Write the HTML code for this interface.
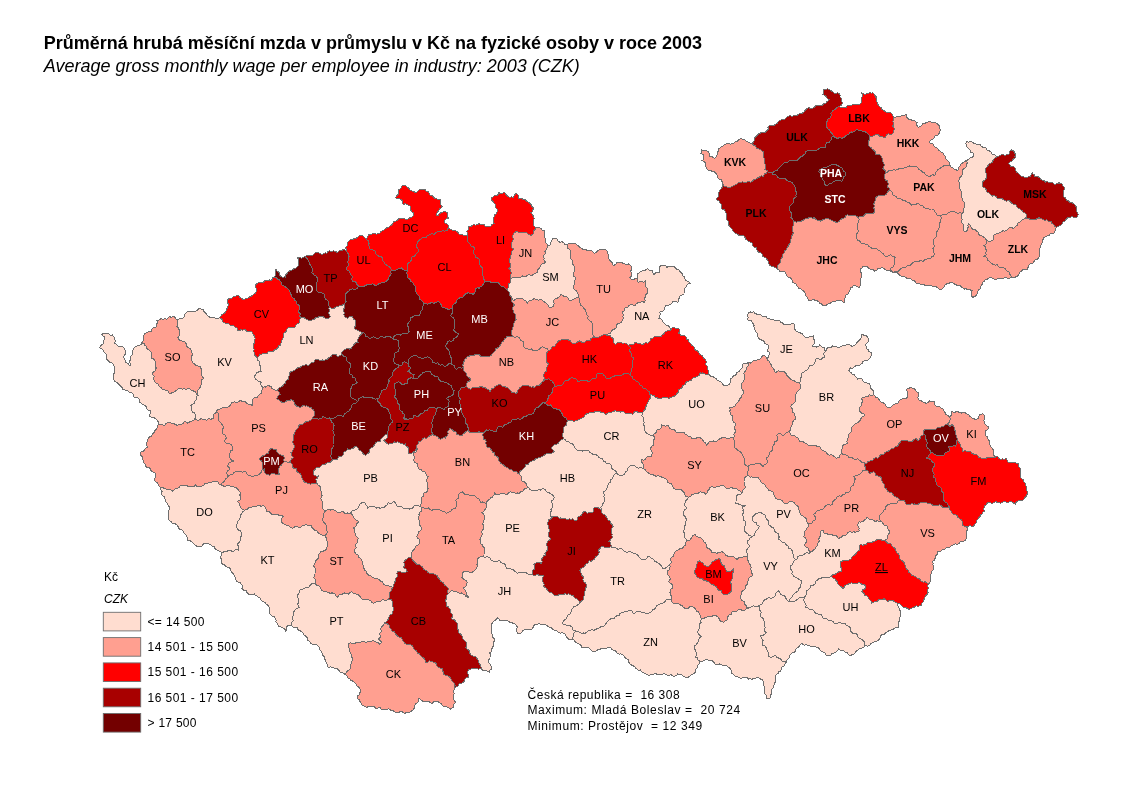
<!DOCTYPE html>
<html lang="cs"><head><meta charset="utf-8"><title>Průměrná hrubá měsíční mzda v průmyslu 2003</title>
<style>
html,body{margin:0;padding:0;background:#fff;}
body{width:1122px;height:794px;position:relative;overflow:hidden;font-family:"Liberation Sans",sans-serif;color:#000;}
.t1{position:absolute;left:43.8px;top:33px;font-size:18px;font-weight:bold;white-space:nowrap;line-height:20px;}
.t2{position:absolute;left:43.8px;top:55.5px;font-size:18px;font-style:italic;white-space:nowrap;line-height:20px;}
svg{position:absolute;left:0;top:0;}
.d{stroke:#6E6E6E;stroke-width:1;stroke-linejoin:round;shape-rendering:crispEdges;}
.l{font-size:11px;text-anchor:middle;font-family:"Liberation Sans",sans-serif;}
.lb{font-size:10.5px;font-weight:bold;text-anchor:middle;font-family:"Liberation Sans",sans-serif;}
.w{fill:#fff;}
.lg{font-size:12px;font-family:"Liberation Sans",sans-serif;}
</style></head><body>
<div class="t1">Průměrná hrubá měsíční mzda v průmyslu v Kč na fyzické osoby v roce 2003</div>
<div class="t2">Average gross monthly wage per employee in industry: 2003 (CZK)</div>
<svg width="1122" height="794" viewBox="0 0 1122 794">
<circle cx="510.5" cy="295.5" r="1.8" fill="#730000"/>
<path class="d" d="M101.8,334.3 103.8,333.0 106.4,333.3 108.7,333.8 109.6,334.7 110.8,335.2 112.5,335.0 113.3,336.7 114.7,337.4 114.3,338.8 115.0,340.2 115.2,342.0 114.2,343.5 116.0,344.1 118.0,346.1 120.1,347.0 122.1,346.7 123.8,347.6 124.5,348.8 125.2,351.0 125.7,353.0 125.3,354.2 124.0,355.8 123.8,357.1 124.5,359.6 125.7,360.9 126.0,362.8 128.4,363.3 129.1,364.9 130.7,366.0 130.4,363.6 129.2,362.5 130.2,360.0 130.2,358.3 130.5,356.3 131.7,355.6 132.4,354.2 132.7,352.6 132.0,351.4 133.2,349.5 134.5,347.3 136.0,346.7 137.8,345.4 139.7,345.4 141.1,344.4 141.4,343.1 143.3,343.1 144.3,343.8 145.0,345.4 146.1,346.1 146.5,347.9 148.1,349.5 149.5,350.2 151.0,352.1 151.9,353.6 151.5,355.7 151.9,358.4 153.5,358.8 154.9,360.7 155.4,363.1 155.0,364.6 155.4,367.1 156.4,368.1 155.3,369.6 154.9,371.4 152.5,372.4 152.6,374.1 154.1,376.5 153.2,378.9 154.5,380.6 155.4,382.7 156.5,383.6 158.5,384.2 158.9,385.7 160.1,386.9 161.3,387.7 162.0,389.1 163.9,389.6 166.1,390.4 167.8,390.4 168.4,392.5 170.3,393.8 172.0,392.6 173.5,392.5 175.0,391.4 175.6,390.6 177.1,390.1 178.2,388.7 180.1,388.6 182.0,389.1 184.2,388.9 186.3,389.1 187.8,388.6 189.8,388.8 191.4,390.2 192.8,390.6 195.2,391.9 196.6,394.1 198.1,395.3 196.8,396.0 196.3,397.5 196.4,399.5 194.9,401.3 194.5,403.0 192.6,404.3 190.6,405.6 192.0,407.6 191.4,409.6 192.3,412.0 194.5,413.0 195.3,414.1 196.0,416.3 195.1,417.7 194.9,419.5 192.4,420.5 190.7,421.9 188.5,422.1 187.5,423.0 185.8,421.7 184.2,421.7 183.6,423.5 182.1,423.8 180.6,424.9 178.2,424.8 176.7,425.9 176.0,424.6 174.2,423.9 172.8,423.2 171.3,423.2 170.4,422.5 168.5,422.8 167.3,422.8 165.8,423.7 164.9,425.3 163.2,425.1 162.2,424.1 160.4,424.7 158.9,424.5 158.5,422.3 157.4,420.9 156.8,419.5 155.1,418.6 154.4,417.2 152.6,417.4 151.4,417.4 149.9,416.3 149.9,414.3 150.2,412.6 151.0,411.0 148.4,410.1 147.0,409.3 146.1,406.7 144.6,405.1 142.6,404.8 141.4,403.5 139.6,402.0 139.0,399.3 138.0,398.1 136.2,397.0 133.9,397.1 133.8,394.9 132.8,393.5 130.9,392.5 129.2,392.9 128.8,391.6 127.5,390.6 126.0,390.8 124.2,389.6 122.1,389.6 122.5,388.5 121.7,386.8 120.5,386.1 118.9,384.2 117.4,382.7 116.3,382.0 114.7,381.7 114.5,380.6 113.4,379.2 113.1,376.7 113.2,374.3 114.5,372.8 114.5,370.6 114.0,369.2 114.3,366.4 113.5,365.4 113.1,363.8 111.4,362.8 110.0,362.6 108.9,361.4 107.8,360.2 106.5,359.1 106.3,356.9 106.1,354.2 104.4,352.6 103.4,351.0 103.1,349.8 101.5,348.3 99.6,347.8 100.8,345.8 102.3,344.2 103.9,343.5 103.5,341.5 104.2,338.9 104.1,336.6 102.8,335.8Z" fill="#FFDDD0"/>
<path class="d" d="M177.8,320.0 179.6,318.8 182.3,318.5 184.2,317.0 184.1,315.2 185.3,313.6 186.9,312.6 187.4,311.4 188.8,311.7 190.3,311.3 192.2,311.9 194.9,311.4 197.5,310.5 198.5,308.8 199.6,308.2 201.5,309.3 203.1,309.0 203.4,311.1 204.3,312.0 205.4,313.0 206.7,313.6 207.0,314.8 208.1,316.0 209.7,317.3 210.9,317.6 213.3,317.1 214.6,317.4 216.3,318.9 217.8,319.0 219.5,317.8 221.0,318.4 222.2,319.9 223.3,322.3 225.4,323.3 227.0,323.2 229.0,324.1 229.9,324.7 231.0,326.1 232.1,325.7 233.9,325.8 234.8,327.0 236.6,327.6 237.7,328.8 237.7,330.7 239.4,330.8 240.8,329.6 242.3,330.1 244.2,329.6 245.8,330.1 247.0,331.9 249.6,331.2 251.6,331.8 252.7,332.8 252.9,334.1 254.2,335.7 255.1,338.4 254.6,340.0 254.9,341.4 254.4,343.0 253.3,343.9 253.0,346.1 253.8,347.8 254.1,349.8 253.7,351.0 254.5,353.2 255.0,355.5 257.0,357.4 257.6,360.0 259.4,361.6 259.6,363.2 259.1,364.9 260.4,365.9 260.7,367.2 260.6,369.9 261.3,371.4 259.3,371.8 257.1,372.4 256.2,373.9 254.7,376.1 254.8,377.8 255.7,379.4 256.9,379.9 258.6,381.5 261.3,382.0 260.5,383.5 261.1,385.5 262.5,387.3 262.4,389.5 261.5,391.1 261.2,393.3 259.1,395.0 257.5,396.3 257.0,397.6 254.9,397.4 253.8,398.2 252.8,399.4 252.4,402.1 252.0,404.1 252.7,405.6 251.0,404.7 248.7,404.4 247.1,403.8 246.3,402.4 244.9,401.6 242.4,401.8 241.2,400.6 239.8,400.2 239.0,401.7 236.3,402.5 234.5,401.8 232.3,402.4 231.1,403.5 230.4,405.2 229.6,406.1 228.0,406.7 227.4,407.9 224.9,407.7 222.6,407.6 221.2,408.4 219.6,409.2 217.9,409.4 217.1,410.3 216.4,412.0 214.8,413.7 213.6,414.4 213.0,416.7 213.1,418.4 211.0,419.2 209.0,418.6 207.5,419.5 206.7,420.6 205.0,419.4 202.5,419.1 201.3,418.4 199.2,420.0 197.1,420.1 194.9,419.5 195.1,417.7 196.0,416.3 195.3,414.1 194.5,413.0 192.3,412.0 191.4,409.6 192.0,407.6 190.6,405.6 192.6,404.3 194.5,403.0 194.9,401.3 196.4,399.5 196.3,397.5 196.8,396.0 198.1,395.3 197.3,393.0 197.3,391.7 198.1,389.6 199.5,388.6 200.5,386.5 201.3,384.2 201.6,381.6 201.7,379.9 203.1,379.1 203.5,377.8 202.0,376.4 201.8,375.0 201.3,372.4 202.1,369.9 200.6,367.8 200.3,366.0 197.5,366.0 195.3,365.1 194.6,363.7 192.8,362.8 192.3,361.3 191.1,360.3 191.9,358.2 191.7,356.4 192.3,354.8 192.3,353.2 191.6,352.2 191.4,350.3 190.2,348.5 188.5,347.8 186.8,346.6 186.2,343.9 184.7,341.7 183.1,341.4 180.4,340.7 178.8,339.2 177.8,337.1 179.4,335.6 179.2,334.4 179.9,332.8 179.9,330.9 178.7,328.9 178.0,327.4 176.7,326.4 177.9,323.9 177.3,322.0Z" fill="#FFDDD0"/>
<path class="d" d="M547.4,246.0 549.9,245.2 550.8,243.4 551.3,240.7 552.7,238.9 554.3,238.3 555.6,238.5 557.1,239.2 557.9,241.2 559.9,242.2 562.0,241.7 564.3,243.1 564.9,244.5 567.3,244.9 567.9,246.1 567.8,248.2 569.7,249.7 570.5,251.3 570.9,253.8 570.4,255.3 570.2,258.0 571.7,259.6 572.7,262.0 572.7,264.1 573.4,265.2 575.0,266.7 574.0,269.0 574.3,270.8 573.7,272.7 573.2,274.5 573.8,276.4 575.1,277.0 575.9,279.1 574.6,280.4 574.0,281.8 574.6,283.4 573.7,285.6 574.0,286.8 573.9,288.5 574.7,289.9 576.2,290.9 577.1,292.0 578.0,294.1 578.4,296.1 578.9,297.8 579.9,298.5 578.1,297.5 575.4,298.1 574.1,299.0 572.8,299.3 571.6,300.6 570.2,300.6 568.7,299.6 567.9,298.0 566.3,296.3 564.2,296.4 562.7,295.4 560.9,294.2 560.5,295.8 558.9,297.2 557.3,298.2 555.6,298.5 554.0,299.8 553.7,301.3 554.1,303.6 553.4,306.0 551.0,307.4 549.1,307.0 548.6,305.6 547.6,304.5 546.5,303.9 545.5,302.5 543.8,301.7 542.5,300.2 540.2,299.7 538.8,300.2 536.3,299.4 534.2,298.5 532.0,300.1 529.4,300.6 528.1,301.5 527.7,303.8 526.6,302.6 525.9,300.8 524.2,300.4 522.4,298.5 520.4,299.0 519.0,298.5 517.8,299.0 516.0,298.9 513.8,300.6 512.0,298.7 510.9,297.4 510.9,295.2 509.6,294.8 508.5,293.1 507.7,291.5 507.4,289.9 507.7,288.1 508.4,287.2 508.5,285.6 508.9,283.7 510.4,282.6 510.8,281.5 510.6,279.6 512.4,277.5 514.3,277.3 516.2,277.4 518.1,278.1 520.3,277.4 522.4,276.0 524.0,276.6 526.3,276.3 527.6,275.0 529.9,274.9 531.7,275.4 533.5,274.5 535.6,273.0 537.4,272.8 537.5,270.8 538.1,269.3 539.8,267.9 540.6,265.3 542.3,263.8 544.0,263.4 545.9,262.1 544.6,261.6 543.9,259.9 544.2,258.4 543.6,257.0 543.8,255.2 545.2,253.8 544.9,251.4 545.9,250.6 546.6,248.8 547.2,247.9Z" fill="#FFDDD0"/>
<path class="d" d="M637.1,278.2 637.0,275.7 637.5,274.0 639.1,273.0 640.3,271.4 641.9,271.0 643.0,270.1 645.0,270.8 646.4,269.1 647.8,268.8 649.5,270.3 652.1,270.5 652.6,272.6 654.2,274.6 655.0,273.3 656.6,272.4 658.0,273.1 659.6,272.5 659.3,270.9 659.7,268.7 659.8,266.9 660.6,266.0 662.4,265.2 663.7,265.4 665.5,265.7 667.1,267.5 668.8,266.0 670.6,266.1 672.7,267.0 674.5,266.7 675.5,268.4 677.0,269.2 679.5,270.2 680.2,272.0 682.0,273.5 682.7,275.7 683.8,276.2 685.0,277.3 684.9,278.6 685.5,280.7 687.6,281.2 689.0,281.7 690.2,283.2 688.1,283.7 686.6,285.2 686.1,286.9 684.2,288.5 684.4,290.9 684.1,292.1 684.0,293.8 683.1,294.9 681.9,295.1 680.1,296.1 679.3,297.9 678.3,299.6 678.3,300.8 677.8,302.4 675.6,301.1 673.5,301.4 672.4,302.2 671.1,303.9 668.8,305.2 666.0,305.6 664.7,307.7 664.8,309.1 664.0,310.3 662.3,311.3 659.6,312.1 660.3,313.4 659.8,315.6 659.7,317.2 658.5,318.5 661.1,319.1 662.6,320.6 663.1,322.2 664.9,323.8 666.1,325.0 668.1,325.6 669.5,327.1 670.2,328.3 670.2,330.2 668.3,330.4 666.7,331.4 665.3,331.8 664.5,333.4 662.7,334.5 661.2,336.2 659.7,336.5 657.8,336.7 656.8,336.1 654.2,336.7 652.9,338.0 650.9,338.8 650.2,340.7 649.1,342.2 647.8,343.1 645.6,342.9 643.7,343.7 643.1,344.9 641.8,344.6 640.3,343.8 638.1,343.9 636.5,342.2 635.0,342.0 634.3,343.7 633.2,344.4 630.8,344.3 628.5,345.2 627.1,343.9 624.7,343.0 622.1,343.1 620.5,342.4 619.0,342.6 616.7,343.0 615.7,344.2 614.3,343.5 613.3,341.4 613.5,339.2 612.4,337.7 610.8,336.8 610.1,335.5 607.4,335.4 604.8,334.5 602.8,335.1 604.9,334.3 606.5,334.9 608.1,334.0 609.9,333.6 611.4,331.3 612.0,330.2 614.1,329.4 616.1,327.9 616.8,327.0 616.7,324.9 617.7,323.6 620.1,323.0 621.6,321.8 622.1,320.6 623.3,318.4 622.8,316.7 623.3,314.6 622.2,313.2 622.1,312.1 624.0,311.1 624.1,309.3 625.3,307.8 627.8,307.3 628.7,305.7 629.8,305.1 632.2,304.5 633.1,305.2 634.9,305.6 636.5,303.6 637.8,302.8 640.2,302.6 642.0,301.4 644.6,302.4 645.2,300.4 644.5,297.9 645.5,296.9 645.6,294.9 647.6,293.0 647.3,290.7 647.8,288.5 646.2,287.3 645.7,285.5 646.0,282.8 645.6,281.0 644.4,282.0 643.0,282.1 640.6,281.6 638.1,282.1 637.3,280.6Z" fill="#FFDDD0"/>
<path class="d" d="M300.6,317.7 301.9,317.1 303.8,317.2 304.8,318.6 307.2,319.3 309.1,320.5 311.2,320.5 312.7,319.4 314.1,319.3 314.8,318.4 316.2,317.5 318.0,317.6 318.8,316.5 320.6,316.1 323.0,316.6 324.1,317.8 326.0,318.2 328.7,318.3 330.5,316.7 329.1,314.9 328.7,312.2 329.8,310.4 328.9,308.4 329.4,307.0 330.9,308.1 332.9,308.8 334.1,308.6 335.7,307.0 337.5,306.9 339.4,305.9 342.1,305.4 343.9,304.1 344.7,306.2 344.3,308.1 343.0,310.4 344.2,312.4 343.9,314.9 345.3,317.1 347.5,318.5 348.4,317.5 350.4,316.5 352.8,316.7 353.3,318.9 354.8,319.8 355.5,321.1 355.9,323.7 355.6,325.3 354.6,327.4 354.8,328.6 356.2,329.9 357.6,330.2 359.1,331.0 360.3,331.2 361.8,332.6 363.6,332.8 362.2,333.1 361.1,334.6 359.4,335.7 359.1,337.2 357.9,339.5 357.6,341.4 358.2,342.6 355.6,342.7 353.7,344.6 353.1,346.0 351.9,347.1 351.1,348.5 349.6,349.1 348.4,348.4 346.6,348.9 345.4,349.1 343.7,350.3 341.9,352.0 341.7,353.9 340.3,355.9 339.0,356.0 337.6,356.9 336.3,354.9 334.4,355.0 333.2,354.2 331.9,354.9 331.1,356.5 328.7,357.8 327.1,359.3 324.6,360.2 322.6,360.0 321.5,360.5 319.9,360.6 318.1,359.3 315.3,359.6 314.4,360.3 314.0,362.2 311.4,362.7 309.9,364.1 308.0,365.8 306.9,364.9 305.3,364.9 303.7,365.8 300.9,366.2 300.1,367.4 298.3,367.6 296.3,368.5 294.6,370.4 292.0,371.2 290.7,371.4 289.4,373.2 289.4,375.5 288.5,376.6 288.5,379.2 286.8,380.2 285.9,381.4 285.8,382.8 284.1,384.0 283.6,384.9 282.4,386.2 281.4,386.9 279.5,387.3 278.2,389.4 276.8,390.0 275.2,390.0 273.2,389.1 272.1,388.6 271.3,386.8 270.1,386.4 268.8,385.5 267.2,385.7 265.9,387.1 264.5,386.8 262.5,387.3 261.1,385.5 260.5,383.5 261.3,382.0 258.6,381.5 256.9,379.9 255.7,379.4 254.8,377.8 254.7,376.1 256.2,373.9 257.1,372.4 259.3,371.8 261.3,371.4 260.6,369.9 260.7,367.2 260.4,365.9 259.1,364.9 259.6,363.2 259.4,361.6 257.6,360.0 257.0,357.4 258.8,356.7 259.7,354.9 260.7,354.2 262.6,353.8 265.0,354.0 267.0,353.8 268.2,351.8 269.7,351.5 271.9,351.8 273.1,351.5 274.7,349.8 276.8,348.9 278.1,347.3 278.7,345.6 280.9,345.1 280.7,343.8 281.3,341.7 282.0,339.7 282.7,338.4 283.8,337.3 283.1,335.9 283.1,333.7 284.0,332.8 285.6,331.9 286.8,330.4 287.0,329.2 289.0,327.3 291.4,327.2 293.4,327.6 294.7,327.4 295.9,325.1 297.0,323.9 299.2,322.9 299.5,320.2Z" fill="#FFDDD0"/>
<path class="d" d="M749.2,312.4 750.6,312.0 752.0,312.3 753.7,311.5 754.2,312.9 755.8,313.8 758.0,314.4 759.2,314.4 760.8,315.0 761.6,315.9 763.1,316.8 765.0,316.4 766.2,316.8 766.9,318.1 768.2,318.8 770.3,319.1 772.2,319.1 773.3,319.5 774.8,320.5 776.1,320.5 778.7,320.4 780.0,321.2 781.0,322.4 782.4,323.0 783.6,324.3 785.8,324.0 787.4,324.6 788.7,324.2 790.5,324.1 793.0,323.1 794.3,324.4 794.5,326.5 794.8,329.3 795.7,330.6 797.6,331.9 800.2,332.9 802.5,333.6 802.9,334.9 804.2,336.4 806.1,337.5 807.3,337.4 808.5,337.4 809.9,336.1 811.7,336.5 813.6,335.6 813.7,337.4 813.3,338.7 814.5,340.2 814.5,341.9 814.1,343.8 813.1,344.4 812.7,346.3 814.4,346.4 816.2,347.2 817.1,346.6 818.9,346.3 819.8,344.5 821.2,346.3 822.7,347.4 824.3,347.2 824.3,349.7 825.2,351.7 824.2,352.4 823.8,354.2 824.6,356.6 824.3,358.0 822.3,357.9 821.7,358.9 819.8,359.7 818.4,358.3 817.1,358.0 815.3,360.0 815.3,361.7 814.5,363.3 813.5,364.8 812.3,365.1 811.0,365.1 809.1,366.0 808.9,367.6 808.0,369.1 806.9,370.4 805.5,370.5 803.8,372.0 802.3,372.1 802.0,373.4 801.0,374.9 801.1,377.4 800.3,378.9 800.2,380.3 800.0,381.7 799.3,383.0 797.6,382.9 796.2,382.4 794.8,381.2 793.4,380.2 792.1,380.0 790.5,379.1 789.4,377.6 787.9,376.7 786.9,375.2 785.8,373.2 784.1,371.7 781.4,371.4 779.3,371.2 778.2,370.8 776.5,372.1 775.1,372.3 774.2,370.1 773.6,368.2 771.5,366.9 771.1,364.4 770.0,363.4 769.7,361.5 767.6,360.4 767.1,358.9 768.5,356.8 768.9,355.3 769.2,353.9 769.0,352.2 767.7,351.3 767.1,349.9 768.3,348.4 768.1,347.0 768.9,345.4 766.7,344.5 765.0,343.7 764.4,341.9 763.2,340.2 761.4,340.0 759.9,339.2 758.2,337.5 757.5,336.0 757.2,333.8 756.5,332.3 755.4,331.3 754.7,329.7 754.5,328.5 753.7,326.6 754.1,325.2 752.8,323.1 751.2,320.8 749.0,320.8 747.4,319.5 748.1,317.4 747.6,314.8 748.3,313.1Z" fill="#FFDDD0"/>
<path class="d" d="M825.2,351.7 826.2,350.3 826.8,348.4 828.8,347.2 831.6,347.1 832.9,345.8 833.9,346.5 835.9,346.3 838.0,347.5 840.7,346.9 841.9,345.9 843.1,345.4 845.2,345.8 846.8,344.4 848.4,344.5 850.0,344.8 852.0,346.3 854.3,345.3 856.1,344.1 857.4,341.9 859.1,340.6 860.0,339.5 860.9,338.5 861.2,336.8 861.0,334.7 863.2,334.9 864.5,335.6 866.5,336.0 867.5,337.3 869.0,339.2 868.4,340.4 868.0,342.5 866.3,343.7 865.7,345.1 866.1,346.8 867.2,349.0 868.5,350.1 869.0,351.8 871.7,352.6 871.6,355.4 870.7,356.2 870.3,357.9 869.0,358.9 867.8,360.4 865.9,360.9 864.5,360.6 862.8,361.6 862.0,363.5 861.0,364.2 858.9,365.6 857.5,365.4 855.6,366.0 853.9,367.0 852.8,368.2 850.6,367.9 849.3,368.7 848.9,370.2 849.9,372.0 851.1,372.5 852.0,374.1 854.5,375.0 855.5,376.6 856.8,377.7 857.4,379.4 859.7,378.3 861.9,378.5 862.3,380.2 863.8,381.6 864.9,382.8 867.2,383.0 869.2,383.8 870.2,385.3 870.0,386.7 870.8,388.4 872.8,390.0 873.8,391.9 874.0,393.3 873.5,394.7 871.6,395.5 869.2,394.9 868.1,396.3 866.8,396.8 864.2,397.1 862.9,397.1 861.5,398.6 862.4,400.3 862.6,401.6 861.6,403.1 861.5,405.8 860.1,406.7 859.6,408.5 859.7,411.1 861.6,413.1 863.7,413.8 865.0,414.7 863.6,416.5 861.8,417.1 860.6,419.2 859.5,421.5 857.8,422.4 857.0,423.2 855.2,423.7 853.6,425.8 851.6,427.2 851.5,428.8 852.1,430.1 851.3,431.0 850.7,432.6 849.1,433.7 848.4,435.3 848.0,438.0 847.8,440.1 846.9,441.2 847.2,443.3 845.7,444.2 844.5,444.2 842.7,446.0 842.7,447.8 841.2,450.1 841.1,451.3 841.8,453.5 839.8,455.0 839.5,456.8 838.8,457.8 836.4,458.1 834.5,456.9 832.6,455.1 830.7,454.9 829.3,455.1 827.2,454.2 826.8,452.8 825.7,451.8 823.6,450.6 822.3,450.1 821.0,448.7 820.3,447.4 819.2,446.2 816.9,446.4 815.6,445.4 813.8,445.3 811.6,445.7 810.2,445.5 807.7,445.0 806.6,443.5 804.2,442.9 802.8,441.4 801.2,441.1 799.5,441.7 798.7,439.4 798.3,438.1 796.8,437.2 795.7,436.9 794.3,435.6 792.3,435.4 790.5,434.7 790.1,433.3 788.8,431.9 790.8,429.9 790.7,428.1 791.4,426.5 792.4,424.4 792.4,422.9 793.5,420.3 795.4,419.0 795.9,417.6 795.0,416.1 794.8,415.0 794.3,413.3 792.3,412.2 792.0,411.0 792.4,408.8 790.6,406.8 791.7,404.6 793.6,403.7 795.0,401.7 795.3,399.6 795.0,397.9 795.7,396.7 795.8,394.9 796.1,393.3 796.8,392.1 798.6,390.7 800.2,389.0 800.7,387.5 800.1,386.1 800.4,384.8 799.3,383.0 800.0,381.7 800.2,380.3 800.3,378.9 801.1,377.4 801.0,374.9 802.0,373.4 802.3,372.1 803.8,372.0 805.5,370.5 806.9,370.4 808.0,369.1 808.9,367.6 809.1,366.0 811.0,365.1 812.3,365.1 813.5,364.8 814.5,363.3 815.3,361.7 815.3,360.0 817.1,358.0 818.4,358.3 819.8,359.7 821.7,358.9 822.3,357.9 824.3,358.0 824.6,356.6 823.8,354.2 824.2,352.4Z" fill="#FFDDD0"/>
<path class="d" d="M710.8,376.3 712.9,376.7 714.6,377.8 716.7,379.0 717.1,380.8 718.6,380.7 720.6,381.8 722.4,383.5 723.4,385.0 725.0,385.4 727.8,385.3 729.9,383.7 730.6,382.0 730.9,380.9 730.5,379.0 732.2,377.8 732.8,376.3 734.9,375.4 736.2,374.5 736.8,372.9 737.7,372.0 739.9,371.0 740.1,369.2 741.7,368.6 742.4,367.4 742.2,365.6 742.9,364.2 745.0,363.0 747.1,363.3 748.3,362.4 748.8,364.0 748.4,365.3 747.2,366.9 746.5,368.7 745.6,370.8 744.2,372.4 743.9,373.9 744.7,375.8 744.7,378.2 744.0,380.0 743.5,381.6 742.0,383.0 741.4,385.3 741.8,386.6 741.6,388.2 742.9,390.2 743.6,391.3 743.6,393.5 742.2,394.8 741.1,397.3 739.3,399.0 738.9,401.1 737.6,402.7 736.1,403.8 735.6,405.9 733.1,407.1 731.4,407.1 729.7,407.7 730.3,409.9 729.6,411.1 730.5,412.9 731.0,414.8 732.4,415.8 732.0,417.8 732.0,418.9 733.0,420.7 733.8,422.2 735.1,422.9 735.5,424.7 734.5,426.8 734.6,429.0 735.8,430.6 736.0,431.9 734.9,432.6 733.9,434.1 734.3,436.1 733.3,438.1 730.6,437.5 729.3,438.4 728.0,438.7 726.0,438.0 724.4,437.6 722.0,437.8 719.8,438.7 718.8,439.8 717.6,440.1 716.6,441.6 715.3,441.7 713.5,441.0 711.7,441.6 709.2,442.0 708.0,443.5 706.3,445.2 705.7,442.8 703.5,441.7 702.7,439.8 701.6,438.6 700.3,437.8 698.8,437.8 697.4,437.1 696.7,438.0 695.3,439.0 693.2,438.4 692.0,438.9 690.6,436.6 688.0,436.2 686.6,434.5 685.2,434.0 684.0,432.5 681.3,432.2 679.5,432.7 678.1,432.0 676.3,432.4 674.9,430.5 673.9,429.4 672.3,429.1 670.9,429.0 669.6,428.1 668.7,426.1 667.0,425.5 665.5,426.1 663.7,425.9 661.6,424.6 661.5,426.7 661.3,427.9 659.8,429.1 658.1,429.2 656.2,430.9 656.0,432.7 655.2,433.6 654.0,433.9 652.7,435.4 650.1,435.0 648.4,434.4 647.3,433.6 645.7,432.4 644.9,431.0 644.3,429.1 644.6,427.3 644.4,426.0 643.3,424.6 644.1,422.9 643.7,420.2 643.6,418.0 643.0,416.6 641.7,415.6 642.8,414.4 642.8,412.1 643.7,410.6 645.5,409.4 645.5,407.1 646.4,405.8 647.1,403.7 648.0,402.5 648.2,400.5 649.7,399.1 650.3,397.8 650.0,395.1 651.1,394.8 652.8,395.2 654.5,396.0 655.2,397.0 657.0,397.8 658.5,398.6 659.8,398.7 661.5,398.4 662.6,397.4 665.2,397.8 666.8,397.2 667.7,398.0 669.6,398.0 671.1,397.1 672.3,396.9 674.3,396.2 675.9,395.1 677.0,393.3 678.1,392.5 678.0,390.7 678.6,389.7 680.9,388.4 682.5,387.0 683.1,385.3 685.3,384.2 685.9,382.5 687.9,381.1 690.2,380.8 691.9,379.7 692.3,378.3 693.5,377.5 695.6,377.2 698.0,376.1 699.4,375.1 700.1,372.8 701.4,373.4 703.0,372.8 704.5,373.7 706.0,374.7 708.7,374.9Z" fill="#FFDDD0"/>
<path class="d" d="M567.9,420.8 569.5,420.7 570.8,420.1 573.0,421.1 574.3,421.3 575.8,420.2 576.9,420.3 578.8,419.8 581.1,418.4 583.7,417.3 584.9,415.2 586.5,413.9 588.4,413.9 589.9,412.3 592.1,412.0 593.7,413.0 595.0,411.5 596.5,411.2 598.6,411.3 600.8,412.1 601.8,412.6 603.7,412.9 605.3,414.0 606.6,414.0 608.0,413.0 609.7,412.2 612.1,412.1 614.1,411.5 615.1,410.3 616.4,411.6 618.7,411.7 620.2,412.1 622.3,411.2 624.4,412.1 625.7,413.7 627.4,413.4 629.4,413.9 630.9,413.5 632.7,414.1 634.1,412.5 634.9,411.6 636.6,411.2 637.7,412.5 640.3,412.9 642.8,412.1 642.8,414.4 641.7,415.6 643.0,416.6 643.6,418.0 643.7,420.2 644.1,422.9 643.3,424.6 644.4,426.0 644.6,427.3 644.3,429.1 644.9,431.0 645.7,432.4 647.3,433.6 648.4,434.4 650.1,435.0 652.7,435.4 654.1,436.7 654.6,438.7 653.4,440.1 653.4,442.5 653.5,445.2 651.6,446.5 650.9,447.6 650.9,449.3 651.3,450.8 652.8,452.9 651.9,454.4 652.0,456.3 649.3,456.8 647.8,456.3 646.2,457.6 645.6,459.0 643.5,460.1 641.9,459.8 641.8,462.1 642.8,463.8 643.7,464.6 643.2,466.7 643.6,468.8 642.3,468.4 640.8,467.3 639.1,468.1 637.4,467.9 635.5,466.8 634.8,465.4 632.0,465.2 630.2,465.5 629.5,466.5 627.6,468.5 627.5,470.6 625.3,471.8 624.7,473.9 623.1,475.0 620.9,475.7 619.5,475.1 617.5,474.4 616.8,473.2 615.7,470.9 613.2,469.7 611.3,468.1 611.7,466.4 610.6,464.3 609.1,463.4 606.7,463.7 605.2,461.6 603.1,460.9 602.9,459.5 601.6,458.3 600.6,458.4 598.9,457.7 598.3,456.3 596.1,454.8 594.1,454.9 592.8,454.6 591.8,453.2 589.9,452.6 589.4,451.3 587.9,450.2 586.7,450.6 584.6,450.5 582.6,451.1 581.1,450.2 579.2,450.1 577.7,450.3 575.7,448.7 574.3,447.2 573.4,444.7 571.9,443.5 570.3,443.4 568.7,441.9 567.3,441.0 565.9,441.0 565.5,439.9 564.0,438.9 562.7,436.7 562.2,434.0 563.1,432.6 563.8,430.5 563.1,429.0 564.1,426.9 565.4,425.9 566.6,425.5 566.5,422.9Z" fill="#FFDDD0"/>
<path class="d" d="M741.4,493.6 740.6,491.2 738.2,490.5 736.9,489.1 735.1,488.5 733.7,488.8 731.5,487.3 729.2,488.4 727.3,488.6 726.2,488.2 724.3,486.2 722.9,485.4 720.8,485.5 719.1,487.0 717.0,486.6 715.4,487.3 713.9,487.5 712.2,486.3 710.1,487.3 709.3,489.5 707.4,490.9 707.2,493.0 705.6,494.5 704.7,492.9 703.1,492.1 701.9,492.6 700.2,491.8 698.2,493.3 696.6,493.8 694.9,493.6 693.2,494.5 691.8,494.5 690.5,496.6 688.6,497.2 687.4,499.2 685.9,500.5 685.2,501.6 685.0,503.3 684.8,505.9 686.0,507.0 686.8,508.6 684.8,509.5 684.1,511.0 683.0,512.3 683.2,514.9 685.1,516.7 686.4,519.1 685.9,521.2 685.3,522.4 685.7,524.5 684.4,526.2 684.1,527.4 684.5,528.8 683.6,530.7 683.9,532.3 685.0,533.7 684.2,535.2 685.0,537.8 685.9,538.8 686.6,540.8 688.6,540.4 690.3,539.8 691.3,538.1 692.8,535.8 694.9,534.5 696.5,536.6 698.5,537.2 700.3,537.3 701.3,538.2 702.7,539.4 703.8,541.7 705.4,542.8 706.2,544.8 706.5,546.6 707.4,548.0 709.2,548.7 710.7,550.0 711.9,552.4 714.1,552.0 715.1,552.7 717.2,553.3 718.9,552.2 720.8,552.0 721.7,551.5 723.5,552.7 724.8,553.6 725.3,555.1 727.0,555.7 728.0,556.5 730.1,556.2 731.5,556.9 733.7,556.9 734.6,557.8 736.0,558.2 736.9,559.6 738.4,558.0 740.2,557.9 742.3,557.8 743.2,556.6 745.5,556.2 747.6,556.9 747.8,554.1 747.2,553.3 746.7,551.5 746.6,550.0 747.8,548.3 749.4,546.2 749.2,545.0 747.8,543.6 747.6,540.8 748.9,539.9 750.0,537.9 752.1,537.2 750.8,535.6 748.5,535.0 747.6,533.7 745.4,532.2 744.1,530.1 744.7,528.4 744.4,527.1 745.8,524.7 745.3,523.0 745.4,521.2 744.3,520.9 743.2,519.3 743.7,517.0 742.5,514.8 743.1,513.2 744.1,512.2 742.9,510.3 743.1,509.0 742.3,506.8 744.6,506.5 745.8,505.0 743.6,505.6 742.0,505.1 740.0,504.8 738.7,504.1 736.8,503.1 735.1,503.2 736.0,501.7 736.1,499.6 736.0,497.0 737.5,494.9 739.2,494.9Z" fill="#FFDDD0"/>
<path class="d" d="M747.6,475.7 748.9,476.1 750.2,477.3 751.5,476.8 753.0,477.5 754.5,477.1 756.2,477.6 758.1,477.8 759.0,478.7 760.2,480.2 760.5,481.5 762.1,482.9 763.7,483.4 765.5,485.5 766.0,487.1 767.3,488.1 768.8,490.3 770.9,490.9 772.6,491.6 773.5,492.7 773.6,494.4 774.5,496.3 775.4,498.1 776.7,498.9 778.0,499.7 779.8,499.8 782.3,500.3 783.5,502.7 785.2,503.4 787.6,503.5 788.8,502.0 790.6,501.6 792.2,501.4 794.5,502.9 795.9,505.2 797.6,505.8 798.3,506.8 798.5,508.9 799.5,510.6 799.5,511.9 800.5,513.4 801.1,515.0 803.1,515.9 804.2,517.5 805.4,517.7 806.5,519.3 806.6,520.4 807.1,522.1 808.4,523.9 808.6,525.1 808.0,526.8 806.6,528.3 805.9,530.5 804.0,531.9 804.7,533.8 804.1,535.3 803.9,536.8 805.1,537.5 805.8,539.0 806.8,540.3 806.6,542.0 805.5,542.6 805.0,544.5 804.9,546.2 806.6,547.3 808.0,548.1 808.8,550.1 809.6,551.2 809.3,553.3 806.7,552.8 805.0,553.4 803.1,555.1 801.9,555.5 799.6,555.5 797.7,556.9 797.4,558.5 795.9,559.6 794.3,558.7 793.9,557.3 793.2,555.1 792.8,552.6 792.4,550.8 791.4,549.7 790.4,548.5 788.9,548.3 788.2,546.4 787.0,545.3 785.7,544.5 784.8,542.7 783.4,542.7 781.6,541.7 780.3,540.2 778.0,539.0 779.3,537.2 778.6,535.3 778.9,533.7 776.7,532.9 775.0,531.5 774.5,530.1 773.5,528.0 771.9,527.4 770.9,526.5 769.2,525.0 768.4,523.5 768.2,521.1 767.8,520.0 766.3,519.0 765.5,516.7 764.9,514.9 763.5,514.2 761.9,513.1 759.6,512.4 757.5,513.1 755.6,513.8 753.9,515.8 752.3,517.2 752.1,518.5 752.6,520.7 754.0,522.1 756.6,522.9 757.0,524.9 758.4,525.6 759.3,526.5 758.5,528.9 756.6,530.1 755.3,532.1 754.8,533.5 754.8,535.4 753.0,536.1 752.1,537.2 750.8,535.6 748.5,535.0 747.6,533.7 745.4,532.2 744.1,530.1 744.7,528.4 744.4,527.1 745.8,524.7 745.3,523.0 745.4,521.2 744.3,520.9 743.2,519.3 743.7,517.0 742.5,514.8 743.1,513.2 744.1,512.2 742.9,510.3 743.1,509.0 742.3,506.8 744.6,506.5 745.8,505.0 743.6,505.6 742.0,505.1 740.0,504.8 738.7,504.1 736.8,503.1 735.1,503.2 736.0,501.7 736.1,499.6 736.0,497.0 737.5,494.9 739.2,494.9 741.4,493.6 742.2,492.3 742.3,490.9 743.1,489.7 744.7,488.4 745.4,487.0 744.9,485.5 744.9,483.8 744.0,482.0 744.1,479.3 745.2,477.0Z" fill="#FFDDD0"/>
<path class="d" d="M752.1,537.2 753.0,536.1 754.8,535.4 754.8,533.5 755.3,532.1 756.6,530.1 758.5,528.9 759.3,526.5 758.4,525.6 757.0,524.9 756.6,522.9 754.0,522.1 752.6,520.7 752.1,518.5 752.3,517.2 753.9,515.8 755.6,513.8 757.5,513.1 759.6,512.4 761.9,513.1 763.5,514.2 764.9,514.9 765.5,516.7 766.3,519.0 767.8,520.0 768.2,521.1 768.4,523.5 769.2,525.0 770.9,526.5 771.9,527.4 773.5,528.0 774.5,530.1 775.0,531.5 776.7,532.9 778.9,533.7 778.6,535.3 779.3,537.2 778.0,539.0 780.3,540.2 781.6,541.7 783.4,542.7 784.8,542.7 785.7,544.5 787.0,545.3 788.2,546.4 788.9,548.3 790.4,548.5 791.4,549.7 792.4,550.8 792.8,552.6 793.2,555.1 793.9,557.3 794.3,558.7 795.9,559.6 794.4,560.3 793.2,562.3 792.4,564.7 790.6,565.8 791.0,567.0 790.7,569.2 792.3,571.2 791.9,573.6 792.9,574.9 793.8,576.5 795.9,577.5 798.0,578.3 799.1,579.8 801.3,580.2 801.3,581.3 802.0,583.0 800.7,584.8 800.4,587.3 798.4,588.9 798.2,590.6 797.7,591.8 796.5,592.0 795.1,593.1 793.1,594.6 792.3,596.2 791.7,597.6 790.3,598.3 789.6,600.1 789.6,601.6 788.4,601.2 786.9,599.7 786.1,598.7 785.5,596.9 784.3,595.7 782.8,595.2 781.7,595.0 780.3,593.8 779.6,591.9 778.4,590.7 777.4,591.8 776.1,592.5 775.8,594.2 774.8,596.2 773.0,597.8 771.2,598.3 769.9,597.9 768.4,598.0 766.6,599.0 764.8,599.5 763.2,601.5 762.2,603.7 761.4,604.4 759.7,605.0 758.1,606.4 756.8,606.5 754.5,606.2 753.3,605.5 752.3,606.5 750.1,607.4 748.2,608.1 746.7,607.9 746.5,606.1 745.8,605.2 744.6,604.0 744.1,601.6 742.3,600.8 741.1,599.2 740.3,597.6 740.5,596.2 741.4,594.5 741.2,592.7 742.3,590.9 744.5,589.9 745.3,588.6 746.0,587.0 745.8,585.5 747.9,583.7 747.4,582.3 748.5,580.2 748.6,578.6 749.8,577.0 751.5,576.8 753.0,574.8 751.4,572.8 751.2,570.6 750.6,569.3 751.2,567.6 750.7,565.1 749.4,563.9 748.5,562.3 748.5,561.0 747.2,559.5 747.6,556.9 747.8,554.1 747.2,553.3 746.7,551.5 746.6,550.0 747.8,548.3 749.4,546.2 749.2,545.0 747.8,543.6 747.6,540.8 748.9,539.9 750.0,537.9Z" fill="#FFDDD0"/>
<path class="d" d="M809.3,553.3 810.6,551.8 812.0,551.5 812.8,550.3 814.9,549.3 815.2,547.9 816.8,546.5 817.4,544.4 818.6,542.1 819.6,541.0 818.9,539.4 819.2,537.2 820.3,536.2 821.1,534.0 820.7,532.3 821.0,531.0 823.6,530.1 823.6,532.1 824.5,533.7 826.5,533.6 828.6,534.4 830.3,534.9 831.4,534.5 833.1,535.3 834.3,535.7 835.9,535.6 837.2,536.5 838.5,538.8 839.6,537.8 841.3,537.5 843.0,535.3 845.8,535.0 847.4,533.5 848.1,532.3 849.7,531.5 851.7,532.3 853.7,531.7 855.3,532.3 857.1,531.7 859.1,530.8 858.9,529.7 859.1,528.0 858.2,526.3 857.8,525.0 858.1,523.4 859.1,521.8 860.9,522.1 862.0,521.8 863.5,521.0 864.6,519.6 866.1,519.1 867.1,517.4 868.8,519.0 870.7,519.2 872.7,519.9 874.2,520.4 875.1,521.8 877.4,520.6 878.7,521.2 880.5,521.0 882.2,522.3 883.2,523.7 884.6,525.6 885.9,525.6 887.6,526.3 888.0,527.3 887.9,529.1 889.4,530.8 889.4,533.2 888.1,534.6 887.6,536.2 887.0,538.9 884.9,540.6 882.3,540.6 880.3,539.2 878.6,539.7 876.9,539.7 875.8,540.8 873.3,541.5 872.0,542.5 869.3,542.3 867.4,542.7 866.2,544.2 864.3,544.4 863.0,545.3 861.4,544.8 859.9,545.1 859.5,546.4 859.7,548.6 859.0,550.5 857.0,551.6 856.6,553.1 855.4,554.1 854.4,555.5 852.8,556.0 851.7,557.3 851.0,559.4 848.9,560.1 847.3,560.5 845.6,560.3 844.1,560.1 842.7,560.8 841.9,561.5 840.2,562.1 840.6,564.5 840.2,566.6 841.4,568.1 841.3,569.8 842.0,571.0 840.1,571.7 839.0,571.6 837.7,572.8 835.8,573.7 834.7,574.6 832.8,574.6 832.0,575.8 830.4,576.4 828.8,577.9 826.5,577.7 825.2,578.0 823.5,577.3 822.1,577.2 821.1,578.2 819.3,578.1 818.0,579.8 816.6,580.4 815.5,581.7 815.0,583.8 813.2,585.2 810.9,585.2 810.5,587.3 809.4,588.6 807.9,590.1 806.4,590.6 806.8,593.3 806.1,595.0 805.8,596.3 804.3,597.2 803.0,597.9 801.4,597.9 799.2,597.8 798.0,599.1 796.6,599.5 795.7,600.9 794.0,601.5 791.4,601.0 789.6,601.6 789.6,600.1 790.3,598.3 791.7,597.6 792.3,596.2 793.1,594.6 795.1,593.1 796.5,592.0 797.7,591.8 798.2,590.6 798.4,588.9 800.4,587.3 800.7,584.8 802.0,583.0 801.3,581.3 801.3,580.2 799.1,579.8 798.0,578.3 795.9,577.5 793.8,576.5 792.9,574.9 791.9,573.6 792.3,571.2 790.7,569.2 791.0,567.0 790.6,565.8 792.4,564.7 793.2,562.3 794.4,560.3 795.9,559.6 797.4,558.5 797.7,556.9 799.6,555.5 801.9,555.5 803.1,555.1 805.0,553.4 806.7,552.8Z" fill="#FFDDD0"/>
<path class="d" d="M830.4,576.4 832.0,577.0 833.1,578.2 835.2,579.3 836.3,581.1 837.5,581.8 838.0,584.3 839.4,585.1 840.2,586.3 841.7,587.2 842.9,588.9 844.2,587.2 844.5,586.0 845.5,585.1 847.4,584.5 849.5,583.5 851.6,582.9 853.6,583.6 856.0,584.1 858.1,583.0 859.9,582.7 861.3,583.9 862.3,584.6 864.4,584.5 865.5,586.2 865.3,588.0 864.6,589.2 862.7,589.9 861.7,591.6 863.4,592.5 864.3,593.8 864.4,595.2 866.1,595.5 867.8,596.5 868.8,598.8 870.8,600.6 871.5,603.3 873.4,602.5 874.2,601.5 876.2,601.5 877.5,601.2 878.7,599.7 880.1,599.2 882.1,599.7 884.0,598.8 885.8,599.7 887.6,601.5 889.0,600.6 890.3,600.2 893.0,600.6 895.1,602.3 897.5,603.3 897.3,605.4 898.5,606.6 899.4,608.5 899.6,609.8 900.8,611.5 900.7,614.1 900.5,616.1 899.6,617.2 899.3,618.8 899.9,620.1 898.5,622.4 899.0,625.2 898.5,627.2 896.0,627.6 894.2,628.3 893.1,629.9 891.1,629.8 888.6,631.0 887.3,631.5 886.0,632.6 884.4,634.1 882.2,634.3 880.6,635.8 880.6,637.1 879.1,639.4 877.6,640.9 876.2,641.5 874.0,641.9 873.0,642.6 870.9,643.6 869.9,645.1 867.8,646.1 865.9,645.7 864.5,646.0 864.8,643.8 864.3,642.0 863.4,640.4 861.9,639.7 860.2,638.3 858.8,637.9 857.8,636.4 857.4,634.4 855.9,633.8 853.3,634.0 852.4,632.5 851.1,631.7 850.1,630.3 850.3,628.7 850.0,627.4 848.4,626.3 846.3,625.5 845.5,624.0 843.1,623.7 840.5,622.8 838.8,622.5 837.6,623.2 835.9,623.7 834.1,623.2 833.0,621.6 830.8,620.5 828.8,621.0 827.7,619.4 826.4,618.9 824.8,618.2 823.4,618.3 822.2,617.0 821.6,614.7 819.9,614.9 817.5,613.8 816.1,613.8 814.5,612.0 813.1,610.0 811.7,609.5 809.1,609.3 808.0,608.1 805.5,607.6 806.1,605.2 805.7,603.6 804.6,602.2 803.6,600.2 804.4,598.3 804.3,597.2 805.8,596.3 806.1,595.0 806.8,593.3 806.4,590.6 807.9,590.1 809.4,588.6 810.5,587.3 810.9,585.2 813.2,585.2 815.0,583.8 815.5,581.7 816.6,580.4 818.0,579.8 819.3,578.1 821.1,578.2 822.1,577.2 823.5,577.3 825.2,578.0 826.5,577.7 828.8,577.9Z" fill="#FFDDD0"/>
<path class="d" d="M864.5,646.0 863.6,647.5 861.5,648.2 859.2,648.7 857.7,650.2 856.5,650.6 855.6,652.3 854.3,653.8 852.7,654.5 850.6,655.4 848.4,654.9 847.0,652.6 845.3,652.2 844.6,651.4 843.1,650.5 840.5,650.3 838.6,648.7 838.3,649.7 837.0,651.1 835.5,652.6 833.2,653.2 831.5,653.8 830.6,655.4 829.1,655.3 827.0,655.8 826.0,654.9 825.0,653.2 824.0,652.2 821.6,651.4 820.0,650.3 819.1,649.1 818.9,647.7 817.2,647.9 816.0,646.8 814.5,646.9 812.4,646.3 811.1,646.7 809.0,645.4 807.3,645.1 805.7,644.8 804.3,645.1 802.7,644.6 801.9,643.3 800.6,644.7 799.4,645.2 799.1,646.6 797.5,647.8 795.8,649.2 795.8,650.6 794.7,652.0 792.4,652.4 791.2,654.1 789.3,655.8 789.0,658.2 787.6,659.4 786.8,660.4 786.7,662.1 785.0,661.6 783.3,661.6 781.9,660.9 780.5,658.5 778.0,657.9 776.7,657.1 775.1,654.9 774.0,656.0 772.2,656.9 770.8,657.2 768.9,656.7 768.4,654.5 768.6,653.1 767.6,651.7 767.1,650.5 766.9,648.6 765.6,647.0 764.9,645.7 762.6,645.1 762.4,642.5 763.2,640.7 762.3,639.8 761.7,638.0 761.0,636.7 760.8,635.3 762.9,635.3 764.6,634.3 766.2,632.6 764.7,631.0 764.6,629.4 765.3,627.2 764.4,625.4 765.0,623.2 764.4,621.9 763.7,620.3 763.5,618.5 761.7,617.6 760.8,616.5 760.5,613.9 761.1,612.5 759.9,610.2 759.1,607.5 759.7,605.0 761.4,604.4 762.2,603.7 763.2,601.5 764.8,599.5 766.6,599.0 768.4,598.0 769.9,597.9 771.2,598.3 773.0,597.8 774.8,596.2 775.8,594.2 776.1,592.5 777.4,591.8 778.4,590.7 779.6,591.9 780.3,593.8 781.7,595.0 782.8,595.2 784.3,595.7 785.5,596.9 786.1,598.7 786.9,599.7 788.4,601.2 789.6,601.6 791.4,601.0 794.0,601.5 795.7,600.9 796.6,599.5 798.0,599.1 799.2,597.8 801.4,597.9 803.0,597.9 804.3,597.2 804.4,598.3 803.6,600.2 804.6,602.2 805.7,603.6 806.1,605.2 805.5,607.6 808.0,608.1 809.1,609.3 811.7,609.5 813.1,610.0 814.5,612.0 816.1,613.8 817.5,613.8 819.9,614.9 821.6,614.7 822.2,617.0 823.4,618.3 824.8,618.2 826.4,618.9 827.7,619.4 828.8,621.0 830.8,620.5 833.0,621.6 834.1,623.2 835.9,623.7 837.6,623.2 838.8,622.5 840.5,622.8 843.1,623.7 845.5,624.0 846.3,625.5 848.4,626.3 850.0,627.4 850.3,628.7 850.1,630.3 851.1,631.7 852.4,632.5 853.3,634.0 855.9,633.8 857.4,634.4 857.8,636.4 858.8,637.9 860.2,638.3 861.9,639.7 863.4,640.4 864.3,642.0 864.8,643.8Z" fill="#FFDDD0"/>
<path class="d" d="M786.7,662.1 785.0,663.6 784.6,665.8 782.3,666.6 781.4,667.8 781.3,669.6 780.1,671.5 778.7,671.9 778.0,673.5 776.6,674.3 775.6,675.8 775.5,677.1 776.0,679.1 775.9,681.6 774.4,682.8 774.2,684.5 773.2,686.7 773.1,688.1 771.5,689.8 772.0,691.7 771.8,693.1 770.6,695.2 770.3,697.6 769.7,698.8 768.3,698.7 766.2,697.9 766.5,695.2 765.1,694.1 764.4,691.6 764.0,688.8 764.9,687.1 763.6,685.8 763.5,684.5 763.6,681.9 762.6,680.0 760.9,679.4 759.9,678.6 758.3,677.8 756.5,677.6 755.4,678.2 752.9,678.6 751.8,679.5 749.7,678.6 748.3,679.1 747.0,677.4 745.4,677.1 742.9,677.3 741.4,678.2 739.3,677.9 737.9,676.9 735.8,676.4 734.6,675.7 733.8,674.3 731.3,673.7 731.9,672.4 731.3,670.5 730.7,668.7 728.6,667.5 727.5,666.3 726.2,665.0 725.0,665.0 722.8,665.3 721.5,664.8 719.4,664.0 717.0,664.8 715.7,664.6 714.3,663.0 712.5,661.0 710.3,660.0 708.9,660.3 706.3,659.7 704.8,660.1 702.8,661.1 701.5,661.4 699.5,661.0 698.1,659.9 697.3,657.9 695.0,657.5 696.1,656.2 696.2,654.2 696.4,653.1 695.9,651.2 694.8,649.2 694.6,647.2 694.1,645.8 695.4,645.6 696.7,644.0 697.7,642.3 698.6,641.0 698.8,639.5 699.3,638.2 701.3,636.9 700.4,635.5 698.8,634.6 697.8,633.0 697.7,631.5 699.0,629.3 699.6,628.1 699.5,626.2 699.8,623.7 701.1,622.4 700.6,620.9 701.3,619.0 703.8,618.8 705.0,617.5 706.6,617.2 708.3,616.6 709.6,616.9 711.4,616.6 713.8,615.4 715.7,615.4 717.2,616.5 718.6,617.3 719.2,619.0 720.2,621.0 722.3,621.6 723.6,622.6 725.4,620.8 727.0,620.1 727.1,618.4 728.1,616.3 729.6,614.5 731.8,614.1 731.8,612.0 732.6,611.0 734.6,611.4 735.8,611.2 737.5,610.9 738.8,609.2 740.7,609.1 741.8,610.3 743.3,611.0 744.3,610.5 745.7,609.3 746.7,607.9 748.2,608.1 750.1,607.4 752.3,606.5 753.3,605.5 754.5,606.2 756.8,606.5 758.1,606.4 759.7,605.0 759.1,607.5 759.9,610.2 761.1,612.5 760.5,613.9 760.8,616.5 761.7,617.6 763.5,618.5 763.7,620.3 764.4,621.9 765.0,623.2 764.4,625.4 765.3,627.2 764.6,629.4 764.7,631.0 766.2,632.6 764.6,634.3 762.9,635.3 760.8,635.3 761.0,636.7 761.7,638.0 762.3,639.8 763.2,640.7 762.4,642.5 762.6,645.1 764.9,645.7 765.6,647.0 766.9,648.6 767.1,650.5 767.6,651.7 768.6,653.1 768.4,654.5 768.9,656.7 770.8,657.2 772.2,656.9 774.0,656.0 775.1,654.9 776.7,657.1 778.0,657.9 780.5,658.5 781.9,660.9 783.3,661.6 785.0,661.6Z" fill="#FFDDD0"/>
<path class="d" d="M671.1,600.1 669.4,599.4 667.6,599.1 665.5,600.3 665.1,601.4 663.6,602.8 661.9,603.8 659.9,604.0 658.7,604.9 656.6,605.6 655.8,607.7 654.3,609.2 653.0,609.2 652.2,611.1 650.3,612.8 648.0,613.1 645.4,613.1 644.1,611.9 641.5,612.4 640.2,611.3 638.7,611.0 636.1,611.7 634.2,613.7 633.0,613.1 631.9,611.1 629.7,610.1 628.5,610.5 627.2,611.7 626.1,611.4 624.4,611.9 622.3,612.2 620.5,613.1 619.8,613.9 619.0,615.5 617.0,615.5 615.1,617.0 613.7,619.0 611.1,618.7 609.2,619.8 608.3,620.8 606.4,622.5 605.6,624.4 603.6,626.1 601.1,626.2 600.4,627.3 598.7,628.2 596.7,628.9 595.1,629.7 593.8,630.3 592.2,629.8 589.8,630.2 588.3,630.5 586.8,632.4 584.8,633.3 583.0,632.9 581.5,633.3 579.2,632.0 577.6,631.4 576.1,631.6 574.5,632.1 573.8,633.2 573.4,635.1 572.9,637.7 571.6,639.6 574.3,640.0 574.9,641.4 576.0,642.6 577.9,643.2 579.9,644.5 581.3,646.0 581.4,647.2 583.6,647.9 585.0,647.6 586.3,647.0 587.9,647.4 589.6,648.2 590.9,650.1 592.2,651.2 594.6,651.3 596.7,650.7 597.7,649.8 599.3,649.4 601.7,648.6 602.9,649.0 604.7,648.5 606.1,648.5 607.5,647.9 609.5,647.7 610.8,648.0 611.9,649.4 613.2,650.3 615.7,651.0 617.2,653.0 619.2,654.1 620.9,653.8 622.9,654.8 624.4,656.6 626.0,658.6 628.0,659.3 628.4,661.5 629.7,663.7 631.2,664.7 631.9,665.9 633.3,665.8 635.1,667.3 636.3,668.8 637.5,669.5 638.6,670.2 640.5,670.0 641.5,671.7 643.5,672.7 645.8,673.6 646.7,674.5 648.2,675.2 650.0,675.0 651.0,674.4 653.0,674.5 654.7,673.6 655.7,673.5 657.7,674.8 660.2,674.5 662.1,674.6 663.7,673.8 665.7,674.1 667.3,675.4 668.9,675.5 671.0,674.5 672.9,676.1 674.5,676.2 676.7,675.3 677.6,674.0 679.0,674.8 681.6,674.5 683.4,676.6 685.2,677.1 686.9,677.4 688.1,677.1 689.7,676.7 690.6,675.4 692.1,674.3 693.3,674.0 694.9,672.7 695.9,670.9 696.0,668.8 697.2,667.8 697.7,665.5 699.2,663.5 699.5,661.0 698.1,659.9 697.3,657.9 695.0,657.5 696.1,656.2 696.2,654.2 696.4,653.1 695.9,651.2 694.8,649.2 694.6,647.2 694.1,645.8 695.4,645.6 696.7,644.0 697.7,642.3 698.6,641.0 698.8,639.5 699.3,638.2 701.3,636.9 700.4,635.5 698.8,634.6 697.8,633.0 697.7,631.5 699.0,629.3 699.6,628.1 699.5,626.2 699.8,623.7 701.1,622.4 700.6,620.9 701.3,619.0 700.8,616.7 699.5,614.5 698.5,611.9 696.7,611.4 695.9,610.1 694.7,608.1 693.4,607.3 692.5,606.8 690.6,606.5 689.3,606.9 688.5,608.4 686.9,608.0 685.2,608.3 683.5,607.5 682.1,605.6 679.8,604.7 678.4,603.6 676.8,603.1 674.5,603.8 672.2,602.6Z" fill="#FFDDD0"/>
<path class="d" d="M519.3,473.7 519.5,472.2 521.1,470.2 522.5,469.9 523.7,468.3 525.0,467.5 525.6,464.8 526.9,464.0 528.4,464.3 529.6,462.1 530.9,461.2 532.3,460.8 533.9,460.9 534.5,459.6 536.3,458.6 538.7,457.6 540.4,457.8 541.6,456.4 543.4,455.9 545.5,454.2 547.2,453.4 548.8,453.2 550.2,453.6 552.2,453.0 554.2,451.4 552.9,449.6 551.5,448.7 552.2,446.7 554.2,445.1 555.1,444.3 556.8,444.0 558.0,443.4 559.5,441.6 560.9,440.1 562.5,439.1 564.0,438.9 565.5,439.9 565.9,441.0 567.3,441.0 568.7,441.9 570.3,443.4 571.9,443.5 573.4,444.7 574.3,447.2 575.7,448.7 577.7,450.3 579.2,450.1 581.1,450.2 582.6,451.1 584.6,450.5 586.7,450.6 587.9,450.2 589.4,451.3 589.9,452.6 591.8,453.2 592.8,454.6 594.1,454.9 596.1,454.8 598.3,456.3 598.9,457.7 600.6,458.4 601.6,458.3 602.9,459.5 603.1,460.9 605.2,461.6 606.7,463.7 609.1,463.4 610.6,464.3 611.7,466.4 611.3,468.1 613.2,469.7 615.7,470.9 616.8,473.2 614.4,474.5 613.2,476.8 612.5,478.6 610.6,479.5 610.6,482.2 608.9,483.2 608.5,484.8 607.0,485.8 607.0,488.0 606.3,489.3 604.8,491.4 603.4,492.0 603.8,494.0 604.8,494.7 603.9,496.6 604.3,498.3 604.6,500.6 603.8,502.8 602.5,503.7 602.4,505.5 600.8,507.3 601.6,509.9 599.3,508.8 598.0,507.2 595.9,507.0 593.6,508.1 594.0,510.2 592.7,512.6 591.1,512.7 589.9,512.1 588.5,512.3 587.3,513.5 585.4,511.7 583.7,511.7 582.5,512.9 581.7,514.6 580.5,515.9 579.3,516.2 577.3,517.7 577.5,519.0 576.6,520.6 574.5,520.5 572.8,518.9 570.8,519.2 569.4,518.9 567.7,519.6 566.4,519.3 564.9,518.3 562.3,518.9 560.5,518.0 559.0,518.1 558.0,516.9 556.9,516.2 554.2,516.4 552.7,516.8 551.5,518.0 551.1,516.6 550.1,515.0 550.6,512.6 551.4,510.6 551.0,509.4 552.4,507.2 552.9,504.8 552.7,503.7 551.5,501.9 552.0,500.6 553.7,499.7 554.2,497.4 553.7,496.1 552.5,495.0 550.6,493.8 549.1,492.8 547.8,492.9 546.2,491.1 544.7,489.1 542.6,488.5 540.5,490.1 538.8,489.7 537.2,490.2 535.7,490.3 533.9,491.0 531.9,490.2 529.9,489.5 529.2,488.1 527.6,487.4 526.9,485.9 526.4,483.6 524.5,482.0 522.1,481.1 521.2,479.8 521.0,478.2 521.0,476.1 519.9,474.9Z" fill="#FFDDD0"/>
<path class="d" d="M529.2,488.1 529.9,489.5 531.9,490.2 533.9,491.0 535.7,490.3 537.2,490.2 538.8,489.7 540.5,490.1 542.6,488.5 544.7,489.1 546.2,491.1 547.8,492.9 549.1,492.8 550.6,493.8 552.5,495.0 553.7,496.1 554.2,497.4 553.7,499.7 552.0,500.6 551.5,501.9 552.7,503.7 552.9,504.8 552.4,507.2 551.0,509.4 551.4,510.6 550.6,512.6 550.1,515.0 551.1,516.6 551.5,518.0 550.2,519.5 548.9,519.7 548.4,521.5 547.1,522.4 547.3,524.2 548.7,525.7 548.2,527.1 548.9,528.7 549.5,530.2 548.9,532.0 548.0,534.1 548.6,536.6 549.6,537.4 550.6,539.4 548.9,540.3 547.4,541.6 547.1,543.0 546.6,545.2 548.0,547.5 547.5,549.6 546.2,551.9 544.9,553.7 545.2,555.5 543.9,555.7 542.6,557.3 541.9,558.8 541.7,560.1 542.1,561.5 541.7,563.6 540.0,562.7 537.2,562.7 535.4,563.2 533.7,564.5 534.6,566.4 534.5,568.9 533.0,570.2 532.6,571.9 532.1,574.0 529.7,574.7 528.3,574.3 526.4,572.8 524.3,572.9 523.0,572.5 521.7,572.9 519.5,572.3 517.6,573.4 515.9,571.7 514.0,570.7 513.1,569.6 511.4,569.2 509.9,568.6 507.8,569.0 506.1,567.5 505.1,565.7 505.1,564.5 503.9,563.4 501.5,562.9 500.4,561.9 499.7,560.0 497.6,561.3 496.4,561.9 494.3,561.8 493.0,561.0 491.2,560.6 490.7,558.8 489.0,557.3 486.9,556.6 485.4,557.2 484.2,557.0 482.8,556.0 484.5,554.5 484.8,553.2 484.2,552.0 484.4,550.1 484.4,547.9 482.9,546.5 482.6,544.8 481.2,544.0 480.5,542.7 480.7,541.2 480.0,539.4 480.4,537.5 481.6,536.1 482.2,534.0 481.7,532.2 482.3,530.1 483.6,529.2 483.0,527.2 483.5,525.1 482.8,524.1 483.2,522.3 483.5,520.6 484.1,519.7 484.4,517.9 484.2,515.5 483.5,514.0 481.7,512.6 483.1,512.0 484.1,510.8 485.3,509.0 486.2,507.9 486.7,506.2 486.2,503.6 487.2,501.0 488.6,499.9 489.9,499.6 490.7,497.4 492.3,497.2 493.5,495.7 494.0,494.7 494.3,492.9 496.2,494.6 498.5,494.5 500.2,493.8 501.5,493.8 504.0,493.5 506.1,494.4 507.9,493.9 508.6,492.9 510.2,491.9 511.3,492.0 513.0,492.4 514.9,492.9 515.8,493.8 517.6,493.0 519.3,493.6 520.7,491.7 522.9,491.1 523.7,489.5 524.6,488.9 526.3,488.4 527.9,487.7Z" fill="#FFDDD0"/>
<path class="d" d="M616.8,473.2 617.5,474.4 619.5,475.1 620.9,475.7 623.1,475.0 624.7,473.9 625.3,471.8 627.5,470.6 627.6,468.5 629.5,466.5 630.2,465.5 632.0,465.2 634.8,465.4 635.5,466.8 637.4,467.9 639.1,468.1 640.8,467.3 642.3,468.4 643.6,468.8 645.2,469.6 646.3,471.5 648.2,472.5 649.5,473.9 651.5,474.8 653.5,475.0 655.0,475.5 656.0,476.3 657.6,475.8 659.0,475.9 660.6,476.8 663.3,477.4 665.5,478.7 667.4,480.2 667.8,482.2 669.6,483.4 671.0,483.6 672.4,485.2 673.1,487.6 674.1,488.5 676.2,489.4 678.7,489.1 680.6,489.2 681.5,489.9 683.2,491.8 684.9,493.6 685.1,495.5 686.5,496.7 688.6,497.2 687.4,499.2 685.9,500.5 685.2,501.6 685.0,503.3 684.8,505.9 686.0,507.0 686.8,508.6 684.8,509.5 684.1,511.0 683.0,512.3 683.2,514.9 685.1,516.7 686.4,519.1 685.9,521.2 685.3,522.4 685.7,524.5 684.4,526.2 684.1,527.4 684.5,528.8 683.6,530.7 683.9,532.3 685.0,533.7 684.2,535.2 685.0,537.8 685.9,538.8 686.6,540.8 685.5,542.7 685.8,544.6 684.1,546.2 682.8,547.8 681.7,548.6 679.6,548.9 678.4,549.9 677.0,550.4 675.5,551.5 674.3,553.3 673.4,554.8 673.2,556.3 671.4,557.3 670.7,558.7 670.7,559.8 671.3,561.5 671.0,562.9 669.7,564.3 667.8,566.3 666.9,567.3 665.2,568.1 662.4,568.1 661.8,566.4 660.8,565.1 659.1,563.6 657.1,562.7 656.3,561.9 654.5,561.5 653.5,559.1 651.2,558.6 650.4,557.2 648.1,556.4 646.6,558.6 644.3,559.9 642.8,560.0 640.7,558.9 639.2,557.3 637.7,555.2 636.0,554.0 633.8,553.7 631.6,552.2 630.3,551.7 628.5,552.0 626.6,552.2 624.8,551.6 623.1,550.2 621.8,548.9 619.9,548.8 617.7,549.3 616.4,548.1 615.0,547.6 612.7,547.6 610.6,546.6 611.2,545.2 610.6,543.4 610.1,542.1 608.8,541.2 610.6,540.0 611.2,538.4 612.3,537.6 611.9,535.7 612.3,534.5 611.4,532.3 611.3,529.8 612.0,527.7 613.2,526.9 612.2,524.9 610.6,523.3 609.9,521.0 608.1,520.0 607.0,518.9 607.0,517.7 605.8,516.2 604.9,514.9 603.4,514.4 601.7,512.4 601.6,509.9 600.8,507.3 602.4,505.5 602.5,503.7 603.8,502.8 604.6,500.6 604.3,498.3 603.9,496.6 604.8,494.7 603.8,494.0 603.4,492.0 604.8,491.4 606.3,489.3 607.0,488.0 607.0,485.8 608.5,484.8 608.9,483.2 610.6,482.2 610.6,479.5 612.5,478.6 613.2,476.8 614.4,474.5Z" fill="#FFDDD0"/>
<path class="d" d="M580.4,602.6 581.6,600.7 583.1,599.9 583.0,598.0 583.4,596.8 584.9,595.4 585.0,594.0 584.3,592.4 585.8,590.1 585.7,588.0 586.8,586.7 586.3,584.5 585.7,582.8 584.1,581.9 583.1,580.8 582.9,579.0 583.8,577.0 581.8,575.3 581.4,573.4 580.2,572.5 580.0,570.6 580.6,568.9 582.0,568.1 583.9,567.4 584.5,566.4 585.5,564.5 586.4,563.5 588.1,563.2 589.1,560.9 591.5,561.2 592.4,560.2 594.5,559.1 595.7,556.8 597.6,555.9 598.1,554.6 599.4,552.2 598.7,551.1 599.0,549.3 600.4,548.6 600.9,547.0 603.4,546.6 605.2,547.7 607.0,547.5 609.3,547.2 610.6,546.6 612.7,547.6 615.0,547.6 616.4,548.1 617.7,549.3 619.9,548.8 621.8,548.9 623.1,550.2 624.8,551.6 626.6,552.2 628.5,552.0 630.3,551.7 631.6,552.2 633.8,553.7 636.0,554.0 637.7,555.2 639.2,557.3 640.7,558.9 642.8,560.0 644.3,559.9 646.6,558.6 648.1,556.4 650.4,557.2 651.2,558.6 653.5,559.1 654.5,561.5 656.3,561.9 657.1,562.7 659.1,563.6 660.8,565.1 661.8,566.4 662.4,568.1 665.2,568.1 666.9,567.3 667.8,566.3 669.7,564.3 670.1,566.4 669.5,569.0 668.6,570.4 667.1,571.3 667.4,574.1 668.0,575.3 669.8,576.6 670.3,579.3 669.0,580.6 668.9,582.0 669.8,582.9 671.4,583.6 672.3,585.1 672.5,587.3 672.1,588.3 670.4,589.2 670.2,591.1 670.0,592.6 670.7,594.5 671.4,596.7 671.7,598.2 671.1,600.1 669.4,599.4 667.6,599.1 665.5,600.3 665.1,601.4 663.6,602.8 661.9,603.8 659.9,604.0 658.7,604.9 656.6,605.6 655.8,607.7 654.3,609.2 653.0,609.2 652.2,611.1 650.3,612.8 648.0,613.1 645.4,613.1 644.1,611.9 641.5,612.4 640.2,611.3 638.7,611.0 636.1,611.7 634.2,613.7 633.0,613.1 631.9,611.1 629.7,610.1 628.5,610.5 627.2,611.7 626.1,611.4 624.4,611.9 622.3,612.2 620.5,613.1 619.8,613.9 619.0,615.5 617.0,615.5 615.1,617.0 613.7,619.0 611.1,618.7 609.2,619.8 608.3,620.8 606.4,622.5 605.6,624.4 603.6,626.1 601.1,626.2 600.4,627.3 598.7,628.2 596.7,628.9 595.1,629.7 593.8,630.3 592.2,629.8 589.8,630.2 588.3,630.5 586.8,632.4 584.8,633.3 583.0,632.9 581.5,633.3 579.2,632.0 577.6,631.4 576.1,631.6 574.5,630.3 573.0,629.9 572.3,627.6 571.0,626.2 569.4,625.6 567.0,625.8 565.7,624.9 563.6,625.0 562.5,623.2 563.5,620.7 565.2,619.6 566.7,618.3 567.2,616.2 567.9,615.1 570.2,614.0 571.4,611.5 571.5,609.3 572.8,608.4 573.2,607.1 575.5,606.2 577.0,605.5 577.7,604.4 579.6,603.6Z" fill="#FFDDD0"/>
<path class="d" d="M482.8,556.0 484.2,557.0 485.4,557.2 486.9,556.6 489.0,557.3 490.7,558.8 491.2,560.6 493.0,561.0 494.3,561.8 496.4,561.9 497.6,561.3 499.7,560.0 500.4,561.9 501.5,562.9 503.9,563.4 505.1,564.5 505.1,565.7 506.1,567.5 507.8,569.0 509.9,568.6 511.4,569.2 513.1,569.6 514.0,570.7 515.9,571.7 517.6,573.4 519.5,572.3 521.7,572.9 523.0,572.5 524.3,572.9 526.4,572.8 528.3,574.3 529.7,574.7 532.1,574.0 533.2,575.0 535.4,575.6 536.6,574.8 538.4,574.9 540.1,576.0 542.4,575.2 543.7,575.8 542.6,577.3 542.3,579.0 542.8,581.1 543.1,582.8 544.2,584.1 543.7,586.5 545.0,587.5 546.3,588.0 547.3,590.1 548.3,591.0 549.0,592.3 550.2,592.3 551.8,592.8 553.4,594.8 555.1,595.5 556.2,595.4 558.4,595.2 559.5,594.2 561.6,594.7 563.4,594.5 565.2,593.7 566.8,594.4 568.8,593.7 571.2,595.1 573.2,595.4 574.5,597.5 576.8,599.0 578.7,600.3 579.1,601.6 580.4,602.6 579.6,603.6 577.7,604.4 577.0,605.5 575.5,606.2 573.2,607.1 572.8,608.4 571.5,609.3 571.4,611.5 570.2,614.0 567.9,615.1 567.2,616.2 566.7,618.3 565.2,619.6 563.5,620.7 562.5,623.2 563.6,625.0 565.7,624.9 567.0,625.8 569.4,625.6 571.0,626.2 572.3,627.6 573.0,629.9 574.5,630.3 576.1,631.6 574.5,632.1 573.8,633.2 573.4,635.1 572.9,637.7 571.6,639.6 568.9,639.2 567.0,637.5 565.6,635.5 565.3,634.1 563.4,633.0 561.7,632.7 560.4,633.2 558.0,632.1 556.4,630.4 554.0,630.0 552.7,629.4 551.0,627.3 549.1,627.0 547.3,625.8 544.9,624.4 543.0,624.3 541.9,624.9 540.9,624.6 539.4,623.5 538.0,624.2 536.6,624.1 534.4,625.0 533.3,626.3 533.0,627.6 531.8,629.3 530.1,629.6 527.6,629.4 526.4,629.2 524.5,629.8 522.3,631.2 521.7,632.4 520.6,633.5 518.7,633.9 517.6,633.3 516.9,631.5 516.9,629.4 517.1,626.6 516.1,624.9 515.1,624.1 513.4,623.8 512.3,622.7 509.7,622.3 508.4,621.2 506.9,620.6 505.6,620.9 503.5,620.5 502.2,620.1 499.8,620.3 498.9,619.0 497.2,617.8 495.6,620.0 493.7,621.4 492.1,623.4 491.4,624.9 491.9,627.6 491.3,628.9 491.1,630.5 491.4,633.0 492.8,634.8 492.9,637.4 494.4,639.1 494.6,640.6 493.7,641.9 493.4,643.5 493.9,645.8 492.3,647.0 491.9,649.1 491.5,651.4 489.7,652.9 490.6,654.9 490.1,656.2 490.0,657.8 488.8,659.9 488.6,662.0 489.2,663.4 490.4,664.4 491.1,666.2 491.9,668.8 490.3,669.7 489.5,670.6 489.2,672.3 487.3,671.0 486.1,670.5 483.8,670.6 482.2,669.8 481.1,667.8 480.7,665.2 479.3,663.6 478.5,661.6 477.9,659.3 476.5,657.9 475.8,656.2 473.9,656.4 472.6,655.9 470.6,654.5 469.5,652.6 469.6,651.1 468.3,649.5 466.9,649.1 465.9,647.3 466.8,645.3 466.3,643.0 465.6,641.5 464.2,640.1 462.6,638.4 462.4,636.5 461.5,634.8 460.2,633.7 459.0,633.3 458.8,630.7 457.9,629.4 457.2,627.3 457.9,625.2 457.1,623.1 456.1,622.2 455.7,621.1 454.1,619.7 451.6,618.7 452.4,616.4 452.1,614.0 451.0,612.7 450.7,611.5 450.1,609.1 449.2,608.0 448.2,606.8 446.3,606.1 446.5,603.4 445.4,600.8 446.1,599.3 446.1,597.4 446.5,595.6 448.1,593.6 449.7,592.1 450.5,591.1 452.5,590.9 454.6,591.5 456.1,591.3 457.9,592.7 460.0,593.5 461.5,592.9 463.3,594.5 464.9,594.9 466.0,596.8 468.6,597.2 467.6,596.3 466.7,595.0 466.8,592.7 465.7,591.5 465.0,589.6 463.3,588.2 465.4,586.8 466.8,584.7 467.1,582.3 465.9,580.2 463.6,579.6 462.6,577.9 461.5,577.5 462.5,575.9 461.9,574.1 462.4,573.0 463.6,572.0 465.6,571.2 468.1,571.4 469.5,572.1 471.8,572.4 473.4,571.4 474.4,570.9 475.8,569.5 476.4,567.6 477.4,566.4 476.9,564.7 477.6,563.2 477.2,561.0 477.4,559.6 478.5,557.8 480.2,556.7Z" fill="#FFDDD0"/>
<path class="d" d="M332.6,460.3 334.3,459.6 336.4,459.8 337.8,458.6 338.3,456.8 340.8,456.2 342.3,455.9 343.4,454.6 343.4,452.9 344.4,451.7 346.7,450.7 347.7,448.8 348.7,449.4 350.6,449.0 352.4,448.9 353.7,447.8 355.1,446.3 357.4,447.2 358.7,449.0 359.5,450.8 361.1,451.0 362.3,452.6 363.9,454.4 365.8,455.3 366.6,454.3 368.5,453.6 369.4,451.7 369.8,449.4 370.8,448.1 373.0,447.2 374.3,444.9 375.8,442.5 377.5,441.9 379.2,441.8 380.3,441.2 380.9,439.5 381.4,438.6 382.8,437.4 384.3,435.3 385.8,434.8 387.7,434.7 387.1,436.6 387.2,437.7 385.9,439.1 384.5,439.9 383.7,441.0 385.7,442.1 387.3,443.7 388.6,444.1 390.7,443.6 392.8,443.3 394.5,441.9 396.4,442.3 397.9,441.7 399.1,442.8 401.6,443.7 403.7,444.2 405.2,443.9 406.0,445.9 406.8,446.9 408.8,447.2 409.0,449.3 408.2,450.4 409.0,452.2 408.8,453.5 411.4,453.8 412.1,452.6 414.1,451.7 415.6,450.5 416.2,449.0 416.9,447.4 416.8,445.5 416.6,447.2 417.5,449.4 416.2,451.7 414.2,453.0 413.2,454.4 414.3,456.7 414.3,458.2 413.2,460.6 414.6,461.7 415.1,462.8 417.7,463.3 418.0,464.6 417.6,466.3 418.6,468.7 419.6,469.5 421.4,469.8 422.2,471.4 424.8,471.4 425.9,473.3 426.1,475.1 428.4,476.8 426.9,478.8 426.6,480.9 427.5,483.0 427.8,485.1 427.1,486.2 428.4,488.4 427.4,489.2 427.2,491.3 425.8,492.7 424.0,492.8 423.3,494.8 423.7,496.0 421.9,497.1 421.3,499.1 421.8,500.6 421.8,502.0 421.3,503.4 420.4,504.5 420.5,506.4 421.4,507.8 420.7,506.9 419.1,505.9 417.5,505.6 415.9,506.1 414.1,505.4 413.6,507.0 412.3,508.1 410.3,508.5 409.3,509.2 407.2,508.5 405.2,509.0 403.2,508.6 401.6,506.3 399.1,506.6 397.3,506.3 396.3,504.9 395.9,503.4 394.4,501.8 392.7,502.1 391.9,503.2 390.3,503.3 388.2,502.7 387.3,504.9 385.6,505.8 384.6,507.2 383.0,507.1 380.5,508.3 378.6,507.7 376.6,508.1 374.5,506.7 372.0,506.7 370.0,506.5 368.6,507.1 367.6,508.1 367.1,506.0 365.4,504.2 364.9,502.7 362.8,502.3 361.3,503.2 359.6,504.5 359.2,505.9 357.8,508.1 356.9,509.3 355.1,509.8 353.4,510.7 352.2,510.7 351.1,512.7 348.8,513.4 347.1,512.9 344.9,513.4 343.9,512.1 341.7,511.6 340.0,512.7 338.6,512.4 336.9,511.9 335.8,510.7 333.6,509.8 332.2,509.6 330.8,510.1 328.9,509.4 326.5,510.1 325.0,511.4 324.7,512.5 324.5,510.1 323.2,509.4 322.3,508.1 322.2,506.2 322.8,504.5 322.6,501.8 321.1,500.1 320.9,498.0 322.0,495.5 321.5,493.4 321.7,492.0 320.6,490.4 320.3,488.4 320.0,486.3 318.2,485.2 317.6,483.9 316.3,481.8 315.8,479.4 317.9,477.5 318.5,475.8 317.2,476.3 315.1,475.7 313.1,474.1 313.6,473.0 313.6,471.1 314.9,469.6 316.3,467.9 317.9,467.1 319.5,467.2 321.1,466.0 323.0,464.4 325.0,464.4 326.5,463.3 328.3,462.4 329.8,462.8 330.8,461.4Z" fill="#FFDDD0"/>
<path class="d" d="M348.8,513.4 351.1,512.7 352.2,510.7 353.4,510.7 355.1,509.8 356.9,509.3 357.8,508.1 359.2,505.9 359.6,504.5 361.3,503.2 362.8,502.3 364.9,502.7 365.4,504.2 367.1,506.0 367.6,508.1 368.6,507.1 370.0,506.5 372.0,506.7 374.5,506.7 376.6,508.1 378.6,507.7 380.5,508.3 383.0,507.1 384.6,507.2 385.6,505.8 387.3,504.9 388.2,502.7 390.3,503.3 391.9,503.2 392.7,502.1 394.4,501.8 395.9,503.4 396.3,504.9 397.3,506.3 399.1,506.6 401.6,506.3 403.2,508.6 405.2,509.0 407.2,508.5 409.3,509.2 410.3,508.5 412.3,508.1 413.6,507.0 414.1,505.4 415.9,506.1 417.5,505.6 419.1,505.9 420.7,506.9 421.4,507.8 421.8,509.6 421.2,511.2 419.4,512.6 418.9,514.0 419.3,515.8 418.6,517.0 418.4,519.2 419.8,521.1 419.0,522.9 419.3,524.9 420.6,525.9 421.6,528.3 420.8,530.4 418.9,531.4 418.0,533.7 417.3,535.4 416.9,536.5 417.7,538.3 419.3,539.2 419.8,540.8 419.9,542.5 418.4,544.7 417.5,545.6 415.4,546.2 414.8,548.7 413.2,549.9 412.7,551.5 411.6,552.7 411.1,554.9 411.8,556.6 411.8,557.8 410.4,558.0 408.8,557.7 407.3,558.7 405.7,559.8 404.3,561.0 403.7,562.3 404.5,564.9 403.7,567.6 404.6,568.7 406.2,569.0 407.3,571.2 405.7,572.4 404.2,572.9 401.9,573.0 400.6,571.6 399.4,571.9 397.5,571.2 396.8,573.6 397.7,575.0 397.5,576.6 395.5,578.5 395.7,580.8 394.8,581.9 394.3,584.0 393.0,585.0 393.0,587.3 390.3,586.7 388.5,585.5 386.9,585.6 385.4,585.2 383.2,583.7 382.2,581.4 381.1,581.4 379.6,580.2 378.5,579.1 377.1,578.6 375.1,578.4 372.8,577.5 371.3,576.8 370.6,575.7 368.6,575.2 367.7,574.4 366.2,572.7 366.2,571.2 364.5,570.1 364.0,568.5 363.5,565.8 362.4,563.9 362.5,562.2 361.7,560.5 360.6,558.3 358.8,557.4 358.1,555.1 355.8,553.8 354.5,551.5 355.1,549.0 356.4,547.4 355.6,546.0 355.4,544.4 356.9,543.4 357.4,542.2 357.2,540.8 358.1,539.0 357.9,537.6 356.1,536.1 355.4,533.7 354.8,532.3 354.9,530.0 354.2,529.2 353.7,527.4 355.1,526.9 356.5,525.6 356.7,523.8 358.1,522.4 358.1,521.1 356.3,520.5 355.2,519.3 354.2,518.5 353.7,516.7 352.2,514.5 350.2,513.2Z" fill="#FFDDD0"/>
<path class="d" d="M160.6,488.1 163.0,487.8 164.7,488.5 166.8,489.4 169.3,489.6 171.4,490.1 172.2,491.2 174.3,489.9 175.3,488.8 177.6,488.5 179.0,487.4 180.0,486.0 181.3,485.4 182.9,485.8 184.9,485.4 186.8,485.4 188.3,486.7 189.9,486.6 191.2,487.1 192.2,486.5 194.0,486.6 195.4,484.9 196.8,486.2 199.3,486.2 201.1,486.4 202.6,485.8 203.9,485.2 205.3,483.2 207.1,483.4 209.2,482.1 211.5,482.3 213.7,481.2 214.9,481.7 216.9,481.4 218.4,482.2 218.9,483.8 221.0,484.9 223.0,485.5 224.1,486.7 225.5,486.4 226.8,485.3 229.4,485.8 230.9,486.4 233.2,486.1 234.8,487.6 236.3,487.8 237.5,489.1 239.3,491.2 240.3,492.6 239.9,495.3 241.0,497.5 240.7,499.0 239.9,500.3 238.2,500.9 237.5,501.9 238.4,502.5 239.6,504.1 240.2,506.4 240.9,508.2 241.9,509.1 243.4,509.6 244.3,510.6 242.8,511.9 241.6,513.8 240.6,515.2 240.2,517.0 239.5,519.7 238.1,521.1 237.5,522.4 236.6,524.8 236.3,527.0 237.5,528.6 238.2,530.0 240.4,531.0 241.7,532.7 241.9,534.0 241.8,535.9 240.8,536.8 240.2,538.5 240.4,540.4 239.4,542.1 237.5,543.8 237.9,545.4 239.1,546.9 238.5,548.0 238.4,550.1 236.6,549.5 235.0,550.0 233.0,551.9 230.8,550.6 228.9,550.4 227.6,551.0 225.2,551.5 223.6,552.0 221.7,553.4 220.3,551.0 218.6,551.0 216.9,550.1 214.8,548.5 214.1,546.6 212.4,546.4 211.5,545.6 209.8,544.2 208.6,543.9 206.2,543.8 203.4,543.9 202.1,545.9 200.8,546.5 199.4,546.9 197.8,546.5 195.5,545.6 193.7,543.8 192.0,541.9 190.2,540.8 188.5,540.9 187.4,540.2 187.3,537.7 186.2,535.9 185.8,534.4 183.8,533.1 183.0,531.0 181.6,529.8 179.4,529.0 178.5,527.7 177.8,525.9 176.6,524.5 174.4,523.4 172.2,523.2 171.1,521.3 169.2,520.6 168.0,518.8 168.9,516.7 168.6,515.2 168.2,513.5 168.4,511.8 168.6,510.3 169.5,508.9 169.0,506.5 167.8,505.0 166.8,502.7 165.1,500.8 165.0,498.4 164.1,496.5 163.0,495.8 161.5,494.8 161.4,492.9 162.3,491.0 161.1,490.2Z" fill="#FFDDD0"/>
<path class="d" d="M221.7,553.4 223.6,552.0 225.2,551.5 227.6,551.0 228.9,550.4 230.8,550.6 233.0,551.9 235.0,550.0 236.6,549.5 238.4,550.1 238.5,548.0 239.1,546.9 237.9,545.4 237.5,543.8 239.4,542.1 240.4,540.4 240.2,538.5 240.8,536.8 241.8,535.9 241.9,534.0 241.7,532.7 240.4,531.0 238.2,530.0 237.5,528.6 236.3,527.0 236.6,524.8 237.5,522.4 238.1,521.1 239.5,519.7 240.2,517.0 240.6,515.2 241.6,513.8 242.8,511.9 244.3,510.6 246.1,509.4 247.3,509.1 249.2,507.3 251.3,507.4 252.7,506.4 253.9,506.9 256.0,506.8 258.0,505.5 260.0,505.9 261.6,506.2 263.0,505.4 264.1,505.9 265.2,507.3 266.4,509.4 267.0,511.8 268.8,511.6 270.1,512.4 270.8,513.7 272.3,514.5 274.1,514.3 275.5,514.9 277.7,514.5 279.5,515.5 281.1,515.2 283.1,516.3 282.0,518.1 281.4,519.6 281.3,521.6 282.7,523.4 284.1,524.1 286.6,525.2 289.1,526.2 290.9,527.8 292.5,528.2 293.8,527.9 294.7,526.9 297.0,526.1 298.3,527.2 301.0,527.0 302.7,525.5 305.0,525.0 306.9,524.9 308.1,525.2 309.9,525.0 311.4,526.0 311.7,527.5 313.5,528.8 314.8,530.4 316.9,530.8 317.2,532.1 318.8,533.3 321.0,534.6 322.8,535.4 325.0,535.4 325.3,536.7 326.9,538.3 327.0,541.0 327.7,542.6 327.8,544.7 327.0,547.4 325.8,549.9 324.2,550.6 322.8,551.4 321.1,551.2 319.6,553.3 318.4,555.4 318.9,557.7 316.9,559.6 315.1,561.7 314.9,564.4 313.4,565.8 314.8,567.5 315.2,569.0 315.1,571.2 315.0,573.6 314.7,576.2 313.4,577.5 314.8,578.5 315.2,579.7 315.7,582.0 315.1,583.7 312.6,583.6 310.6,584.4 309.9,585.8 308.8,587.0 307.4,587.8 305.7,587.6 304.5,588.5 301.9,589.4 300.1,589.4 299.8,591.8 299.2,593.0 297.8,594.6 297.6,597.1 298.6,598.5 298.3,600.2 298.6,602.6 297.5,604.5 298.7,605.9 299.2,607.3 297.9,608.3 296.7,608.6 295.5,609.2 294.7,610.9 293.8,611.9 293.1,613.3 293.3,614.6 292.9,616.2 292.7,618.7 293.1,620.7 291.7,622.1 291.9,624.1 291.1,625.2 289.1,625.3 288.0,625.7 286.6,627.0 286.8,629.5 285.8,631.4 285.1,629.6 284.1,628.5 282.3,627.9 281.3,627.0 279.0,626.5 277.6,624.8 277.4,623.2 275.9,621.6 276.2,620.2 275.5,618.7 274.2,616.9 272.3,616.2 270.2,614.6 269.5,612.4 269.0,611.1 269.7,609.1 269.3,607.5 268.1,605.5 266.0,604.1 265.2,602.8 263.0,601.2 261.2,600.9 260.9,599.5 259.8,597.5 258.4,597.1 256.6,595.9 255.1,594.9 254.5,593.9 252.3,594.6 250.0,594.4 248.7,594.2 247.3,593.0 246.0,590.6 243.6,590.3 241.9,588.5 242.3,587.2 242.2,585.1 240.7,583.5 240.2,582.3 237.9,582.0 236.8,581.4 235.8,579.8 235.7,578.5 234.8,576.9 234.0,575.4 233.8,573.8 231.9,572.7 231.2,571.5 230.8,569.7 229.4,567.7 227.8,567.4 225.8,566.2 224.5,564.8 222.4,564.2 221.3,562.2 221.4,560.8 221.2,558.8 220.2,556.9 221.7,555.2Z" fill="#FFDDD0"/>
<path class="d" d="M388.5,599.0 391.2,599.5 392.0,600.5 392.3,602.6 392.7,604.2 392.1,605.8 392.9,606.9 393.6,609.0 392.9,611.2 393.0,612.9 391.9,614.3 390.3,614.7 389.4,615.7 388.5,618.3 387.6,620.3 386.2,622.0 384.9,622.8 384.0,624.1 383.7,625.5 382.3,626.1 381.4,627.2 380.7,629.4 381.4,631.3 380.8,632.6 379.6,633.5 380.2,636.0 380.2,637.4 378.7,638.9 379.6,640.6 381.4,641.5 381.0,642.9 379.6,644.2 377.9,642.1 376.4,642.1 375.1,641.5 372.6,640.6 371.2,641.4 369.7,641.5 367.7,641.4 366.1,642.6 364.3,641.7 362.6,641.5 361.1,641.9 360.2,642.9 358.6,642.3 357.2,642.4 356.1,642.7 354.6,643.7 351.9,643.3 350.2,642.9 348.3,643.3 348.5,645.0 348.2,646.1 349.2,648.7 349.2,651.4 350.4,652.3 351.0,654.1 351.9,655.9 352.0,657.5 352.5,659.1 351.9,661.2 351.0,663.6 350.6,665.1 351.0,666.6 350.3,668.6 349.5,669.6 347.4,671.0 346.1,673.0 343.8,673.7 342.4,672.6 340.3,672.5 339.7,671.3 338.5,670.2 336.8,668.5 334.6,668.2 333.1,667.5 330.8,666.9 328.6,667.5 327.6,666.1 327.1,665.0 326.8,663.0 325.5,661.3 324.9,659.1 325.0,657.6 323.5,656.0 322.3,655.6 322.4,653.8 321.5,652.3 321.0,651.1 319.6,649.9 319.8,648.4 318.8,646.9 317.5,645.2 315.2,644.2 312.7,644.2 310.7,643.3 309.9,641.4 308.2,640.6 307.2,639.7 307.1,637.6 306.4,636.4 305.2,635.9 303.6,634.4 302.9,632.8 301.8,631.7 299.4,630.5 298.2,629.9 297.4,627.9 294.7,627.8 292.9,626.9 291.1,625.2 291.9,624.1 291.7,622.1 293.1,620.7 292.7,618.7 292.9,616.2 293.3,614.6 293.1,613.3 293.8,611.9 294.7,610.9 295.5,609.2 296.7,608.6 297.9,608.3 299.2,607.3 298.7,605.9 297.5,604.5 298.6,602.6 298.3,600.2 298.6,598.5 297.6,597.1 297.8,594.6 299.2,593.0 299.8,591.8 300.1,589.4 301.9,589.4 304.5,588.5 305.7,587.6 307.4,587.8 308.8,587.0 309.9,585.8 310.6,584.4 312.6,583.6 315.1,583.7 316.3,585.0 317.9,585.5 320.2,587.0 320.5,588.6 321.5,590.0 322.8,591.1 324.0,591.4 326.8,591.8 328.7,592.9 331.0,593.2 332.2,592.7 333.3,593.5 335.4,594.1 335.6,595.6 337.6,597.2 339.0,594.8 341.7,594.8 342.9,593.6 344.5,593.0 346.6,593.1 348.3,594.5 349.5,592.8 351.9,591.8 353.0,593.2 355.4,593.6 356.5,594.2 358.4,594.5 359.3,596.0 360.8,597.2 361.3,598.4 363.2,599.5 364.4,599.3 366.2,599.8 368.7,599.8 371.0,601.0 371.5,602.5 373.4,603.1 375.1,602.5 376.9,601.6 378.0,601.1 380.0,601.6 381.3,601.0 382.3,599.8 384.9,600.1 386.4,600.2Z" fill="#FFDDD0"/>
<path class="d" d="M141.4,343.1 143.2,341.0 144.0,339.1 143.3,337.9 143.5,336.0 144.5,334.1 146.5,332.9 148.4,331.5 151.0,331.8 151.5,329.4 152.7,328.0 155.3,327.7 156.6,326.2 156.9,323.7 157.9,322.4 156.8,320.0 158.5,320.2 159.7,319.8 161.0,318.7 162.5,319.4 164.9,318.9 166.9,319.1 167.9,318.2 169.4,316.6 171.4,317.3 173.1,316.6 174.6,316.8 175.8,318.7 177.8,320.0 177.3,322.0 177.9,323.9 176.7,326.4 178.0,327.4 178.7,328.9 179.9,330.9 179.9,332.8 179.2,334.4 179.4,335.6 177.8,337.1 178.8,339.2 180.4,340.7 183.1,341.4 184.7,341.7 186.2,343.9 186.8,346.6 188.5,347.8 190.2,348.5 191.4,350.3 191.6,352.2 192.3,353.2 192.3,354.8 191.7,356.4 191.9,358.2 191.1,360.3 192.3,361.3 192.8,362.8 194.6,363.7 195.3,365.1 197.5,366.0 200.3,366.0 200.6,367.8 202.1,369.9 201.3,372.4 201.8,375.0 202.0,376.4 203.5,377.8 203.1,379.1 201.7,379.9 201.6,381.6 201.3,384.2 200.5,386.5 199.5,388.6 198.1,389.6 197.3,391.7 197.3,393.0 198.1,395.3 196.6,394.1 195.2,391.9 192.8,390.6 191.4,390.2 189.8,388.8 187.8,388.6 186.3,389.1 184.2,388.9 182.0,389.1 180.1,388.6 178.2,388.7 177.1,390.1 175.6,390.6 175.0,391.4 173.5,392.5 172.0,392.6 170.3,393.8 168.4,392.5 167.8,390.4 166.1,390.4 163.9,389.6 162.0,389.1 161.3,387.7 160.1,386.9 158.9,385.7 158.5,384.2 156.5,383.6 155.4,382.7 154.5,380.6 153.2,378.9 154.1,376.5 152.6,374.1 152.5,372.4 154.9,371.4 155.3,369.6 156.4,368.1 155.4,367.1 155.0,364.6 155.4,363.1 154.9,360.7 153.5,358.8 151.9,358.4 151.5,355.7 151.9,353.6 151.0,352.1 149.5,350.2 148.1,349.5 146.5,347.9 146.1,346.1 145.0,345.4 144.3,343.8 143.3,343.1Z" fill="#FF9F90"/>
<path class="d" d="M535.9,227.8 537.3,227.3 539.5,227.4 541.7,229.1 542.4,230.7 544.9,231.0 545.0,233.2 544.2,235.5 544.8,237.6 545.9,238.5 546.0,241.1 545.5,242.5 547.2,244.0 547.4,246.0 547.2,247.9 546.6,248.8 545.9,250.6 544.9,251.4 545.2,253.8 543.8,255.2 543.6,257.0 544.2,258.4 543.9,259.9 544.6,261.6 545.9,262.1 544.0,263.4 542.3,263.8 540.6,265.3 539.8,267.9 538.1,269.3 537.5,270.8 537.4,272.8 535.6,273.0 533.5,274.5 531.7,275.4 529.9,274.9 527.6,275.0 526.3,276.3 524.0,276.6 522.4,276.0 520.3,277.4 518.1,278.1 516.2,277.4 514.3,277.3 512.4,277.5 510.6,279.6 511.0,277.1 510.6,274.8 511.3,272.8 510.4,271.0 510.6,269.9 508.5,268.5 510.1,267.7 510.9,266.2 511.0,264.2 509.6,262.6 509.2,259.9 510.2,258.3 510.6,255.6 511.8,253.6 511.6,252.1 512.5,250.3 513.8,249.2 511.8,248.0 510.9,246.1 511.6,244.5 511.0,242.8 512.6,241.2 513.1,239.5 513.2,238.2 512.4,236.4 513.2,234.2 514.7,232.5 517.0,231.0 519.0,232.6 520.7,232.7 522.8,232.9 524.3,232.9 525.6,232.1 527.5,233.1 528.6,234.5 531.1,235.2 533.1,234.2 533.0,232.9 533.6,231.1 535.2,229.5Z" fill="#FF9F90"/>
<path class="d" d="M567.3,244.9 568.1,243.9 570.0,243.7 571.9,244.0 573.1,243.4 575.2,243.5 577.1,245.3 578.7,246.0 580.0,247.7 582.0,248.4 582.6,249.5 584.2,249.2 585.7,249.5 587.6,250.8 590.2,250.5 591.7,250.8 593.0,251.7 594.3,253.2 596.4,252.7 597.3,251.1 598.6,250.0 600.3,249.8 601.5,249.1 602.8,249.8 605.0,249.5 606.4,250.2 607.5,251.3 607.6,253.0 608.2,254.3 608.0,256.7 608.1,258.2 609.6,260.0 610.8,261.4 612.3,262.5 612.5,265.0 614.5,265.1 615.9,264.2 617.3,262.2 619.3,262.3 620.3,263.0 622.1,262.8 623.5,263.7 624.7,263.9 626.5,264.3 628.5,263.9 630.8,265.5 631.3,267.5 631.7,269.1 630.9,270.6 631.0,271.9 631.7,273.5 631.4,276.0 629.6,277.8 631.5,279.2 633.9,279.9 635.1,278.6 637.1,278.2 637.3,280.6 638.1,282.1 640.6,281.6 643.0,282.1 644.4,282.0 645.6,281.0 646.0,282.8 645.7,285.5 646.2,287.3 647.8,288.5 647.3,290.7 647.6,293.0 645.6,294.9 645.5,296.9 644.5,297.9 645.2,300.4 644.6,302.4 642.0,301.4 640.2,302.6 637.8,302.8 636.5,303.6 634.9,305.6 633.1,305.2 632.2,304.5 629.8,305.1 628.7,305.7 627.8,307.3 625.3,307.8 624.1,309.3 624.0,311.1 622.1,312.1 622.2,313.2 623.3,314.6 622.8,316.7 623.3,318.4 622.1,320.6 621.6,321.8 620.1,323.0 617.7,323.6 616.7,324.9 616.8,327.0 616.1,327.9 614.1,329.4 612.0,330.2 611.4,331.3 609.9,333.6 608.1,334.0 606.5,334.9 604.9,334.3 602.8,335.1 601.2,335.8 600.3,336.9 599.1,337.0 597.5,337.7 595.6,337.9 594.1,336.8 593.4,335.1 592.3,334.5 592.1,332.3 592.8,331.3 592.5,329.1 592.1,327.1 592.6,324.8 592.0,322.9 591.1,321.5 590.0,321.2 588.7,319.9 587.8,318.5 588.1,316.3 586.7,314.9 586.5,312.8 585.8,311.3 585.6,310.1 584.5,309.4 583.6,307.8 582.0,305.7 580.1,305.3 580.2,303.5 579.3,301.4 579.2,299.6 579.9,298.5 578.9,297.8 578.4,296.1 578.0,294.1 577.1,292.0 576.2,290.9 574.7,289.9 573.9,288.5 574.0,286.8 573.7,285.6 574.6,283.4 574.0,281.8 574.6,280.4 575.9,279.1 575.1,277.0 573.8,276.4 573.2,274.5 573.7,272.7 574.3,270.8 574.0,269.0 575.0,266.7 573.4,265.2 572.7,264.1 572.7,262.0 571.7,259.6 570.2,258.0 570.4,255.3 570.9,253.8 570.5,251.3 569.7,249.7 567.8,248.2 567.9,246.1Z" fill="#FF9F90"/>
<path class="d" d="M512.5,336.3 515.0,337.5 517.3,336.6 518.8,337.2 520.0,339.1 521.1,340.7 523.2,341.7 524.0,344.2 523.8,345.7 524.1,347.1 525.2,348.5 527.5,348.8 529.8,349.4 531.3,348.9 532.9,350.2 535.3,350.7 536.6,350.5 538.4,349.7 539.8,348.9 540.4,347.7 542.3,346.9 543.8,347.1 545.7,348.5 547.1,348.3 548.3,350.6 547.0,352.5 546.7,354.0 546.2,355.5 546.6,356.9 546.4,358.9 546.9,360.5 546.8,362.2 548.3,364.0 547.9,365.7 546.2,367.7 546.1,369.9 546.6,371.2 545.0,372.0 544.0,374.2 543.9,376.5 544.4,378.4 543.5,381.0 542.0,381.9 540.6,384.3 539.0,385.3 536.6,385.5 535.8,386.6 534.3,387.3 532.9,386.8 531.3,387.3 530.5,386.6 528.8,386.0 527.0,385.9 525.9,385.5 524.7,385.1 522.8,385.7 521.1,386.8 519.5,388.1 518.8,389.1 517.2,390.7 517.2,392.1 516.1,393.6 514.6,392.6 513.0,393.0 511.6,392.7 511.0,391.1 510.2,390.1 508.4,388.3 506.2,387.3 504.7,386.7 502.6,386.7 500.9,384.6 498.7,384.4 497.6,385.2 495.4,386.2 493.7,388.2 492.3,388.4 491.1,389.5 490.2,391.8 489.1,390.6 488.7,389.4 486.7,388.9 484.8,387.3 482.8,387.1 480.8,386.1 478.8,387.5 477.3,387.0 475.8,387.3 474.5,387.7 472.8,387.2 471.4,388.6 470.5,389.1 468.2,388.5 467.7,387.4 466.2,386.5 466.2,384.6 467.0,382.7 467.9,381.1 469.3,381.2 470.8,380.2 469.7,377.9 468.2,377.1 466.7,375.4 466.5,373.6 465.7,372.7 463.7,370.9 463.0,368.6 463.4,367.3 462.6,365.2 463.2,364.1 463.4,362.3 464.4,361.1 465.1,358.7 466.6,358.0 467.1,356.7 469.4,356.1 470.5,355.1 473.2,355.8 474.4,355.3 475.4,354.0 477.6,354.2 479.3,354.5 480.8,356.4 483.0,356.1 484.8,356.9 487.3,356.1 489.2,356.4 491.0,355.7 491.9,354.2 492.9,353.5 494.0,351.9 495.2,350.9 495.5,348.9 498.0,347.8 499.3,346.6 500.9,344.4 501.7,342.1 503.7,341.1 504.5,339.0 506.1,337.7 506.7,336.7 509.3,336.2 511.3,336.8Z" fill="#FF9F90"/>
<path class="d" d="M416.8,445.5 418.3,444.0 418.6,441.9 420.2,441.8 421.6,440.6 423.1,438.3 424.6,437.7 426.2,438.4 427.3,437.9 428.4,436.5 431.0,435.4 432.9,433.8 433.5,435.3 434.9,435.9 436.4,436.0 438.0,436.9 438.6,438.2 440.5,439.4 442.7,438.2 443.8,437.6 445.6,438.1 445.9,436.8 447.6,435.5 448.1,433.1 447.8,431.5 448.6,430.2 450.0,428.7 451.4,429.0 453.1,430.6 454.2,431.6 456.0,432.1 456.9,434.4 457.9,434.6 459.6,435.5 461.9,435.6 462.9,434.2 464.5,433.1 465.9,431.3 468.3,430.7 469.6,432.4 471.0,432.8 473.7,432.6 476.1,432.8 477.6,432.5 479.0,431.7 480.6,432.7 481.9,433.0 483.5,432.6 482.6,434.8 483.5,437.1 483.8,439.3 485.2,439.8 486.2,441.5 485.6,443.0 486.4,445.1 487.1,446.9 489.2,447.6 490.4,448.4 491.5,450.5 492.8,452.2 494.1,452.7 494.4,454.3 495.1,455.8 496.9,456.5 498.0,457.4 498.7,459.4 498.9,460.5 499.9,462.0 501.2,463.7 503.2,464.8 505.1,466.8 507.6,467.5 509.3,469.4 511.0,469.4 513.0,471.0 514.8,471.1 516.7,471.8 517.6,473.2 519.3,473.7 519.9,474.9 521.0,476.1 521.0,478.2 521.2,479.8 522.1,481.1 524.5,482.0 526.4,483.6 526.9,485.9 527.6,487.4 529.2,488.1 527.9,487.7 526.3,488.4 524.6,488.9 523.7,489.5 522.9,491.1 520.7,491.7 519.3,493.6 517.6,493.0 515.8,493.8 514.9,492.9 513.0,492.4 511.3,492.0 510.2,491.9 508.6,492.9 507.9,493.9 506.1,494.4 504.0,493.5 501.5,493.8 500.2,493.8 498.5,494.5 496.2,494.6 494.3,492.9 494.0,494.7 493.5,495.7 492.3,497.2 490.7,497.4 489.9,499.6 488.6,499.9 487.2,501.0 486.2,503.6 484.1,502.6 482.2,501.9 480.8,502.3 479.5,500.7 479.4,499.4 477.2,497.9 475.7,496.6 474.8,495.6 472.9,495.4 471.5,496.0 469.5,495.5 467.9,494.4 465.9,494.5 463.9,493.8 462.4,491.9 461.4,492.8 459.4,493.1 458.6,495.0 458.8,496.3 458.0,498.5 456.6,499.3 455.9,500.4 456.7,502.9 456.2,504.4 456.7,505.7 455.6,507.9 454.3,508.8 452.2,509.3 451.3,510.7 449.3,512.0 448.2,512.8 446.3,513.1 445.0,512.0 443.2,511.5 442.1,510.9 439.9,509.9 437.3,509.9 435.4,509.3 433.7,509.1 432.1,510.2 429.7,509.5 428.4,507.9 425.7,508.6 424.1,507.9 421.4,507.8 420.5,506.4 420.4,504.5 421.3,503.4 421.8,502.0 421.8,500.6 421.3,499.1 421.9,497.1 423.7,496.0 423.3,494.8 424.0,492.8 425.8,492.7 427.2,491.3 427.4,489.2 428.4,488.4 427.1,486.2 427.8,485.1 427.5,483.0 426.6,480.9 426.9,478.8 428.4,476.8 426.1,475.1 425.9,473.3 424.8,471.4 422.2,471.4 421.4,469.8 419.6,469.5 418.6,468.7 417.6,466.3 418.0,464.6 417.7,463.3 415.1,462.8 414.6,461.7 413.2,460.6 414.3,458.2 414.3,456.7 413.2,454.4 414.2,453.0 416.2,451.7 417.5,449.4 416.6,447.2Z" fill="#FF9F90"/>
<path class="d" d="M949.3,506.7 949.4,509.0 951.1,511.1 951.2,512.2 952.4,513.7 953.8,514.7 955.7,514.8 957.3,515.7 957.9,517.5 959.2,518.3 961.1,519.6 962.1,521.5 962.0,524.0 962.7,525.4 964.9,526.6 967.2,527.2 967.9,529.7 966.8,530.6 966.3,532.6 966.3,534.9 967.2,537.1 966.2,538.0 965.8,539.9 964.4,541.0 962.7,541.5 961.0,541.5 959.8,542.2 959.0,543.6 957.4,544.2 955.4,543.9 953.3,544.8 951.3,545.7 950.2,546.9 948.4,547.4 946.8,547.1 945.0,549.1 943.1,549.6 941.3,550.5 940.4,551.7 937.7,551.4 937.5,554.1 935.9,555.8 935.8,557.7 934.6,559.0 934.1,560.3 932.3,561.2 933.1,563.6 932.9,564.7 933.2,566.6 933.8,568.6 933.4,569.8 931.8,571.4 931.4,573.7 930.7,574.7 930.4,576.6 930.6,579.1 930.4,581.7 928.8,583.6 927.2,583.4 925.2,581.8 923.6,582.2 921.2,581.0 919.8,579.1 918.1,578.6 916.2,577.3 914.1,576.0 911.8,575.5 911.2,573.9 908.9,572.5 908.2,570.2 906.4,569.0 905.5,566.6 904.7,564.5 904.7,563.0 902.8,561.2 900.5,559.8 899.1,558.0 899.3,555.8 898.7,553.9 897.1,552.9 896.6,551.4 895.5,550.2 895.0,548.4 893.0,546.9 891.8,546.0 891.4,544.3 890.0,543.5 887.6,543.3 886.5,541.8 884.9,540.6 887.0,538.9 887.6,536.2 888.1,534.6 889.4,533.2 889.4,530.8 887.9,529.1 888.0,527.3 887.6,526.3 885.9,525.6 884.6,525.6 883.2,523.7 882.2,522.3 880.5,521.0 879.2,518.8 879.6,516.5 880.3,514.5 882.3,512.9 883.5,511.5 883.5,510.3 885.8,509.3 885.8,506.9 887.6,504.9 889.4,504.4 890.2,503.5 893.0,503.1 894.9,503.5 896.9,503.1 898.1,501.1 900.2,500.0 902.8,500.2 904.6,501.0 905.4,503.3 907.3,504.9 909.1,504.7 910.6,504.3 911.7,503.2 913.0,504.2 914.5,504.0 916.8,504.8 918.6,504.0 919.9,502.9 921.6,502.2 923.8,502.8 925.8,502.0 926.8,503.0 928.8,503.1 930.3,503.4 931.5,504.6 934.0,505.6 935.9,504.9 938.1,505.5 939.7,504.8 941.3,505.5 943.1,507.6 944.4,507.0 946.8,507.7Z" fill="#FF9F90"/>
<path class="d" d="M873.5,394.7 874.8,395.6 875.4,397.0 877.1,397.5 878.5,398.6 879.7,401.0 880.7,402.0 882.9,402.2 883.8,403.5 885.5,404.1 886.2,406.6 887.4,407.6 889.1,407.9 891.4,406.8 893.2,404.7 895.4,404.0 896.9,403.9 898.1,402.8 899.2,400.8 900.8,399.5 903.2,398.6 904.8,398.9 907.1,397.7 907.4,395.3 908.0,394.1 907.6,391.6 906.2,390.6 907.2,388.9 909.7,387.9 912.4,388.0 914.4,388.5 915.1,389.7 916.5,391.6 918.7,393.2 918.9,395.9 917.8,397.7 919.2,400.0 921.3,400.6 922.4,401.8 925.0,402.5 926.4,403.6 928.2,402.4 929.5,400.9 932.1,401.6 934.0,401.3 934.0,403.5 935.3,405.4 936.8,406.4 939.3,406.7 941.1,408.0 942.9,408.0 943.2,409.8 944.3,411.6 945.5,412.9 946.1,414.8 947.7,415.1 949.6,417.0 950.4,419.4 949.6,420.8 949.0,422.6 947.6,423.7 945.6,424.6 944.7,425.5 943.5,426.4 942.0,426.4 940.0,427.6 938.5,427.7 937.3,427.9 935.8,429.1 934.0,429.1 932.2,430.0 930.1,429.1 928.6,429.5 926.2,429.1 924.1,430.0 923.7,432.2 924.0,434.0 923.0,435.2 921.5,435.8 920.6,436.5 920.1,438.5 918.8,440.7 917.4,440.2 916.5,438.5 914.3,439.3 912.8,440.4 912.5,441.6 910.1,441.4 908.9,442.0 907.8,440.9 905.4,440.7 902.7,440.2 900.9,440.9 900.0,442.5 898.5,444.1 898.3,445.4 896.9,446.4 895.0,446.9 893.7,448.7 892.4,448.6 890.5,449.3 889.4,450.7 887.4,451.4 885.0,452.5 884.4,454.0 882.0,454.1 879.9,455.5 878.7,457.6 877.4,458.1 875.8,457.6 873.9,458.7 872.4,460.9 870.8,460.5 869.5,461.2 868.1,461.5 866.9,463.1 865.0,463.0 863.3,462.2 861.9,462.6 860.3,460.8 858.8,460.0 857.8,458.5 855.7,459.5 854.2,459.0 852.3,457.8 850.5,457.1 848.9,457.6 848.1,455.9 846.8,455.3 845.0,454.3 843.2,454.4 841.8,453.5 841.1,451.3 841.2,450.1 842.7,447.8 842.7,446.0 844.5,444.2 845.7,444.2 847.2,443.3 846.9,441.2 847.8,440.1 848.0,438.0 848.4,435.3 849.1,433.7 850.7,432.6 851.3,431.0 852.1,430.1 851.5,428.8 851.6,427.2 853.6,425.8 855.2,423.7 857.0,423.2 857.8,422.4 859.5,421.5 860.6,419.2 861.8,417.1 863.6,416.5 865.0,414.7 863.7,413.8 861.6,413.1 859.7,411.1 859.6,408.5 860.1,406.7 861.5,405.8 861.6,403.1 862.6,401.6 862.4,400.3 861.5,398.6 862.9,397.1 864.2,397.1 866.8,396.8 868.1,396.3 869.2,394.9 871.6,395.5Z" fill="#FF9F90"/>
<path class="d" d="M949.6,417.0 951.4,415.2 951.9,413.8 951.9,411.2 953.0,412.1 954.5,412.5 956.2,411.6 957.9,411.6 959.0,412.5 961.1,413.1 963.5,412.5 965.5,413.0 967.1,414.3 969.3,415.3 970.0,416.4 971.5,417.4 972.9,418.5 975.1,419.2 977.4,419.0 978.7,418.3 978.8,416.4 980.0,414.3 982.7,413.9 984.1,414.8 984.9,417.3 984.5,418.8 983.8,420.7 984.5,422.8 985.6,424.7 987.2,425.9 989.0,427.7 987.6,429.8 985.8,430.4 985.9,432.9 984.9,434.0 985.8,435.8 987.0,436.3 987.6,438.5 989.2,440.7 989.4,442.9 989.6,444.4 990.5,446.1 992.1,448.3 993.3,450.0 993.4,451.9 994.0,454.0 993.8,455.2 994.8,457.2 993.0,457.0 991.2,458.1 989.0,457.6 987.0,457.7 985.8,458.6 984.2,458.4 982.7,459.0 981.1,458.1 980.5,457.3 978.7,457.2 977.4,455.5 976.0,454.5 974.0,454.6 973.3,453.7 971.5,453.2 970.6,451.0 968.5,451.4 966.2,451.0 964.2,450.9 962.6,451.4 962.6,449.1 961.7,447.4 960.3,446.1 959.9,443.8 958.6,442.0 957.0,440.0 957.0,437.9 956.3,435.8 955.4,434.0 955.4,432.2 955.2,430.8 954.1,429.5 954.3,428.1 953.7,425.9 951.9,424.6 950.1,426.4 948.3,425.0 947.6,423.7 949.0,422.6 949.6,420.8 950.4,419.4Z" fill="#FF9F90"/>
<path class="d" d="M767.1,358.9 765.9,356.9 764.7,355.8 763.5,355.3 761.4,356.7 760.8,358.9 759.3,359.2 758.0,359.1 756.8,360.4 754.5,360.6 752.6,361.3 751.0,363.3 749.6,362.3 748.3,362.4 748.8,364.0 748.4,365.3 747.2,366.9 746.5,368.7 745.6,370.8 744.2,372.4 743.9,373.9 744.7,375.8 744.7,378.2 744.0,380.0 743.5,381.6 742.0,383.0 741.4,385.3 741.8,386.6 741.6,388.2 742.9,390.2 743.6,391.3 743.6,393.5 742.2,394.8 741.1,397.3 739.3,399.0 738.9,401.1 737.6,402.7 736.1,403.8 735.6,405.9 733.1,407.1 731.4,407.1 729.7,407.7 730.3,409.9 729.6,411.1 730.5,412.9 731.0,414.8 732.4,415.8 732.0,417.8 732.0,418.9 733.0,420.7 733.8,422.2 735.1,422.9 735.5,424.7 734.5,426.8 734.6,429.0 735.8,430.6 736.0,431.9 734.9,432.6 733.9,434.1 734.3,436.1 733.3,438.1 733.6,439.5 734.9,441.2 734.7,443.2 734.2,444.4 734.8,446.5 734.7,447.9 736.3,448.8 737.8,450.6 740.2,451.6 741.4,452.9 742.3,455.1 743.7,457.3 744.5,459.1 744.1,461.4 744.5,464.0 746.2,465.5 748.5,466.9 748.9,465.7 750.3,464.8 753.0,464.1 754.6,464.4 756.9,463.0 759.3,463.2 761.5,464.8 762.8,466.7 764.2,464.6 766.3,463.9 767.3,462.3 767.6,461.0 766.9,459.5 767.0,457.3 768.3,456.7 769.1,455.1 769.8,453.5 769.5,452.2 770.9,451.6 772.7,449.7 772.5,447.8 772.9,446.1 774.2,444.3 774.5,441.7 777.1,440.8 777.9,439.1 778.0,437.3 776.9,435.7 777.1,434.5 779.0,433.6 781.0,433.9 781.6,434.9 783.4,435.4 784.9,434.5 786.2,432.4 788.8,431.9 790.8,429.9 790.7,428.1 791.4,426.5 792.4,424.4 792.4,422.9 793.5,420.3 795.4,419.0 795.9,417.6 795.0,416.1 794.8,415.0 794.3,413.3 792.3,412.2 792.0,411.0 792.4,408.8 790.6,406.8 791.7,404.6 793.6,403.7 795.0,401.7 795.3,399.6 795.0,397.9 795.7,396.7 795.8,394.9 796.1,393.3 796.8,392.1 798.6,390.7 800.2,389.0 800.7,387.5 800.1,386.1 800.4,384.8 799.3,383.0 797.6,382.9 796.2,382.4 794.8,381.2 793.4,380.2 792.1,380.0 790.5,379.1 789.4,377.6 787.9,376.7 786.9,375.2 785.8,373.2 784.1,371.7 781.4,371.4 779.3,371.2 778.2,370.8 776.5,372.1 775.1,372.3 774.2,370.1 773.6,368.2 771.5,366.9 771.1,364.4 770.0,363.4 769.7,361.5 767.6,360.4Z" fill="#FF9F90"/>
<path class="d" d="M748.5,466.9 748.9,465.7 750.3,464.8 753.0,464.1 754.6,464.4 756.9,463.0 759.3,463.2 761.5,464.8 762.8,466.7 764.2,464.6 766.3,463.9 767.3,462.3 767.6,461.0 766.9,459.5 767.0,457.3 768.3,456.7 769.1,455.1 769.8,453.5 769.5,452.2 770.9,451.6 772.7,449.7 772.5,447.8 772.9,446.1 774.2,444.3 774.5,441.7 777.1,440.8 777.9,439.1 778.0,437.3 776.9,435.7 777.1,434.5 779.0,433.6 781.0,433.9 781.6,434.9 783.4,435.4 784.9,434.5 786.2,432.4 788.8,431.9 790.1,433.3 790.5,434.7 792.3,435.4 794.3,435.6 795.7,436.9 796.8,437.2 798.3,438.1 798.7,439.4 799.5,441.7 801.2,441.1 802.8,441.4 804.2,442.9 806.6,443.5 807.7,445.0 810.2,445.5 811.6,445.7 813.8,445.3 815.6,445.4 816.9,446.4 819.2,446.2 820.3,447.4 821.0,448.7 822.3,450.1 823.6,450.6 825.7,451.8 826.8,452.8 827.2,454.2 829.3,455.1 830.7,454.9 832.6,455.1 834.5,456.9 836.4,458.1 838.8,457.8 839.5,456.8 839.8,455.0 841.8,453.5 843.2,454.4 845.0,454.3 846.8,455.3 848.1,455.9 848.9,457.6 850.5,457.1 852.3,457.8 854.2,459.0 855.7,459.5 857.8,458.5 858.8,460.0 860.3,460.8 861.9,462.6 863.3,462.2 865.0,463.0 864.1,464.1 864.1,465.7 865.5,467.2 865.4,469.1 865.9,470.2 864.1,470.1 862.4,471.0 861.9,472.2 860.6,473.5 858.6,474.6 857.4,475.5 855.5,475.5 854.0,476.6 855.3,479.0 854.6,480.3 854.9,482.2 853.2,483.8 853.1,485.5 851.6,486.3 850.4,487.4 850.2,488.8 850.2,490.1 849.6,491.8 847.4,492.4 846.1,492.2 845.6,493.6 844.2,494.5 842.6,494.9 841.0,496.3 839.6,495.9 837.1,496.3 836.8,497.9 835.6,499.4 833.5,500.7 832.7,501.9 832.6,504.0 830.8,505.2 829.3,504.5 827.5,504.9 826.2,505.4 824.5,507.0 823.2,509.0 822.0,509.6 820.4,509.6 819.2,510.6 818.1,510.6 816.4,511.5 815.7,513.1 813.8,514.1 814.2,515.6 815.8,517.1 815.6,519.4 814.2,520.5 813.0,520.9 812.0,523.0 810.3,523.1 808.4,523.9 807.1,522.1 806.6,520.4 806.5,519.3 805.4,517.7 804.2,517.5 803.1,515.9 801.1,515.0 800.5,513.4 799.5,511.9 799.5,510.6 798.5,508.9 798.3,506.8 797.6,505.8 795.9,505.2 794.5,502.9 792.2,501.4 790.6,501.6 788.8,502.0 787.6,503.5 785.2,503.4 783.5,502.7 782.3,500.3 779.8,499.8 778.0,499.7 776.7,498.9 775.4,498.1 774.5,496.3 773.6,494.4 773.5,492.7 772.6,491.6 770.9,490.9 768.8,490.3 767.3,488.1 766.0,487.1 765.5,485.5 763.7,483.4 762.1,482.9 760.5,481.5 760.2,480.2 759.0,478.7 758.1,477.8 756.2,477.6 754.5,477.1 753.0,477.5 751.5,476.8 750.2,477.3 748.9,476.1 747.6,475.7 747.1,474.4 747.0,471.9 747.9,471.1 748.4,469.4Z" fill="#FF9F90"/>
<path class="d" d="M694.9,534.5 696.5,536.6 698.5,537.2 700.3,537.3 701.3,538.2 702.7,539.4 703.8,541.7 705.4,542.8 706.2,544.8 706.5,546.6 707.4,548.0 709.2,548.7 710.7,550.0 711.9,552.4 714.1,552.0 715.1,552.7 717.2,553.3 718.9,552.2 720.8,552.0 721.7,551.5 723.5,552.7 724.8,553.6 725.3,555.1 727.0,555.7 728.0,556.5 730.1,556.2 731.5,556.9 733.7,556.9 734.6,557.8 736.0,558.2 736.9,559.6 738.4,558.0 740.2,557.9 742.3,557.8 743.2,556.6 745.5,556.2 747.6,556.9 747.2,559.5 748.5,561.0 748.5,562.3 749.4,563.9 750.7,565.1 751.2,567.6 750.6,569.3 751.2,570.6 751.4,572.8 753.0,574.8 751.5,576.8 749.8,577.0 748.6,578.6 748.5,580.2 747.4,582.3 747.9,583.7 745.8,585.5 746.0,587.0 745.3,588.6 744.5,589.9 742.3,590.9 741.2,592.7 741.4,594.5 740.5,596.2 740.3,597.6 741.1,599.2 742.3,600.8 744.1,601.6 744.6,604.0 745.8,605.2 746.5,606.1 746.7,607.9 745.7,609.3 744.3,610.5 743.3,611.0 741.8,610.3 740.7,609.1 738.8,609.2 737.5,610.9 735.8,611.2 734.6,611.4 732.6,611.0 731.8,612.0 731.8,614.1 729.6,614.5 728.1,616.3 727.1,618.4 727.0,620.1 725.4,620.8 723.6,622.6 722.3,621.6 720.2,621.0 719.2,619.0 718.6,617.3 717.2,616.5 715.7,615.4 713.8,615.4 711.4,616.6 709.6,616.9 708.3,616.6 706.6,617.2 705.0,617.5 703.8,618.8 701.3,619.0 700.8,616.7 699.5,614.5 698.5,611.9 696.7,611.4 695.9,610.1 694.7,608.1 693.4,607.3 692.5,606.8 690.6,606.5 689.3,606.9 688.5,608.4 686.9,608.0 685.2,608.3 683.5,607.5 682.1,605.6 679.8,604.7 678.4,603.6 676.8,603.1 674.5,603.8 672.2,602.6 671.1,600.1 671.7,598.2 671.4,596.7 670.7,594.5 670.0,592.6 670.2,591.1 670.4,589.2 672.1,588.3 672.5,587.3 672.3,585.1 671.4,583.6 669.8,582.9 668.9,582.0 669.0,580.6 670.3,579.3 669.8,576.6 668.0,575.3 667.4,574.1 667.1,571.3 668.6,570.4 669.5,569.0 670.1,566.4 669.7,564.3 671.0,562.9 671.3,561.5 670.7,559.8 670.7,558.7 671.4,557.3 673.2,556.3 673.4,554.8 674.3,553.3 675.5,551.5 677.0,550.4 678.4,549.9 679.6,548.9 681.7,548.6 682.8,547.8 684.1,546.2 685.8,544.6 685.5,542.7 686.6,540.8 688.6,540.4 690.3,539.8 691.3,538.1 692.8,535.8Z" fill="#FF9F90"/>
<path class="d" d="M865.9,470.2 868.0,470.9 868.5,472.5 869.5,473.7 871.7,472.3 874.0,471.9 875.3,473.3 875.6,475.1 876.8,475.2 878.6,476.3 880.5,476.8 881.7,478.6 882.0,481.0 882.6,482.4 884.1,484.3 884.0,485.8 885.0,488.2 886.4,488.9 887.3,491.1 889.4,492.4 891.4,492.6 893.2,494.6 894.8,496.8 896.6,497.2 898.3,498.1 900.2,500.0 898.1,501.1 896.9,503.1 894.9,503.5 893.0,503.1 890.2,503.5 889.4,504.4 887.6,504.9 885.8,506.9 885.8,509.3 883.5,510.3 883.5,511.5 882.3,512.9 880.3,514.5 879.6,516.5 879.2,518.8 880.5,521.0 878.7,521.2 877.4,520.6 875.1,521.8 874.2,520.4 872.7,519.9 870.7,519.2 868.8,519.0 867.1,517.4 866.1,519.1 864.6,519.6 863.5,521.0 862.0,521.8 860.9,522.1 859.1,521.8 858.1,523.4 857.8,525.0 858.2,526.3 859.1,528.0 858.9,529.7 859.1,530.8 857.1,531.7 855.3,532.3 853.7,531.7 851.7,532.3 849.7,531.5 848.1,532.3 847.4,533.5 845.8,535.0 843.0,535.3 841.3,537.5 839.6,537.8 838.5,538.8 837.2,536.5 835.9,535.6 834.3,535.7 833.1,535.3 831.4,534.5 830.3,534.9 828.6,534.4 826.5,533.6 824.5,533.7 823.6,532.1 823.6,530.1 821.0,531.0 820.7,532.3 821.1,534.0 820.3,536.2 819.2,537.2 818.9,539.4 819.6,541.0 818.6,542.1 817.4,544.4 816.8,546.5 815.2,547.9 814.9,549.3 812.8,550.3 812.0,551.5 810.6,551.8 809.3,553.3 809.6,551.2 808.8,550.1 808.0,548.1 806.6,547.3 804.9,546.2 805.0,544.5 805.5,542.6 806.6,542.0 806.8,540.3 805.8,539.0 805.1,537.5 803.9,536.8 804.1,535.3 804.7,533.8 804.0,531.9 805.9,530.5 806.6,528.3 808.0,526.8 808.6,525.1 808.4,523.9 810.3,523.1 812.0,523.0 813.0,520.9 814.2,520.5 815.6,519.4 815.8,517.1 814.2,515.6 813.8,514.1 815.7,513.1 816.4,511.5 818.1,510.6 819.2,510.6 820.4,509.6 822.0,509.6 823.2,509.0 824.5,507.0 826.2,505.4 827.5,504.9 829.3,504.5 830.8,505.2 832.6,504.0 832.7,501.9 833.5,500.7 835.6,499.4 836.8,497.9 837.1,496.3 839.6,495.9 841.0,496.3 842.6,494.9 844.2,494.5 845.6,493.6 846.1,492.2 847.4,492.4 849.6,491.8 850.2,490.1 850.2,488.8 850.4,487.4 851.6,486.3 853.1,485.5 853.2,483.8 854.9,482.2 854.6,480.3 855.3,479.0 854.0,476.6 855.5,475.5 857.4,475.5 858.6,474.6 860.6,473.5 861.9,472.2 862.4,471.0 864.1,470.1Z" fill="#FF9F90"/>
<path class="d" d="M652.7,435.4 654.0,433.9 655.2,433.6 656.0,432.7 656.2,430.9 658.1,429.2 659.8,429.1 661.3,427.9 661.5,426.7 661.6,424.6 663.7,425.9 665.5,426.1 667.0,425.5 668.7,426.1 669.6,428.1 670.9,429.0 672.3,429.1 673.9,429.4 674.9,430.5 676.3,432.4 678.1,432.0 679.5,432.7 681.3,432.2 684.0,432.5 685.2,434.0 686.6,434.5 688.0,436.2 690.6,436.6 692.0,438.9 693.2,438.4 695.3,439.0 696.7,438.0 697.4,437.1 698.8,437.8 700.3,437.8 701.6,438.6 702.7,439.8 703.5,441.7 705.7,442.8 706.3,445.2 708.0,443.5 709.2,442.0 711.7,441.6 713.5,441.0 715.3,441.7 716.6,441.6 717.6,440.1 718.8,439.8 719.8,438.7 722.0,437.8 724.4,437.6 726.0,438.0 728.0,438.7 729.3,438.4 730.6,437.5 733.3,438.1 733.6,439.5 734.9,441.2 734.7,443.2 734.2,444.4 734.8,446.5 734.7,447.9 736.3,448.8 737.8,450.6 740.2,451.6 741.4,452.9 742.3,455.1 743.7,457.3 744.5,459.1 744.1,461.4 744.5,464.0 746.2,465.5 748.5,466.9 748.4,469.4 747.9,471.1 747.0,471.9 747.1,474.4 747.6,475.7 745.2,477.0 744.1,479.3 744.0,482.0 744.9,483.8 744.9,485.5 745.4,487.0 744.7,488.4 743.1,489.7 742.3,490.9 742.2,492.3 741.4,493.6 740.6,491.2 738.2,490.5 736.9,489.1 735.1,488.5 733.7,488.8 731.5,487.3 729.2,488.4 727.3,488.6 726.2,488.2 724.3,486.2 722.9,485.4 720.8,485.5 719.1,487.0 717.0,486.6 715.4,487.3 713.9,487.5 712.2,486.3 710.1,487.3 709.3,489.5 707.4,490.9 707.2,493.0 705.6,494.5 704.7,492.9 703.1,492.1 701.9,492.6 700.2,491.8 698.2,493.3 696.6,493.8 694.9,493.6 693.2,494.5 691.8,494.5 690.5,496.6 688.6,497.2 686.5,496.7 685.1,495.5 684.9,493.6 683.2,491.8 681.5,489.9 680.6,489.2 678.7,489.1 676.2,489.4 674.1,488.5 673.1,487.6 672.4,485.2 671.0,483.6 669.6,483.4 667.8,482.2 667.4,480.2 665.5,478.7 663.3,477.4 660.6,476.8 659.0,475.9 657.6,475.8 656.0,476.3 655.0,475.5 653.5,475.0 651.5,474.8 649.5,473.9 648.2,472.5 646.3,471.5 645.2,469.6 643.6,468.8 643.2,466.7 643.7,464.6 642.8,463.8 641.8,462.1 641.9,459.8 643.5,460.1 645.6,459.0 646.2,457.6 647.8,456.3 649.3,456.8 652.0,456.3 651.9,454.4 652.8,452.9 651.3,450.8 650.9,449.3 650.9,447.6 651.6,446.5 653.5,445.2 653.4,442.5 653.4,440.1 654.6,438.7 654.1,436.7Z" fill="#FF9F90"/>
<path class="d" d="M324.7,512.5 325.0,511.4 326.5,510.1 328.9,509.4 330.8,510.1 332.2,509.6 333.6,509.8 335.8,510.7 336.9,511.9 338.6,512.4 340.0,512.7 341.7,511.6 343.9,512.1 344.9,513.4 347.1,512.9 348.8,513.4 350.2,513.2 352.2,514.5 353.7,516.7 354.2,518.5 355.2,519.3 356.3,520.5 358.1,521.1 358.1,522.4 356.7,523.8 356.5,525.6 355.1,526.9 353.7,527.4 354.2,529.2 354.9,530.0 354.8,532.3 355.4,533.7 356.1,536.1 357.9,537.6 358.1,539.0 357.2,540.8 357.4,542.2 356.9,543.4 355.4,544.4 355.6,546.0 356.4,547.4 355.1,549.0 354.5,551.5 355.8,553.8 358.1,555.1 358.8,557.4 360.6,558.3 361.7,560.5 362.5,562.2 362.4,563.9 363.5,565.8 364.0,568.5 364.5,570.1 366.2,571.2 366.2,572.7 367.7,574.4 368.6,575.2 370.6,575.7 371.3,576.8 372.8,577.5 375.1,578.4 377.1,578.6 378.5,579.1 379.6,580.2 381.1,581.4 382.2,581.4 383.2,583.7 385.4,585.2 386.9,585.6 388.5,585.5 390.3,586.7 393.0,587.3 391.3,589.2 391.2,590.9 389.7,592.4 389.0,593.9 389.4,596.2 389.6,597.4 388.5,599.0 386.4,600.2 384.9,600.1 382.3,599.8 381.3,601.0 380.0,601.6 378.0,601.1 376.9,601.6 375.1,602.5 373.4,603.1 371.5,602.5 371.0,601.0 368.7,599.8 366.2,599.8 364.4,599.3 363.2,599.5 361.3,598.4 360.8,597.2 359.3,596.0 358.4,594.5 356.5,594.2 355.4,593.6 353.0,593.2 351.9,591.8 349.5,592.8 348.3,594.5 346.6,593.1 344.5,593.0 342.9,593.6 341.7,594.8 339.0,594.8 337.6,597.2 335.6,595.6 335.4,594.1 333.3,593.5 332.2,592.7 331.0,593.2 328.7,592.9 326.8,591.8 324.0,591.4 322.8,591.1 321.5,590.0 320.5,588.6 320.2,587.0 317.9,585.5 316.3,585.0 315.1,583.7 315.7,582.0 315.2,579.7 314.8,578.5 313.4,577.5 314.7,576.2 315.0,573.6 315.1,571.2 315.2,569.0 314.8,567.5 313.4,565.8 314.9,564.4 315.1,561.7 316.9,559.6 318.9,557.7 318.4,555.4 319.6,553.3 321.1,551.2 322.8,551.4 324.2,550.6 325.8,549.9 327.0,547.4 327.8,544.7 327.7,542.6 327.0,541.0 326.9,538.3 325.3,536.7 325.0,535.4 326.8,533.9 327.3,531.2 326.6,529.9 326.8,528.3 326.4,525.8 325.3,523.7 324.2,522.9 322.8,520.8 322.5,518.6 323.2,517.5 323.0,515.1 323.4,513.6Z" fill="#FF9F90"/>
<path class="d" d="M421.4,507.8 424.1,507.9 425.7,508.6 428.4,507.9 429.7,509.5 432.1,510.2 433.7,509.1 435.4,509.3 437.3,509.9 439.9,509.9 442.1,510.9 443.2,511.5 445.0,512.0 446.3,513.1 448.2,512.8 449.3,512.0 451.3,510.7 452.2,509.3 454.3,508.8 455.6,507.9 456.7,505.7 456.2,504.4 456.7,502.9 455.9,500.4 456.6,499.3 458.0,498.5 458.8,496.3 458.6,495.0 459.4,493.1 461.4,492.8 462.4,491.9 463.9,493.8 465.9,494.5 467.9,494.4 469.5,495.5 471.5,496.0 472.9,495.4 474.8,495.6 475.7,496.6 477.2,497.9 479.4,499.4 479.5,500.7 480.8,502.3 482.2,501.9 484.1,502.6 486.2,503.6 486.7,506.2 486.2,507.9 485.3,509.0 484.1,510.8 483.1,512.0 481.7,512.6 483.5,514.0 484.2,515.5 484.4,517.9 484.1,519.7 483.5,520.6 483.2,522.3 482.8,524.1 483.5,525.1 483.0,527.2 483.6,529.2 482.3,530.1 481.7,532.2 482.2,534.0 481.6,536.1 480.4,537.5 480.0,539.4 480.7,541.2 480.5,542.7 481.2,544.0 482.6,544.8 482.9,546.5 484.4,547.9 484.4,550.1 484.2,552.0 484.8,553.2 484.5,554.5 482.8,556.0 480.2,556.7 478.5,557.8 477.4,559.6 477.2,561.0 477.6,563.2 476.9,564.7 477.4,566.4 476.4,567.6 475.8,569.5 474.4,570.9 473.4,571.4 471.8,572.4 469.5,572.1 468.1,571.4 465.6,571.2 463.6,572.0 462.4,573.0 461.9,574.1 462.5,575.9 461.5,577.5 462.6,577.9 463.6,579.6 465.9,580.2 467.1,582.3 466.8,584.7 465.4,586.8 463.3,588.2 465.0,589.6 465.7,591.5 466.8,592.7 466.7,595.0 467.6,596.3 468.6,597.2 466.0,596.8 464.9,594.9 463.3,594.5 461.5,592.9 460.0,593.5 457.9,592.7 456.1,591.3 454.6,591.5 452.5,590.9 450.5,591.1 449.7,592.1 448.1,593.6 447.4,591.6 448.4,589.1 447.9,587.8 446.6,586.5 444.9,585.5 443.8,583.3 442.8,582.2 441.3,581.9 440.1,579.8 439.1,578.5 437.7,577.5 437.6,576.2 436.3,575.0 434.1,573.9 432.1,573.6 430.9,573.9 428.8,573.0 427.5,572.4 426.6,570.4 424.6,570.0 423.4,569.4 422.9,567.6 421.9,566.6 419.8,564.9 417.3,564.6 415.4,563.2 413.9,561.2 412.7,560.5 412.0,559.4 411.8,557.8 411.8,556.6 411.1,554.9 411.6,552.7 412.7,551.5 413.2,549.9 414.8,548.7 415.4,546.2 417.5,545.6 418.4,544.7 419.9,542.5 419.8,540.8 419.3,539.2 417.7,538.3 416.9,536.5 417.3,535.4 418.0,533.7 418.9,531.4 420.8,530.4 421.6,528.3 420.6,525.9 419.3,524.9 419.0,522.9 419.8,521.1 418.4,519.2 418.6,517.0 419.3,515.8 418.9,514.0 419.4,512.6 421.2,511.2 421.8,509.6Z" fill="#FF9F90"/>
<path class="d" d="M384.9,622.8 384.0,624.1 383.7,625.5 382.3,626.1 381.4,627.2 380.7,629.4 381.4,631.3 380.8,632.6 379.6,633.5 380.2,636.0 380.2,637.4 378.7,638.9 379.6,640.6 381.4,641.5 381.0,642.9 379.6,644.2 377.9,642.1 376.4,642.1 375.1,641.5 372.6,640.6 371.2,641.4 369.7,641.5 367.7,641.4 366.1,642.6 364.3,641.7 362.6,641.5 361.1,641.9 360.2,642.9 358.6,642.3 357.2,642.4 356.1,642.7 354.6,643.7 351.9,643.3 350.2,642.9 348.3,643.3 348.5,645.0 348.2,646.1 349.2,648.7 349.2,651.4 350.4,652.3 351.0,654.1 351.9,655.9 352.0,657.5 352.5,659.1 351.9,661.2 351.0,663.6 350.6,665.1 351.0,666.6 350.3,668.6 349.5,669.6 347.4,671.0 346.1,673.0 343.8,673.7 345.6,674.5 347.2,676.1 348.3,678.2 349.8,678.8 350.8,680.5 352.0,680.7 353.7,681.8 355.2,683.1 356.4,684.5 357.2,686.2 358.6,687.0 360.2,689.2 360.8,691.6 359.6,692.8 359.5,694.6 358.0,695.5 357.2,697.0 358.0,698.8 359.2,699.6 359.9,701.4 361.0,703.1 361.4,704.9 363.5,705.9 364.7,706.2 366.3,707.5 367.8,706.9 369.7,706.8 371.0,707.1 372.5,706.4 374.4,706.8 375.4,708.0 376.9,708.6 378.0,707.8 380.2,707.8 381.5,709.3 384.1,709.5 385.2,710.0 387.1,709.8 388.8,708.6 390.9,710.3 393.0,710.4 394.6,711.8 396.1,712.5 397.4,712.3 399.0,712.3 400.2,711.3 401.8,711.5 403.2,712.9 405.2,713.2 407.3,712.0 409.4,712.2 410.9,711.8 411.7,710.4 413.3,709.8 414.5,707.7 414.7,705.3 415.7,703.8 418.0,702.3 418.9,700.8 418.6,699.3 418.9,697.9 420.4,699.7 422.5,701.1 425.2,701.4 426.9,702.1 428.7,701.5 430.8,703.0 432.3,703.2 434.4,701.4 435.8,701.1 437.7,701.4 439.0,702.7 441.3,703.2 441.8,705.0 443.7,706.4 444.8,707.0 446.6,706.8 448.5,707.8 450.2,709.5 452.0,707.8 453.8,707.7 453.5,706.4 453.8,704.6 454.6,703.1 455.6,702.3 454.1,700.7 453.6,698.0 453.3,696.5 453.8,695.2 454.1,693.5 453.4,691.1 454.7,688.9 454.5,687.3 455.1,685.6 454.4,684.7 454.0,683.0 452.9,681.8 451.2,680.3 451.0,678.6 449.8,677.1 448.4,676.4 446.3,675.0 444.7,675.0 443.4,674.0 443.1,671.9 442.7,670.2 442.2,668.8 440.8,668.1 439.0,667.9 437.7,666.6 436.0,665.2 436.1,663.8 435.5,662.5 433.3,662.3 432.3,661.2 430.4,661.3 429.4,660.8 427.7,662.4 425.2,663.0 425.3,661.1 424.9,659.7 423.3,657.5 421.6,656.7 420.2,655.4 419.5,654.0 417.4,653.7 417.0,651.8 416.2,650.5 414.2,649.6 413.4,648.5 412.6,646.1 410.9,645.1 408.9,644.1 407.4,644.5 405.9,644.1 404.6,643.4 403.7,641.5 402.4,640.6 401.7,638.1 399.3,637.1 397.8,636.6 396.7,635.3 395.3,634.1 394.8,631.7 392.9,631.7 391.6,630.6 391.0,628.7 389.4,627.2 389.4,625.7 387.9,624.1 386.1,623.6Z" fill="#FF9F90"/>
<path class="d" d="M158.9,424.5 160.4,424.7 162.2,424.1 163.2,425.1 164.9,425.3 165.8,423.7 167.3,422.8 168.5,422.8 170.4,422.5 171.3,423.2 172.8,423.2 174.2,423.9 176.0,424.6 176.7,425.9 178.2,424.8 180.6,424.9 182.1,423.8 183.6,423.5 184.2,421.7 185.8,421.7 187.5,423.0 188.5,422.1 190.7,421.9 192.4,420.5 194.9,419.5 197.1,420.1 199.2,420.0 201.3,418.4 202.5,419.1 205.0,419.4 206.7,420.6 207.5,419.5 209.0,418.6 211.0,419.2 213.1,418.4 213.0,416.7 213.6,414.4 214.8,413.7 216.4,412.0 218.3,413.3 218.6,414.8 218.8,416.1 218.0,417.8 218.9,419.2 218.7,420.6 219.8,421.8 220.9,422.5 221.7,424.2 222.8,425.0 223.2,426.8 223.3,428.3 222.3,429.6 222.6,431.2 222.3,433.1 223.8,434.8 225.1,434.9 225.5,436.5 226.7,437.6 225.4,439.2 224.7,440.3 224.9,442.0 225.6,442.9 227.3,443.6 229.9,443.8 231.2,444.7 232.5,446.6 233.0,449.2 232.1,450.4 230.4,451.0 230.4,452.1 229.4,453.7 229.6,456.4 229.8,458.0 231.2,459.9 233.2,460.6 233.9,461.7 232.0,461.6 230.5,462.4 229.1,463.0 227.6,465.3 228.2,466.9 229.6,467.8 229.4,469.7 227.8,470.6 227.0,471.7 226.7,473.3 227.8,475.8 227.6,477.8 225.6,478.9 225.1,480.2 224.1,481.4 222.0,483.2 221.0,484.9 218.9,483.8 218.4,482.2 216.9,481.4 214.9,481.7 213.7,481.2 211.5,482.3 209.2,482.1 207.1,483.4 205.3,483.2 203.9,485.2 202.6,485.8 201.1,486.4 199.3,486.2 196.8,486.2 195.4,484.9 194.0,486.6 192.2,486.5 191.2,487.1 189.9,486.6 188.3,486.7 186.8,485.4 184.9,485.4 182.9,485.8 181.3,485.4 180.0,486.0 179.0,487.4 177.6,488.5 175.3,488.8 174.3,489.9 172.2,491.2 171.4,490.1 169.3,489.6 166.8,489.4 164.7,488.5 163.0,487.8 160.6,488.1 159.6,486.4 158.3,485.6 157.9,483.2 155.5,481.9 154.4,480.3 154.3,478.7 155.4,477.2 155.4,475.3 155.2,473.3 154.3,472.2 152.0,471.9 150.8,470.1 150.7,468.9 148.7,467.2 146.6,467.2 145.4,465.8 145.4,464.4 143.5,462.7 143.2,461.2 142.7,459.0 142.8,457.6 141.9,456.3 140.8,455.6 140.0,453.7 140.9,451.9 142.1,451.3 143.6,451.0 144.8,450.0 145.4,448.1 148.0,447.4 147.1,446.5 146.9,444.7 146.7,443.3 147.2,441.1 147.8,439.3 148.7,437.7 149.8,436.7 151.7,435.9 152.5,434.2 153.4,433.1 154.5,432.1 155.2,429.9 157.0,428.6 157.2,426.9 157.9,425.3Z" fill="#FF9F90"/>
<path class="d" d="M216.4,412.0 217.1,410.3 217.9,409.4 219.6,409.2 221.2,408.4 222.6,407.6 224.9,407.7 227.4,407.9 228.0,406.7 229.6,406.1 230.4,405.2 231.1,403.5 232.3,402.4 234.5,401.8 236.3,402.5 239.0,401.7 239.8,400.2 241.2,400.6 242.4,401.8 244.9,401.6 246.3,402.4 247.1,403.8 248.7,404.4 251.0,404.7 252.7,405.6 252.0,404.1 252.4,402.1 252.8,399.4 253.8,398.2 254.9,397.4 257.0,397.6 257.5,396.3 259.1,395.0 261.2,393.3 261.5,391.1 262.4,389.5 262.5,387.3 264.5,386.8 265.9,387.1 267.2,385.7 268.8,385.5 270.1,386.4 271.3,386.8 272.1,388.6 273.2,389.1 275.2,390.0 276.8,390.0 278.6,391.2 279.3,392.3 280.4,394.5 278.3,395.5 277.5,396.8 276.8,398.9 278.2,399.5 279.7,400.9 282.1,402.3 284.1,402.6 285.8,401.6 287.0,400.4 289.5,400.2 291.1,399.9 292.4,400.0 293.8,400.7 294.1,403.0 294.7,404.3 296.5,406.1 298.1,406.2 299.2,407.0 301.0,407.2 303.1,405.6 305.1,406.1 306.6,405.9 309.0,407.0 310.9,407.4 311.6,408.7 313.1,409.3 314.3,411.2 314.4,413.2 314.6,415.5 313.5,416.5 312.2,418.6 310.2,420.5 308.2,421.3 306.8,421.3 304.5,422.5 303.3,424.0 301.1,424.1 299.9,424.3 298.8,425.8 298.6,427.1 297.7,428.4 296.6,429.1 295.2,431.1 294.8,433.0 293.5,435.4 293.0,437.0 293.4,438.3 293.4,440.0 292.6,441.7 293.2,444.2 294.3,445.4 294.4,446.9 293.4,449.2 292.6,451.5 290.7,452.6 291.7,453.5 291.7,455.6 292.7,456.6 293.4,458.0 291.7,458.5 290.9,459.9 289.9,461.8 287.9,462.8 286.6,461.7 284.5,461.7 283.6,460.2 284.3,457.7 283.1,455.4 280.4,454.9 278.6,453.7 276.8,451.7 275.9,449.2 273.4,449.4 271.4,448.3 269.5,449.9 268.5,452.2 268.8,453.7 267.7,453.3 266.0,453.9 264.3,455.4 261.9,456.2 260.1,457.8 259.8,459.9 261.6,460.9 262.3,462.9 262.5,465.3 262.1,467.2 262.9,468.3 261.6,470.6 261.3,472.8 260.2,473.1 259.0,474.5 257.8,475.3 256.2,475.1 254.5,475.4 253.3,476.4 250.9,476.0 248.3,475.0 246.9,473.7 245.5,471.5 244.1,471.6 242.7,472.3 240.2,471.5 238.2,471.1 237.0,471.6 235.0,472.1 233.5,472.9 233.0,474.2 230.9,474.4 229.1,475.4 228.1,476.2 227.6,477.8 227.8,475.8 226.7,473.3 227.0,471.7 227.8,470.6 229.4,469.7 229.6,467.8 228.2,466.9 227.6,465.3 229.1,463.0 230.5,462.4 232.0,461.6 233.9,461.7 233.2,460.6 231.2,459.9 229.8,458.0 229.6,456.4 229.4,453.7 230.4,452.1 230.4,451.0 232.1,450.4 233.0,449.2 232.5,446.6 231.2,444.7 229.9,443.8 227.3,443.6 225.6,442.9 224.9,442.0 224.7,440.3 225.4,439.2 226.7,437.6 225.5,436.5 225.1,434.9 223.8,434.8 222.3,433.1 222.6,431.2 222.3,429.6 223.3,428.3 223.2,426.8 222.8,425.0 221.7,424.2 220.9,422.5 219.8,421.8 218.7,420.6 218.9,419.2 218.0,417.8 218.8,416.1 218.6,414.8 218.3,413.3Z" fill="#FF9F90"/>
<path class="d" d="M227.6,477.8 228.1,476.2 229.1,475.4 230.9,474.4 233.0,474.2 233.5,472.9 235.0,472.1 237.0,471.6 238.2,471.1 240.2,471.5 242.7,472.3 244.1,471.6 245.5,471.5 246.9,473.7 248.3,475.0 250.9,476.0 253.3,476.4 254.5,475.4 256.2,475.1 257.8,475.3 259.0,474.5 260.2,473.1 261.3,472.8 261.6,470.6 262.5,469.7 264.3,468.9 263.9,471.1 265.2,473.3 267.2,474.9 269.7,475.1 271.7,473.6 274.1,473.3 275.3,474.3 276.5,474.7 278.2,474.9 279.5,474.2 278.8,473.1 278.3,470.9 278.6,468.9 279.4,466.4 281.3,465.3 282.2,463.4 283.3,463.0 284.5,461.7 286.6,461.7 287.9,462.8 289.9,461.8 291.5,463.4 292.4,464.9 292.5,466.9 293.9,468.2 296.5,468.8 296.8,471.2 297.9,472.3 300.4,473.6 301.7,475.9 301.5,477.6 302.5,478.8 303.3,481.2 304.8,482.3 306.4,482.6 308.4,483.9 310.9,484.1 312.2,483.0 314.4,483.8 315.9,483.3 317.6,483.9 318.2,485.2 320.0,486.3 320.3,488.4 320.6,490.4 321.7,492.0 321.5,493.4 322.0,495.5 320.9,498.0 321.1,500.1 322.6,501.8 322.8,504.5 322.2,506.2 322.3,508.1 323.2,509.4 324.5,510.1 324.7,512.5 323.4,513.6 323.0,515.1 323.2,517.5 322.5,518.6 322.8,520.8 324.2,522.9 325.3,523.7 326.4,525.8 326.8,528.3 326.6,529.9 327.3,531.2 326.8,533.9 325.0,535.4 322.8,535.4 321.0,534.6 318.8,533.3 317.2,532.1 316.9,530.8 314.8,530.4 313.5,528.8 311.7,527.5 311.4,526.0 309.9,525.0 308.1,525.2 306.9,524.9 305.0,525.0 302.7,525.5 301.0,527.0 298.3,527.2 297.0,526.1 294.7,526.9 293.8,527.9 292.5,528.2 290.9,527.8 289.1,526.2 286.6,525.2 284.1,524.1 282.7,523.4 281.3,521.6 281.4,519.6 282.0,518.1 283.1,516.3 281.1,515.2 279.5,515.5 277.7,514.5 275.5,514.9 274.1,514.3 272.3,514.5 270.8,513.7 270.1,512.4 268.8,511.6 267.0,511.8 266.4,509.4 265.2,507.3 264.1,505.9 263.0,505.4 261.6,506.2 260.0,505.9 258.0,505.5 256.0,506.8 253.9,506.9 252.7,506.4 251.3,507.4 249.2,507.3 247.3,509.1 246.1,509.4 244.3,510.6 243.4,509.6 241.9,509.1 240.9,508.2 240.2,506.4 239.6,504.1 238.4,502.5 237.5,501.9 238.2,500.9 239.9,500.3 240.7,499.0 241.0,497.5 239.9,495.3 240.3,492.6 239.3,491.2 237.5,489.1 236.3,487.8 234.8,487.6 233.2,486.1 230.9,486.4 229.4,485.8 226.8,485.3 225.5,486.4 224.1,486.7 223.0,485.5 221.0,484.9 222.0,483.2 224.1,481.4 225.1,480.2 225.6,478.9Z" fill="#FF9F90"/>
<path class="d" d="M512.0,298.7 513.8,300.6 516.0,298.9 517.8,299.0 519.0,298.5 520.4,299.0 522.4,298.5 524.2,300.4 525.9,300.8 526.6,302.6 527.7,303.8 528.1,301.5 529.4,300.6 532.0,300.1 534.2,298.5 536.3,299.4 538.8,300.2 540.2,299.7 542.5,300.2 543.8,301.7 545.5,302.5 546.5,303.9 547.6,304.5 548.6,305.6 549.1,307.0 551.0,307.4 553.4,306.0 554.1,303.6 553.7,301.3 554.0,299.8 555.6,298.5 557.3,298.2 558.9,297.2 560.5,295.8 560.9,294.2 562.7,295.4 564.2,296.4 566.3,296.3 567.9,298.0 568.7,299.6 570.2,300.6 571.6,300.6 572.8,299.3 574.1,299.0 575.4,298.1 578.1,297.5 579.9,298.5 579.2,299.6 579.3,301.4 580.2,303.5 580.1,305.3 582.0,305.7 583.6,307.8 584.5,309.4 585.6,310.1 585.8,311.3 586.5,312.8 586.7,314.9 588.1,316.3 587.8,318.5 588.7,319.9 590.0,321.2 591.1,321.5 592.0,322.9 592.6,324.8 592.1,327.1 592.5,329.1 592.8,331.3 592.1,332.3 592.3,334.5 593.4,335.1 594.1,336.8 592.0,337.8 590.9,338.7 590.1,340.6 588.6,341.0 586.2,340.8 585.3,341.8 583.1,342.5 581.2,341.9 579.8,340.9 577.7,341.6 576.9,342.8 575.3,343.3 573.5,343.8 572.4,343.4 570.8,342.1 570.1,340.1 568.5,340.1 567.0,339.0 564.3,339.1 563.2,339.8 561.6,339.9 559.3,340.4 558.4,340.9 557.2,342.5 555.8,344.2 555.4,345.5 554.2,346.6 551.8,347.0 551.0,349.2 549.9,350.4 548.3,350.6 547.1,348.3 545.7,348.5 543.8,347.1 542.3,346.9 540.4,347.7 539.8,348.9 538.4,349.7 536.6,350.5 535.3,350.7 532.9,350.2 531.3,348.9 529.8,349.4 527.5,348.8 525.2,348.5 524.1,347.1 523.8,345.7 524.0,344.2 523.2,341.7 521.1,340.7 520.0,339.1 518.8,337.2 517.3,336.6 515.0,337.5 512.5,336.3 511.3,333.9 511.6,331.9 512.0,330.7 512.1,328.8 513.4,326.5 513.9,325.1 514.0,323.1 514.8,321.0 516.1,319.3 515.4,317.2 515.9,315.8 515.2,314.1 513.4,312.2 513.4,310.8 512.4,309.1 513.0,306.9 514.3,305.0 512.7,302.9 511.5,300.8Z" fill="#FF9F90"/>
<path class="d" d="M219.5,317.8 221.0,316.1 221.2,314.4 223.5,314.0 225.3,312.1 226.9,310.2 226.8,308.8 227.8,307.0 228.3,304.5 227.6,302.2 227.8,299.9 228.9,298.5 230.4,298.7 232.1,298.0 233.9,296.1 235.3,296.4 236.9,295.3 239.1,296.1 240.0,297.4 241.8,298.5 242.7,299.4 244.5,299.5 245.9,298.2 248.6,298.0 249.7,296.6 251.1,296.4 252.5,295.3 254.2,293.7 255.8,293.2 256.4,291.0 256.5,289.4 255.5,287.0 255.5,285.0 256.7,283.5 258.4,283.0 259.4,282.4 261.2,283.0 263.4,282.5 264.2,281.3 265.5,280.3 267.6,280.3 269.5,280.0 270.8,280.6 272.2,279.5 272.9,277.8 273.9,277.1 275.6,277.2 276.8,278.1 277.9,279.5 279.6,279.9 280.2,281.3 281.7,282.4 281.8,284.4 282.4,285.6 283.9,285.7 285.5,286.9 287.2,288.4 288.7,289.6 289.9,292.0 290.9,293.5 291.2,296.2 292.8,298.0 294.2,298.5 294.6,300.1 296.3,301.4 296.1,303.8 298.2,304.4 299.2,305.8 299.6,307.0 299.5,308.7 299.3,309.8 297.9,311.1 299.2,312.8 300.2,313.5 299.8,316.2 300.6,317.7 299.5,320.2 299.2,322.9 297.0,323.9 295.9,325.1 294.7,327.4 293.4,327.6 291.4,327.2 289.0,327.3 287.0,329.2 286.8,330.4 285.6,331.9 284.0,332.8 283.1,333.7 283.1,335.9 283.8,337.3 282.7,338.4 282.0,339.7 281.3,341.7 280.7,343.8 280.9,345.1 278.7,345.6 278.1,347.3 276.8,348.9 274.7,349.8 273.1,351.5 271.9,351.8 269.7,351.5 268.2,351.8 267.0,353.8 265.0,354.0 262.6,353.8 260.7,354.2 259.7,354.9 258.8,356.7 257.0,357.4 255.0,355.5 254.5,353.2 253.7,351.0 254.1,349.8 253.8,347.8 253.0,346.1 253.3,343.9 254.4,343.0 254.9,341.4 254.6,340.0 255.1,338.4 254.2,335.7 252.9,334.1 252.7,332.8 251.6,331.8 249.6,331.2 247.0,331.9 245.8,330.1 244.2,329.6 242.3,330.1 240.8,329.6 239.4,330.8 237.7,330.7 237.7,328.8 236.6,327.6 234.8,327.0 233.9,325.8 232.1,325.7 231.0,326.1 229.9,324.7 229.0,324.1 227.0,323.2 225.4,323.3 223.3,322.3 222.2,319.9 221.0,318.4Z" fill="#FF0000"/>
<path class="d" d="M346.7,251.4 346.6,249.0 345.5,248.0 346.8,246.2 347.7,244.8 347.7,242.8 348.9,241.0 350.3,240.0 352.8,239.8 354.2,238.5 355.8,238.4 357.3,237.6 358.7,236.5 359.5,235.3 361.4,235.2 363.6,236.4 364.6,237.7 365.9,238.5 366.6,239.6 368.3,240.8 369.1,243.2 368.6,244.8 369.2,246.3 369.4,248.2 370.2,249.2 372.3,249.8 373.9,250.1 375.5,251.8 375.9,253.9 377.7,255.6 379.0,256.2 381.2,256.5 382.4,258.1 382.4,260.0 384.1,262.1 384.8,263.9 386.2,264.8 387.4,265.8 389.1,266.4 390.9,268.4 391.3,270.2 390.7,272.1 391.2,274.0 389.5,276.0 388.8,277.3 389.0,278.8 387.3,280.0 386.1,281.4 385.1,282.0 383.4,282.5 382.0,282.4 380.2,283.8 378.7,283.9 376.6,285.1 374.7,285.4 373.7,284.1 372.2,283.8 370.6,284.7 369.1,284.5 367.4,284.3 366.3,285.4 365.1,285.8 362.5,286.9 360.3,286.8 358.4,285.6 356.8,284.4 355.9,282.2 353.9,281.3 352.0,281.3 352.1,280.0 351.8,278.4 352.4,276.6 350.8,274.8 349.9,272.8 348.6,270.7 347.0,270.1 346.9,267.5 348.2,265.7 348.5,264.0 347.7,262.1 348.1,260.7 348.9,259.6 348.7,257.7 349.1,256.2 348.6,254.1 347.4,253.1Z" fill="#FF0000"/>
<path class="d" d="M365.9,238.5 367.6,237.4 368.4,235.1 369.9,234.1 371.2,234.2 373.7,233.6 375.1,233.5 376.6,234.3 377.7,233.5 380.0,233.1 380.7,231.8 381.9,231.0 383.9,230.3 384.6,229.1 386.8,227.8 388.4,227.8 389.9,226.2 391.6,224.8 392.9,224.8 393.0,223.0 393.7,221.4 395.8,221.1 397.8,219.7 398.5,218.6 400.1,218.0 402.2,218.2 404.3,218.2 405.5,219.2 408.0,219.3 408.9,218.3 410.3,217.6 411.7,217.4 412.8,216.2 414.0,213.9 413.4,212.6 411.7,211.8 410.5,209.7 410.8,207.5 410.1,205.9 407.9,204.8 405.4,203.8 403.3,204.3 402.2,202.8 402.4,200.8 401.2,199.5 400.1,198.9 398.3,198.8 395.8,197.8 396.1,196.2 398.2,194.6 398.6,192.1 398.0,190.3 400.1,188.7 401.4,187.8 402.3,185.4 404.8,185.6 406.5,186.2 407.2,187.3 408.9,188.2 410.2,190.5 412.5,191.3 413.9,191.5 415.3,192.5 417.8,191.7 418.8,190.0 420.6,189.3 421.8,189.7 423.6,189.5 425.2,189.8 426.1,191.1 428.2,191.4 428.9,192.4 429.1,194.2 430.2,195.5 432.4,195.9 433.5,196.8 434.6,198.2 436.0,198.7 437.5,199.3 438.9,199.0 441.0,200.0 440.4,202.4 440.8,204.9 442.1,206.4 440.8,208.2 439.1,209.1 438.9,210.2 437.8,211.8 436.9,213.2 436.3,214.2 436.7,216.0 438.2,215.3 439.5,213.4 441.9,212.4 444.3,211.6 445.8,211.9 447.4,212.8 447.2,215.3 447.5,217.0 448.5,218.2 446.1,218.9 445.1,220.0 444.2,222.5 446.7,223.8 448.3,225.3 448.2,226.6 448.9,228.2 447.7,228.9 446.9,230.7 444.6,231.1 442.8,230.7 441.3,231.4 439.9,231.0 438.4,231.8 436.6,232.0 435.5,232.6 434.6,234.2 433.3,234.1 431.8,233.6 429.4,234.7 427.4,235.6 426.0,237.4 424.1,238.0 422.6,237.4 421.4,238.7 419.6,239.6 418.7,241.0 417.2,242.3 417.1,243.5 416.2,245.2 416.8,247.1 417.9,248.2 418.2,251.0 417.8,252.6 416.4,253.5 415.2,254.9 414.8,256.1 412.9,256.1 411.0,257.8 411.4,260.0 410.3,261.8 408.0,263.4 407.1,265.2 407.0,267.3 407.8,268.2 407.2,270.7 405.4,270.9 404.1,269.9 402.6,269.2 401.4,267.9 399.3,268.2 397.7,269.0 395.5,270.5 393.1,270.8 391.3,270.2 390.9,268.4 389.1,266.4 387.4,265.8 386.2,264.8 384.8,263.9 384.1,262.1 382.4,260.0 382.4,258.1 381.2,256.5 379.0,256.2 377.7,255.6 375.9,253.9 375.5,251.8 373.9,250.1 372.3,249.8 370.2,249.2 369.4,248.2 369.2,246.3 368.6,244.8 369.1,243.2 368.3,240.8 366.6,239.6Z" fill="#FF0000"/>
<path class="d" d="M448.9,228.2 451.0,229.8 452.7,230.4 455.1,230.0 456.7,231.4 457.8,231.7 458.2,233.2 459.2,234.2 460.6,234.6 462.3,234.5 463.7,235.9 465.4,235.3 467.8,235.3 467.2,237.3 467.5,238.7 467.5,241.2 468.9,242.8 470.1,244.2 470.3,245.4 471.9,246.8 474.2,247.1 474.5,248.5 474.0,250.1 473.1,252.4 474.6,254.5 475.6,256.1 475.6,257.6 476.7,257.5 478.3,258.5 479.6,259.9 479.2,262.2 479.3,263.8 480.1,265.4 481.9,267.2 482.8,268.4 482.8,270.6 483.0,272.4 482.1,274.8 483.5,276.2 484.0,278.0 483.8,279.2 484.4,280.5 484.2,282.5 483.0,284.5 482.0,285.9 480.3,286.5 479.3,288.2 477.6,287.8 475.8,288.9 475.2,291.5 474.7,292.8 473.2,294.3 470.6,293.3 468.2,292.8 466.0,293.4 464.7,294.6 464.0,295.4 463.3,297.0 460.6,297.6 458.7,298.3 457.1,299.7 456.4,302.3 454.9,303.8 453.6,304.1 452.5,305.9 452.6,307.7 450.8,308.9 448.4,309.5 446.7,308.6 445.6,308.7 444.2,307.5 441.9,307.2 441.3,304.9 440.0,303.0 438.8,302.0 437.4,301.8 435.2,302.5 434.1,303.4 432.8,302.9 431.1,302.9 428.7,303.3 427.5,304.4 426.2,303.1 423.5,303.1 422.5,301.3 421.4,300.0 419.7,299.6 419.1,298.1 419.6,296.3 417.4,294.6 416.3,292.5 415.1,290.6 415.3,288.8 415.4,286.4 414.1,285.6 413.5,283.6 412.2,282.0 411.1,281.6 409.9,279.2 407.9,277.7 407.4,275.4 406.9,273.1 407.2,270.7 407.8,268.2 407.0,267.3 407.1,265.2 408.0,263.4 410.3,261.8 411.4,260.0 411.0,257.8 412.9,256.1 414.8,256.1 415.2,254.9 416.4,253.5 417.8,252.6 418.2,251.0 417.9,248.2 416.8,247.1 416.2,245.2 417.1,243.5 417.2,242.3 418.7,241.0 419.6,239.6 421.4,238.7 422.6,237.4 424.1,238.0 426.0,237.4 427.4,235.6 429.4,234.7 431.8,233.6 433.3,234.1 434.6,234.2 435.5,232.6 436.6,232.0 438.4,231.8 439.9,231.0 441.3,231.4 442.8,230.7 444.6,231.1 446.9,230.7 447.7,228.9Z" fill="#FF0000"/>
<path class="d" d="M467.8,235.3 467.8,233.4 466.9,232.0 467.0,230.9 468.3,229.6 468.9,228.1 468.9,226.7 471.2,226.4 472.6,225.0 474.4,224.9 475.4,225.2 477.4,224.6 479.4,223.5 481.1,224.5 482.9,224.3 484.6,224.9 485.2,226.1 487.1,226.1 489.0,227.0 490.2,226.6 491.2,225.6 491.9,224.2 494.5,223.5 493.3,222.4 493.0,220.1 493.2,218.2 494.5,216.0 494.9,214.8 496.5,213.7 497.1,212.0 497.4,209.8 496.7,208.5 495.3,206.9 495.2,204.2 493.5,202.1 491.7,200.0 491.3,197.8 493.0,197.3 494.1,195.7 496.7,195.7 497.9,194.8 498.8,192.5 500.0,193.5 501.6,193.4 503.6,192.8 505.3,193.1 506.5,195.4 508.5,196.8 510.7,197.3 511.9,196.8 513.8,197.8 513.8,196.0 514.5,194.9 516.0,193.6 517.5,194.3 518.4,195.9 518.6,197.6 519.2,198.9 521.7,198.4 523.5,199.8 525.6,200.0 527.2,201.8 528.9,202.4 529.9,203.2 531.0,204.4 531.2,206.1 533.1,207.5 533.1,209.4 532.6,210.5 532.0,211.9 530.9,212.8 532.3,214.2 533.6,216.5 534.1,218.7 533.1,220.3 533.8,221.7 533.6,223.7 534.0,225.7 534.7,226.8 535.9,227.8 535.2,229.5 533.6,231.1 533.0,232.9 533.1,234.2 531.1,235.2 528.6,234.5 527.5,233.1 525.6,232.1 524.3,232.9 522.8,232.9 520.7,232.7 519.0,232.6 517.0,231.0 514.7,232.5 513.2,234.2 512.4,236.4 513.2,238.2 513.1,239.5 512.6,241.2 511.0,242.8 511.6,244.5 510.9,246.1 511.8,248.0 513.8,249.2 512.5,250.3 511.6,252.1 511.8,253.6 510.6,255.6 510.2,258.3 509.2,259.9 509.6,262.6 511.0,264.2 510.9,266.2 510.1,267.7 508.5,268.5 510.6,269.9 510.4,271.0 511.3,272.8 510.6,274.8 511.0,277.1 510.6,279.6 510.8,281.5 510.4,282.6 508.9,283.7 508.5,285.6 508.4,287.2 507.7,288.1 507.4,289.9 506.1,289.3 504.8,287.8 503.6,286.9 502.0,286.7 500.4,285.5 499.5,283.9 498.4,282.8 496.9,282.2 495.1,282.7 493.4,282.4 491.7,282.7 489.7,281.4 487.1,281.9 484.9,281.0 483.8,279.2 484.0,278.0 483.5,276.2 482.1,274.8 483.0,272.4 482.8,270.6 482.8,268.4 481.9,267.2 480.1,265.4 479.3,263.8 479.2,262.2 479.6,259.9 478.3,258.5 476.7,257.5 475.6,257.6 475.6,256.1 474.6,254.5 473.1,252.4 474.0,250.1 474.5,248.5 474.2,247.1 471.9,246.8 470.3,245.4 470.1,244.2 468.9,242.8 467.5,241.2 467.5,238.7 467.2,237.3Z" fill="#FF0000"/>
<path class="d" d="M548.3,350.6 549.9,350.4 551.0,349.2 551.8,347.0 554.2,346.6 555.4,345.5 555.8,344.2 557.2,342.5 558.4,340.9 559.3,340.4 561.6,339.9 563.2,339.8 564.3,339.1 567.0,339.0 568.5,340.1 570.1,340.1 570.8,342.1 572.4,343.4 573.5,343.8 575.3,343.3 576.9,342.8 577.7,341.6 579.8,340.9 581.2,341.9 583.1,342.5 585.3,341.8 586.2,340.8 588.6,341.0 590.1,340.6 590.9,338.7 592.0,337.8 594.1,336.8 595.6,337.9 597.5,337.7 599.1,337.0 600.3,336.9 601.2,335.8 602.8,335.1 604.8,334.5 607.4,335.4 610.1,335.5 610.8,336.8 612.4,337.7 613.5,339.2 613.3,341.4 614.3,343.5 615.7,344.2 616.7,343.0 619.0,342.6 620.5,342.4 622.1,343.1 624.7,343.0 627.1,343.9 628.5,345.2 629.9,346.9 630.3,348.0 629.6,350.5 630.3,352.2 631.1,353.4 631.2,355.9 631.8,357.0 633.5,357.7 633.9,359.3 632.5,360.7 632.2,362.4 632.4,365.1 633.0,366.5 631.7,368.9 631.0,370.0 631.2,371.9 630.4,373.6 630.3,375.4 628.8,373.8 627.2,373.6 626.0,373.4 624.1,373.7 622.5,374.5 621.6,375.6 620.0,375.7 618.7,375.4 617.2,375.6 615.8,375.2 613.9,376.5 611.5,377.2 610.0,378.7 608.7,378.8 606.2,379.0 605.7,376.6 603.6,375.2 602.6,373.7 600.0,372.9 598.4,374.0 597.2,373.7 596.7,375.4 596.8,376.6 595.4,379.0 594.1,378.5 592.6,378.4 591.2,379.3 590.6,380.7 588.3,381.7 586.6,380.4 583.9,380.0 582.5,380.0 581.1,380.8 579.0,381.4 577.4,381.2 577.1,380.1 575.7,378.8 573.1,378.1 571.7,377.8 570.2,378.2 568.5,380.2 566.8,380.8 565.2,381.0 563.7,382.2 562.7,384.4 561.5,385.3 559.8,385.8 558.0,385.2 556.6,386.6 554.5,386.7 554.6,385.1 553.2,382.8 551.8,380.9 550.3,380.6 548.8,378.9 546.2,379.2 545.0,379.4 543.5,381.0 544.4,378.4 543.9,376.5 544.0,374.2 545.0,372.0 546.6,371.2 546.1,369.9 546.2,367.7 547.9,365.7 548.3,364.0 546.8,362.2 546.9,360.5 546.4,358.9 546.6,356.9 546.2,355.5 546.7,354.0 547.0,352.5Z" fill="#FF0000"/>
<path class="d" d="M628.5,345.2 630.8,344.3 633.2,344.4 634.3,343.7 635.0,342.0 636.5,342.2 638.1,343.9 640.3,343.8 641.8,344.6 643.1,344.9 643.7,343.7 645.6,342.9 647.8,343.1 649.1,342.2 650.2,340.7 650.9,338.8 652.9,338.0 654.2,336.7 656.8,336.1 657.8,336.7 659.7,336.5 661.2,336.2 662.7,334.5 664.5,333.4 665.3,331.8 666.7,331.4 668.3,330.4 670.2,330.2 671.5,328.9 672.3,327.0 674.1,327.5 675.2,328.3 677.3,328.7 678.8,328.0 679.4,329.9 679.3,332.0 678.7,333.1 679.7,333.8 680.9,335.6 683.0,335.3 685.1,336.2 686.0,337.0 686.2,338.9 688.4,339.9 689.1,341.9 690.0,342.8 691.6,345.0 693.8,346.3 694.3,348.7 695.3,349.9 697.6,350.8 699.0,352.9 699.2,354.9 700.9,355.0 702.3,355.6 703.2,357.9 705.6,359.2 706.1,361.2 706.3,362.4 705.3,364.1 707.2,366.0 708.0,367.3 707.8,369.9 708.7,371.4 708.6,373.5 709.5,375.1 710.8,376.3 708.7,374.9 706.0,374.7 704.5,373.7 703.0,372.8 701.4,373.4 700.1,372.8 699.4,375.1 698.0,376.1 695.6,377.2 693.5,377.5 692.3,378.3 691.9,379.7 690.2,380.8 687.9,381.1 685.9,382.5 685.3,384.2 683.1,385.3 682.5,387.0 680.9,388.4 678.6,389.7 678.0,390.7 678.1,392.5 677.0,393.3 675.9,395.1 674.3,396.2 672.3,396.9 671.1,397.1 669.6,398.0 667.7,398.0 666.8,397.2 665.2,397.8 662.6,397.4 661.5,398.4 659.8,398.7 658.5,398.6 657.0,397.8 655.2,397.0 654.5,396.0 652.8,395.2 651.1,394.8 650.0,395.1 649.1,393.4 649.1,391.5 647.8,390.9 646.7,389.3 644.9,388.5 643.7,388.9 642.5,387.0 641.9,386.0 640.2,385.3 639.0,383.1 638.0,382.1 636.6,381.7 635.0,379.8 633.0,379.0 632.4,376.9 630.3,375.4 630.4,373.6 631.2,371.9 631.0,370.0 631.7,368.9 633.0,366.5 632.4,365.1 632.2,362.4 632.5,360.7 633.9,359.3 633.5,357.7 631.8,357.0 631.2,355.9 631.1,353.4 630.3,352.2 629.6,350.5 630.3,348.0 629.9,346.9Z" fill="#FF0000"/>
<path class="d" d="M630.3,375.4 632.4,376.9 633.0,379.0 635.0,379.8 636.6,381.7 638.0,382.1 639.0,383.1 640.2,385.3 641.9,386.0 642.5,387.0 643.7,388.9 644.9,388.5 646.7,389.3 647.8,390.9 649.1,391.5 649.1,393.4 650.0,395.1 650.3,397.8 649.7,399.1 648.2,400.5 648.0,402.5 647.1,403.7 646.4,405.8 645.5,407.1 645.5,409.4 643.7,410.6 642.8,412.1 640.3,412.9 637.7,412.5 636.6,411.2 634.9,411.6 634.1,412.5 632.7,414.1 630.9,413.5 629.4,413.9 627.4,413.4 625.7,413.7 624.4,412.1 622.3,411.2 620.2,412.1 618.7,411.7 616.4,411.6 615.1,410.3 614.1,411.5 612.1,412.1 609.7,412.2 608.0,413.0 606.6,414.0 605.3,414.0 603.7,412.9 601.8,412.6 600.8,412.1 598.6,411.3 596.5,411.2 595.0,411.5 593.7,413.0 592.1,412.0 589.9,412.3 588.4,413.9 586.5,413.9 584.9,415.2 583.7,417.3 581.1,418.4 578.8,419.8 576.9,420.3 575.8,420.2 574.3,421.3 573.0,421.1 570.8,420.1 569.5,420.7 567.9,420.8 566.4,419.5 565.8,417.4 563.9,417.0 562.6,415.7 562.2,413.8 561.3,412.9 560.9,411.1 559.5,409.9 557.8,409.9 555.9,408.5 553.3,408.0 552.0,407.0 550.6,404.9 548.0,405.2 546.4,404.5 545.2,403.1 546.6,401.6 547.8,400.2 547.9,398.6 548.7,397.3 548.7,395.2 550.2,394.9 551.4,393.3 552.4,391.9 552.3,389.1 553.0,387.9 554.5,386.7 556.6,386.6 558.0,385.2 559.8,385.8 561.5,385.3 562.7,384.4 563.7,382.2 565.2,381.0 566.8,380.8 568.5,380.2 570.2,378.2 571.7,377.8 573.1,378.1 575.7,378.8 577.1,380.1 577.4,381.2 579.0,381.4 581.1,380.8 582.5,380.0 583.9,380.0 586.6,380.4 588.3,381.7 590.6,380.7 591.2,379.3 592.6,378.4 594.1,378.5 595.4,379.0 596.8,376.6 596.7,375.4 597.2,373.7 598.4,374.0 600.0,372.9 602.6,373.7 603.6,375.2 605.7,376.6 606.2,379.0 608.7,378.8 610.0,378.7 611.5,377.2 613.9,376.5 615.8,375.2 617.2,375.6 618.7,375.4 620.0,375.7 621.6,375.6 622.5,374.5 624.1,373.7 626.0,373.4 627.2,373.6 628.8,373.8Z" fill="#FF0000"/>
<path class="d" d="M928.8,583.6 927.4,586.0 928.3,587.3 927.9,589.8 927.5,590.9 928.1,592.7 927.6,594.0 926.1,595.2 925.5,596.9 924.2,597.7 924.2,599.1 923.4,600.6 923.1,602.0 921.6,603.2 921.6,605.0 919.6,605.5 918.7,606.5 916.2,605.9 914.5,606.7 913.9,607.7 912.5,607.7 910.9,608.6 908.7,609.3 907.7,608.4 905.5,607.7 903.0,607.2 901.9,605.9 900.0,603.9 897.5,603.3 895.1,602.3 893.0,600.6 890.3,600.2 889.0,600.6 887.6,601.5 885.8,599.7 884.0,598.8 882.1,599.7 880.1,599.2 878.7,599.7 877.5,601.2 876.2,601.5 874.2,601.5 873.4,602.5 871.5,603.3 870.8,600.6 868.8,598.8 867.8,596.5 866.1,595.5 864.4,595.2 864.3,593.8 863.4,592.5 861.7,591.6 862.7,589.9 864.6,589.2 865.3,588.0 865.5,586.2 864.4,584.5 862.3,584.6 861.3,583.9 859.9,582.7 858.1,583.0 856.0,584.1 853.6,583.6 851.6,582.9 849.5,583.5 847.4,584.5 845.5,585.1 844.5,586.0 844.2,587.2 842.9,588.9 841.7,587.2 840.2,586.3 839.4,585.1 838.0,584.3 837.5,581.8 836.3,581.1 835.2,579.3 833.1,578.2 832.0,577.0 830.4,576.4 832.0,575.8 832.8,574.6 834.7,574.6 835.8,573.7 837.7,572.8 839.0,571.6 840.1,571.7 842.0,571.0 841.3,569.8 841.4,568.1 840.2,566.6 840.6,564.5 840.2,562.1 841.9,561.5 842.7,560.8 844.1,560.1 845.6,560.3 847.3,560.5 848.9,560.1 851.0,559.4 851.7,557.3 852.8,556.0 854.4,555.5 855.4,554.1 856.6,553.1 857.0,551.6 859.0,550.5 859.7,548.6 859.5,546.4 859.9,545.1 861.4,544.8 863.0,545.3 864.3,544.4 866.2,544.2 867.4,542.7 869.3,542.3 872.0,542.5 873.3,541.5 875.8,540.8 876.9,539.7 878.6,539.7 880.3,539.2 882.3,540.6 884.9,540.6 886.5,541.8 887.6,543.3 890.0,543.5 891.4,544.3 891.8,546.0 893.0,546.9 895.0,548.4 895.5,550.2 896.6,551.4 897.1,552.9 898.7,553.9 899.3,555.8 899.1,558.0 900.5,559.8 902.8,561.2 904.7,563.0 904.7,564.5 905.5,566.6 906.4,569.0 908.2,570.2 908.9,572.5 911.2,573.9 911.8,575.5 914.1,576.0 916.2,577.3 918.1,578.6 919.8,579.1 921.2,581.0 923.6,582.2 925.2,581.8 927.2,583.4Z" fill="#FF0000"/>
<path class="d" d="M994.8,457.2 996.5,456.7 998.2,457.1 999.1,458.5 1001.0,459.4 1002.5,458.9 1004.2,459.5 1006.3,458.5 1006.9,459.6 1007.4,461.5 1008.6,462.9 1009.9,463.0 1012.3,462.4 1014.0,463.0 1015.3,462.5 1016.6,463.5 1018.8,463.9 1018.6,466.6 1019.9,468.1 1020.6,470.2 1020.5,471.4 1021.0,473.0 1020.1,475.1 1020.4,477.5 1022.4,479.1 1023.9,480.4 1023.9,482.0 1025.4,483.1 1025.1,484.3 1026.0,486.2 1026.6,487.9 1026.1,489.7 1027.5,491.7 1027.8,493.4 1026.5,495.0 1026.6,496.3 1025.0,497.4 1024.2,498.8 1023.5,499.9 1021.4,500.9 1018.8,500.6 1016.7,501.6 1016.0,502.4 1015.3,504.1 1013.7,503.5 1012.5,502.1 1010.5,501.5 1008.1,502.3 1005.4,501.9 1003.6,501.9 1002.3,502.1 1001.0,503.2 998.3,502.8 996.7,502.3 995.6,501.4 994.0,502.7 992.3,503.1 989.5,502.9 987.8,502.2 986.8,504.0 985.9,505.2 984.2,505.8 984.3,507.4 983.8,508.6 984.1,510.3 985.1,511.1 983.0,512.0 982.0,514.0 980.6,514.7 980.1,516.7 979.0,517.4 977.9,519.2 976.3,520.8 976.0,522.7 975.3,523.7 974.5,525.4 973.5,526.1 971.7,526.3 970.4,525.9 968.8,526.0 967.2,527.2 964.9,526.6 962.7,525.4 962.0,524.0 962.1,521.5 961.1,519.6 959.2,518.3 957.9,517.5 957.3,515.7 955.7,514.8 953.8,514.7 952.4,513.7 951.2,512.2 951.1,511.1 949.4,509.0 949.3,506.7 948.0,505.2 947.3,503.2 945.0,501.8 943.9,500.4 943.7,498.8 943.5,497.1 944.0,494.7 943.1,492.6 941.9,491.6 941.7,489.2 940.6,487.2 938.1,486.3 936.6,484.5 936.8,483.1 935.7,481.5 935.8,479.4 935.0,478.1 933.0,477.3 934.0,475.2 934.0,473.5 932.8,471.8 933.0,470.2 932.8,468.2 933.8,467.1 934.4,465.3 934.1,463.3 932.2,461.7 931.2,459.9 929.5,459.0 927.9,458.0 926.4,458.1 927.7,457.4 928.6,455.4 929.8,454.3 930.6,452.1 932.5,452.7 934.0,454.1 936.4,455.0 938.5,455.0 940.6,455.9 942.0,455.9 943.9,455.2 944.7,453.7 945.7,452.4 947.4,451.9 948.8,451.1 949.6,450.1 949.7,448.7 948.3,446.9 950.1,446.1 951.9,446.5 953.1,445.8 955.4,446.1 956.2,445.0 956.3,442.9 956.3,441.6 957.0,440.0 958.6,442.0 959.9,443.8 960.3,446.1 961.7,447.4 962.6,449.1 962.6,451.4 964.2,450.9 966.2,451.0 968.5,451.4 970.6,451.0 971.5,453.2 973.3,453.7 974.0,454.6 976.0,454.5 977.4,455.5 978.7,457.2 980.5,457.3 981.1,458.1 982.7,459.0 984.2,458.4 985.8,458.6 987.0,457.7 989.0,457.6 991.2,458.1 993.0,457.0Z" fill="#FF0000"/>
<path class="d" d="M694.0,572.9 694.5,570.7 695.8,569.3 696.2,567.5 696.7,566.6 696.2,564.9 697.4,563.7 697.6,561.3 700.2,560.9 700.9,562.0 702.9,562.6 703.5,564.6 704.7,565.8 706.5,566.1 707.4,566.7 709.0,566.1 710.1,564.9 711.3,563.9 712.3,561.7 713.9,561.2 715.4,560.0 717.2,559.7 719.0,558.6 720.2,559.4 720.8,561.3 720.9,562.4 721.7,564.0 722.5,565.3 724.4,565.8 724.8,567.7 725.7,569.3 726.7,571.5 728.0,572.0 730.6,571.1 732.7,570.1 733.8,568.2 732.9,569.5 733.3,572.0 732.2,573.7 732.9,574.9 732.9,576.5 732.5,578.5 731.5,580.1 730.6,582.1 731.1,583.7 731.6,585.8 731.5,588.1 731.2,590.5 732.0,591.7 730.6,591.8 728.9,593.5 727.5,594.3 725.3,594.4 722.6,593.9 721.7,592.8 721.7,590.8 719.0,590.4 718.1,589.7 717.2,588.1 716.0,586.5 715.0,585.9 712.8,584.5 711.7,584.4 710.1,583.2 708.8,582.0 707.4,581.9 705.9,580.4 704.7,580.1 703.3,580.0 702.0,578.7 699.3,578.3 697.7,577.6 696.2,575.6 695.5,574.1Z" fill="#FF0000"/>
<path class="d" d="M304.9,256.7 306.9,255.5 309.6,255.8 311.4,255.9 313.3,254.6 314.4,253.2 315.6,252.4 317.2,252.3 318.4,252.5 319.4,253.4 321.0,254.1 322.7,254.3 324.2,253.5 325.3,252.9 327.2,253.1 327.8,251.7 329.5,250.8 331.7,251.4 333.6,250.9 335.9,251.3 337.0,252.4 338.8,251.7 339.4,250.7 341.4,250.9 342.6,249.9 344.6,249.7 346.7,251.4 347.4,253.1 348.6,254.1 349.1,256.2 348.7,257.7 348.9,259.6 348.1,260.7 347.7,262.1 348.5,264.0 348.2,265.7 346.9,267.5 347.0,270.1 348.6,270.7 349.9,272.8 350.8,274.8 352.4,276.6 351.8,278.4 352.1,280.0 352.0,281.3 353.9,281.3 355.9,282.2 356.8,284.4 358.4,285.6 357.9,287.5 356.8,288.5 354.5,289.6 352.6,288.9 351.0,289.2 349.8,289.9 348.7,291.3 347.1,292.3 345.7,293.6 345.5,296.3 345.0,298.7 346.1,301.2 345.6,302.6 343.9,304.1 342.1,305.4 339.4,305.9 337.5,306.9 335.7,307.0 334.1,308.6 332.9,308.8 330.9,308.1 329.4,307.0 328.6,304.9 328.5,302.7 327.9,300.8 326.0,299.5 324.5,297.4 324.8,295.9 324.2,294.2 321.9,292.8 319.8,293.0 317.5,291.8 316.7,289.9 317.0,288.1 316.1,286.1 316.2,283.4 317.8,281.3 317.2,279.4 317.7,277.9 316.5,277.1 315.8,275.7 313.9,275.0 313.2,273.7 311.3,272.8 312.5,271.0 312.3,269.1 311.6,267.0 310.6,264.8 309.2,264.2 309.1,262.4 308.1,260.4 307.0,258.4Z" fill="#A80000"/>
<path class="d" d="M404.6,361.3 405.6,362.4 407.7,363.2 408.5,364.4 408.5,365.9 410.0,367.1 410.3,368.9 409.4,370.2 408.3,371.4 407.2,372.0 409.0,371.8 410.3,372.3 410.9,373.6 412.4,374.3 414.1,374.6 413.6,376.0 413.5,378.3 411.3,377.8 409.8,378.2 407.8,379.6 407.3,381.1 407.2,383.4 405.0,383.6 404.0,384.5 401.5,384.0 399.6,382.1 398.4,381.7 396.6,382.5 394.8,383.9 393.9,385.9 394.6,388.2 395.6,389.5 395.2,391.5 395.8,392.8 395.8,394.9 394.8,395.8 393.9,397.2 395.7,398.0 397.1,400.4 397.2,402.2 397.7,403.3 399.2,404.4 399.6,405.4 399.2,406.6 399.4,408.3 400.2,410.5 402.0,411.5 402.6,413.1 404.0,414.2 404.6,416.3 403.4,418.6 405.0,419.2 406.2,418.8 407.8,419.9 409.3,418.7 410.3,418.5 412.8,418.6 413.5,417.4 413.5,415.5 415.6,415.7 416.6,416.5 418.5,416.1 419.9,414.4 421.2,413.2 422.9,413.0 424.3,412.0 424.7,410.8 427.3,410.5 428.4,408.4 430.5,407.3 433.2,407.5 434.5,407.6 436.1,408.6 436.6,410.4 435.5,413.0 435.2,415.1 433.9,416.3 433.6,418.0 432.8,419.5 432.9,421.2 431.1,423.0 432.5,424.4 433.0,426.8 431.3,428.7 431.1,430.6 431.5,432.0 432.9,433.8 431.0,435.4 428.4,436.5 427.3,437.9 426.2,438.4 424.6,437.7 423.1,438.3 421.6,440.6 420.2,441.8 418.6,441.9 418.3,444.0 416.8,445.5 416.9,447.4 416.2,449.0 415.6,450.5 414.1,451.7 412.1,452.6 411.4,453.8 408.8,453.5 409.0,452.2 408.2,450.4 409.0,449.3 408.8,447.2 406.8,446.9 406.0,445.9 405.2,443.9 403.7,444.2 401.6,443.7 399.1,442.8 397.9,441.7 396.4,442.3 394.5,441.9 392.8,443.3 390.7,443.6 388.6,444.1 387.3,443.7 385.7,442.1 383.7,441.0 384.5,439.9 385.9,439.1 387.2,437.7 387.1,436.6 387.7,434.7 387.5,432.4 388.3,430.7 388.2,429.3 388.4,427.2 389.3,425.9 390.3,423.9 391.1,423.0 392.7,422.2 392.5,420.2 390.6,418.5 390.2,417.3 390.8,415.5 390.5,414.4 389.1,413.0 388.9,410.5 387.3,408.7 385.1,407.3 383.4,407.3 382.3,406.7 381.0,405.5 380.5,403.7 379.4,402.9 377.8,401.2 377.3,398.5 378.9,397.9 379.6,396.6 380.1,394.1 381.8,392.0 382.0,390.3 384.4,389.7 386.2,388.7 387.0,387.2 387.3,384.7 388.3,383.4 389.2,380.9 388.5,379.5 390.2,377.7 391.9,376.2 393.0,374.6 392.7,372.7 393.2,371.4 394.3,370.1 395.8,368.9 397.6,367.8 399.3,365.9 401.1,365.8 402.6,364.3 402.8,362.8Z" fill="#A80000"/>
<path class="d" d="M331.0,418.6 329.3,417.9 326.9,419.0 325.3,417.3 322.9,416.8 321.4,418.4 319.4,418.6 318.5,419.5 317.4,418.7 315.5,418.3 314.1,419.0 312.2,418.6 310.2,420.5 308.2,421.3 306.8,421.3 304.5,422.5 303.3,424.0 301.1,424.1 299.9,424.3 298.8,425.8 298.6,427.1 297.7,428.4 296.6,429.1 295.2,431.1 294.8,433.0 293.5,435.4 293.0,437.0 293.4,438.3 293.4,440.0 292.6,441.7 293.2,444.2 294.3,445.4 294.4,446.9 293.4,449.2 292.6,451.5 290.7,452.6 291.7,453.5 291.7,455.6 292.7,456.6 293.4,458.0 291.7,458.5 290.9,459.9 289.9,461.8 291.5,463.4 292.4,464.9 292.5,466.9 293.9,468.2 296.5,468.8 296.8,471.2 297.9,472.3 300.4,473.6 301.7,475.9 301.5,477.6 302.5,478.8 303.3,481.2 304.8,482.3 306.4,482.6 308.4,483.9 310.9,484.1 312.2,483.0 314.4,483.8 315.9,483.3 317.6,483.9 316.3,481.8 315.8,479.4 317.9,477.5 318.5,475.8 317.2,476.3 315.1,475.7 313.1,474.1 313.6,473.0 313.6,471.1 314.9,469.6 316.3,467.9 317.9,467.1 319.5,467.2 321.1,466.0 323.0,464.4 325.0,464.4 326.5,463.3 328.3,462.4 329.8,462.8 330.8,461.4 332.6,460.3 332.0,458.9 331.9,457.6 330.1,456.2 331.3,454.9 331.5,453.6 331.9,451.3 331.0,449.0 332.8,448.0 333.2,446.8 333.0,444.4 333.7,441.9 333.9,440.2 333.3,438.2 333.5,436.8 334.5,434.7 333.4,432.8 332.9,430.5 333.5,429.1 333.7,427.6 334.1,425.9 333.6,423.8 331.9,422.2 330.8,420.2Z" fill="#A80000"/>
<path class="d" d="M466.2,386.5 467.7,387.4 468.2,388.5 470.5,389.1 471.4,388.6 472.8,387.2 474.5,387.7 475.8,387.3 477.3,387.0 478.8,387.5 480.8,386.1 482.8,387.1 484.8,387.3 486.7,388.9 488.7,389.4 489.1,390.6 490.2,391.8 491.1,389.5 492.3,388.4 493.7,388.2 495.4,386.2 497.6,385.2 498.7,384.4 500.9,384.6 502.6,386.7 504.7,386.7 506.2,387.3 508.4,388.3 510.2,390.1 511.0,391.1 511.6,392.7 513.0,393.0 514.6,392.6 516.1,393.6 517.2,392.1 517.2,390.7 518.8,389.1 519.5,388.1 521.1,386.8 522.8,385.7 524.7,385.1 525.9,385.5 527.0,385.9 528.8,386.0 530.5,386.6 531.3,387.3 532.9,386.8 534.3,387.3 535.8,386.6 536.6,385.5 539.0,385.3 540.6,384.3 542.0,381.9 543.5,381.0 545.0,379.4 546.2,379.2 548.8,378.9 550.3,380.6 551.8,380.9 553.2,382.8 554.6,385.1 554.5,386.7 553.0,387.9 552.3,389.1 552.4,391.9 551.4,393.3 550.2,394.9 548.7,395.2 548.7,397.3 547.9,398.6 547.8,400.2 546.6,401.6 545.2,403.1 542.9,402.8 541.6,403.6 540.8,405.0 539.8,405.8 537.9,407.5 536.1,407.9 535.2,409.0 534.5,411.1 533.6,412.9 531.5,414.2 530.4,414.6 528.7,414.3 527.3,415.6 525.4,416.6 524.1,416.2 522.8,417.9 522.0,418.7 520.2,419.2 517.8,418.7 516.1,419.7 514.3,419.0 513.0,419.2 511.2,421.0 510.9,422.7 508.8,422.7 507.6,423.7 506.0,424.7 504.4,424.6 503.5,426.6 502.3,427.2 501.0,426.5 498.7,426.3 497.2,428.2 496.4,430.2 496.9,431.7 494.8,431.8 493.0,431.0 491.5,430.8 489.4,429.7 487.8,430.4 486.2,429.9 485.2,431.7 483.5,432.6 481.9,433.0 480.6,432.7 479.0,431.7 477.6,432.5 476.1,432.8 473.7,432.6 471.0,432.8 469.6,432.4 468.3,430.7 468.9,428.5 467.9,427.5 467.6,425.6 466.5,423.8 465.2,423.2 465.1,420.5 465.3,418.3 463.6,416.8 463.1,415.5 462.9,413.9 461.8,412.4 461.3,410.5 461.9,409.2 460.4,407.7 460.8,406.2 460.1,404.2 459.2,402.5 459.4,401.3 460.6,399.1 459.6,398.2 458.8,396.6 458.8,394.1 458.6,392.4 459.2,390.9 460.1,389.7 461.3,387.8 462.5,387.2 464.8,387.1Z" fill="#A80000"/>
<path class="d" d="M865.0,463.0 866.9,463.1 868.1,461.5 869.5,461.2 870.8,460.5 872.4,460.9 873.9,458.7 875.8,457.6 877.4,458.1 878.7,457.6 879.9,455.5 882.0,454.1 884.4,454.0 885.0,452.5 887.4,451.4 889.4,450.7 890.5,449.3 892.4,448.6 893.7,448.7 895.0,446.9 896.9,446.4 898.3,445.4 898.5,444.1 900.0,442.5 900.9,440.9 902.7,440.2 905.4,440.7 907.8,440.9 908.9,442.0 910.1,441.4 912.5,441.6 912.8,440.4 914.3,439.3 916.5,438.5 917.4,440.2 918.8,440.7 920.1,438.5 920.6,436.5 921.5,435.8 923.0,435.2 924.0,434.0 924.9,434.9 925.5,436.7 925.3,438.1 926.4,440.2 927.2,442.7 926.8,444.7 927.0,447.3 927.7,448.7 929.1,449.0 930.0,450.5 930.6,452.1 929.8,454.3 928.6,455.4 927.7,457.4 926.4,458.1 927.9,458.0 929.5,459.0 931.2,459.9 932.2,461.7 934.1,463.3 934.4,465.3 933.8,467.1 932.8,468.2 933.0,470.2 932.8,471.8 934.0,473.5 934.0,475.2 933.0,477.3 935.0,478.1 935.8,479.4 935.7,481.5 936.8,483.1 936.6,484.5 938.1,486.3 940.6,487.2 941.7,489.2 941.9,491.6 943.1,492.6 944.0,494.7 943.5,497.1 943.7,498.8 943.9,500.4 945.0,501.8 947.3,503.2 948.0,505.2 949.3,506.7 946.8,507.7 944.4,507.0 943.1,507.6 941.3,505.5 939.7,504.8 938.1,505.5 935.9,504.9 934.0,505.6 931.5,504.6 930.3,503.4 928.8,503.1 926.8,503.0 925.8,502.0 923.8,502.8 921.6,502.2 919.9,502.9 918.6,504.0 916.8,504.8 914.5,504.0 913.0,504.2 911.7,503.2 910.6,504.3 909.1,504.7 907.3,504.9 905.4,503.3 904.6,501.0 902.8,500.2 900.2,500.0 898.3,498.1 896.6,497.2 894.8,496.8 893.2,494.6 891.4,492.6 889.4,492.4 887.3,491.1 886.4,488.9 885.0,488.2 884.0,485.8 884.1,484.3 882.6,482.4 882.0,481.0 881.7,478.6 880.5,476.8 878.6,476.3 876.8,475.2 875.6,475.1 875.3,473.3 874.0,471.9 871.7,472.3 869.5,473.7 868.5,472.5 868.0,470.9 865.9,470.2 865.4,469.1 865.5,467.2 864.1,465.7 864.1,464.1Z" fill="#A80000"/>
<path class="d" d="M547.1,522.4 548.4,521.5 548.9,519.7 550.2,519.5 551.5,518.0 552.7,516.8 554.2,516.4 556.9,516.2 558.0,516.9 559.0,518.1 560.5,518.0 562.3,518.9 564.9,518.3 566.4,519.3 567.7,519.6 569.4,518.9 570.8,519.2 572.8,518.9 574.5,520.5 576.6,520.6 577.5,519.0 577.3,517.7 579.3,516.2 580.5,515.9 581.7,514.6 582.5,512.9 583.7,511.7 585.4,511.7 587.3,513.5 588.5,512.3 589.9,512.1 591.1,512.7 592.7,512.6 594.0,510.2 593.6,508.1 595.9,507.0 598.0,507.2 599.3,508.8 601.6,509.9 601.7,512.4 603.4,514.4 604.9,514.9 605.8,516.2 607.0,517.7 607.0,518.9 608.1,520.0 609.9,521.0 610.6,523.3 612.2,524.9 613.2,526.9 612.0,527.7 611.3,529.8 611.4,532.3 612.3,534.5 611.9,535.7 612.3,537.6 611.2,538.4 610.6,540.0 608.8,541.2 610.1,542.1 610.6,543.4 611.2,545.2 610.6,546.6 609.3,547.2 607.0,547.5 605.2,547.7 603.4,546.6 600.9,547.0 600.4,548.6 599.0,549.3 598.7,551.1 599.4,552.2 598.1,554.6 597.6,555.9 595.7,556.8 594.5,559.1 592.4,560.2 591.5,561.2 589.1,560.9 588.1,563.2 586.4,563.5 585.5,564.5 584.5,566.4 583.9,567.4 582.0,568.1 580.6,568.9 580.0,570.6 580.2,572.5 581.4,573.4 581.8,575.3 583.8,577.0 582.9,579.0 583.1,580.8 584.1,581.9 585.7,582.8 586.3,584.5 586.8,586.7 585.7,588.0 585.8,590.1 584.3,592.4 585.0,594.0 584.9,595.4 583.4,596.8 583.0,598.0 583.1,599.9 581.6,600.7 580.4,602.6 579.1,601.6 578.7,600.3 576.8,599.0 574.5,597.5 573.2,595.4 571.2,595.1 568.8,593.7 566.8,594.4 565.2,593.7 563.4,594.5 561.6,594.7 559.5,594.2 558.4,595.2 556.2,595.4 555.1,595.5 553.4,594.8 551.8,592.8 550.2,592.3 549.0,592.3 548.3,591.0 547.3,590.1 546.3,588.0 545.0,587.5 543.7,586.5 544.2,584.1 543.1,582.8 542.8,581.1 542.3,579.0 542.6,577.3 543.7,575.8 542.4,575.2 540.1,576.0 538.4,574.9 536.6,574.8 535.4,575.6 533.2,575.0 532.1,574.0 532.6,571.9 533.0,570.2 534.5,568.9 534.6,566.4 533.7,564.5 535.4,563.2 537.2,562.7 540.0,562.7 541.7,563.6 542.1,561.5 541.7,560.1 541.9,558.8 542.6,557.3 543.9,555.7 545.2,555.5 544.9,553.7 546.2,551.9 547.5,549.6 548.0,547.5 546.6,545.2 547.1,543.0 547.4,541.6 548.9,540.3 550.6,539.4 549.6,537.4 548.6,536.6 548.0,534.1 548.9,532.0 549.5,530.2 548.9,528.7 548.2,527.1 548.7,525.7 547.3,524.2Z" fill="#A80000"/>
<path class="d" d="M411.8,557.8 412.0,559.4 412.7,560.5 413.9,561.2 415.4,563.2 417.3,564.6 419.8,564.9 421.9,566.6 422.9,567.6 423.4,569.4 424.6,570.0 426.6,570.4 427.5,572.4 428.8,573.0 430.9,573.9 432.1,573.6 434.1,573.9 436.3,575.0 437.6,576.2 437.7,577.5 439.1,578.5 440.1,579.8 441.3,581.9 442.8,582.2 443.8,583.3 444.9,585.5 446.6,586.5 447.9,587.8 448.4,589.1 447.4,591.6 448.1,593.6 446.5,595.6 446.1,597.4 446.1,599.3 445.4,600.8 446.5,603.4 446.3,606.1 448.2,606.8 449.2,608.0 450.1,609.1 450.7,611.5 451.0,612.7 452.1,614.0 452.4,616.4 451.6,618.7 454.1,619.7 455.7,621.1 456.1,622.2 457.1,623.1 457.9,625.2 457.2,627.3 457.9,629.4 458.8,630.7 459.0,633.3 460.2,633.7 461.5,634.8 462.4,636.5 462.6,638.4 464.2,640.1 465.6,641.5 466.3,643.0 466.8,645.3 465.9,647.3 466.9,649.1 468.3,649.5 469.6,651.1 469.5,652.6 470.6,654.5 472.6,655.9 473.9,656.4 475.8,656.2 476.5,657.9 477.9,659.3 478.5,661.6 479.3,663.6 480.7,665.2 481.1,667.8 478.8,669.3 477.0,668.3 474.8,668.1 472.9,668.0 471.7,668.4 470.5,669.7 468.7,669.8 467.2,671.9 468.2,674.1 468.7,675.8 468.1,677.3 466.8,677.4 465.0,678.7 464.2,681.3 462.7,682.7 461.0,683.7 459.1,683.8 458.7,685.3 457.4,686.2 455.5,687.2 454.7,688.9 454.5,687.3 455.1,685.6 454.4,684.7 454.0,683.0 452.9,681.8 451.2,680.3 451.0,678.6 449.8,677.1 448.4,676.4 446.3,675.0 444.7,675.0 443.4,674.0 443.1,671.9 442.7,670.2 442.2,668.8 440.8,668.1 439.0,667.9 437.7,666.6 436.0,665.2 436.1,663.8 435.5,662.5 433.3,662.3 432.3,661.2 430.4,661.3 429.4,660.8 427.7,662.4 425.2,663.0 425.3,661.1 424.9,659.7 423.3,657.5 421.6,656.7 420.2,655.4 419.5,654.0 417.4,653.7 417.0,651.8 416.2,650.5 414.2,649.6 413.4,648.5 412.6,646.1 410.9,645.1 408.9,644.1 407.4,644.5 405.9,644.1 404.6,643.4 403.7,641.5 402.4,640.6 401.7,638.1 399.3,637.1 397.8,636.6 396.7,635.3 395.3,634.1 394.8,631.7 392.9,631.7 391.6,630.6 391.0,628.7 389.4,627.2 389.4,625.7 387.9,624.1 386.1,623.6 384.9,622.8 386.2,622.0 387.6,620.3 388.5,618.3 389.4,615.7 390.3,614.7 391.9,614.3 393.0,612.9 392.9,611.2 393.6,609.0 392.9,606.9 392.1,605.8 392.7,604.2 392.3,602.6 392.0,600.5 391.2,599.5 388.5,599.0 389.6,597.4 389.4,596.2 389.0,593.9 389.7,592.4 391.2,590.9 391.3,589.2 393.0,587.3 393.0,585.0 394.3,584.0 394.8,581.9 395.7,580.8 395.5,578.5 397.5,576.6 397.7,575.0 396.8,573.6 397.5,571.2 399.4,571.9 400.6,571.6 401.9,573.0 404.2,572.9 405.7,572.4 407.3,571.2 406.2,569.0 404.6,568.7 403.7,567.6 404.5,564.9 403.7,562.3 404.3,561.0 405.7,559.8 407.3,558.7 408.8,557.7 410.4,558.0Z" fill="#A80000"/>
<path class="d" d="M273.9,277.1 275.4,275.5 275.4,273.7 275.0,271.0 276.0,269.6 276.9,271.0 278.1,271.6 279.9,273.1 279.5,274.4 280.3,276.0 282.1,277.3 284.1,276.9 285.6,277.1 285.9,274.3 287.6,273.5 288.2,271.7 289.2,271.2 291.0,270.1 292.7,270.0 294.2,268.5 296.1,267.9 297.6,266.8 298.5,264.2 299.0,262.6 298.5,260.6 298.2,258.7 297.4,257.8 300.1,257.5 301.7,258.3 302.8,257.4 304.9,256.7 307.0,258.4 308.1,260.4 309.1,262.4 309.2,264.2 310.6,264.8 311.6,267.0 312.3,269.1 312.5,271.0 311.3,272.8 313.2,273.7 313.9,275.0 315.8,275.7 316.5,277.1 317.7,277.9 317.2,279.4 317.8,281.3 316.2,283.4 316.1,286.1 317.0,288.1 316.7,289.9 317.5,291.8 319.8,293.0 321.9,292.8 324.2,294.2 324.8,295.9 324.5,297.4 326.0,299.5 327.9,300.8 328.5,302.7 328.6,304.9 329.4,307.0 328.9,308.4 329.8,310.4 328.7,312.2 329.1,314.9 330.5,316.7 328.7,318.3 326.0,318.2 324.1,317.8 323.0,316.6 320.6,316.1 318.8,316.5 318.0,317.6 316.2,317.5 314.8,318.4 314.1,319.3 312.7,319.4 311.2,320.5 309.1,320.5 307.2,319.3 304.8,318.6 303.8,317.2 301.9,317.1 300.6,317.7 299.8,316.2 300.2,313.5 299.2,312.8 297.9,311.1 299.3,309.8 299.5,308.7 299.6,307.0 299.2,305.8 298.2,304.4 296.1,303.8 296.3,301.4 294.6,300.1 294.2,298.5 292.8,298.0 291.2,296.2 290.9,293.5 289.9,292.0 288.7,289.6 287.2,288.4 285.5,286.9 283.9,285.7 282.4,285.6 281.8,284.4 281.7,282.4 280.2,281.3 279.6,279.9 277.9,279.5 276.8,278.1 275.6,277.2Z" fill="#730000"/>
<path class="d" d="M343.9,304.1 345.6,302.6 346.1,301.2 345.0,298.7 345.5,296.3 345.7,293.6 347.1,292.3 348.7,291.3 349.8,289.9 351.0,289.2 352.6,288.9 354.5,289.6 356.8,288.5 357.9,287.5 358.4,285.6 360.3,286.8 362.5,286.9 365.1,285.8 366.3,285.4 367.4,284.3 369.1,284.5 370.6,284.7 372.2,283.8 373.7,284.1 374.7,285.4 376.6,285.1 378.7,283.9 380.2,283.8 382.0,282.4 383.4,282.5 385.1,282.0 386.1,281.4 387.3,280.0 389.0,278.8 388.8,277.3 389.5,276.0 391.2,274.0 390.7,272.1 391.3,270.2 393.1,270.8 395.5,270.5 397.7,269.0 399.3,268.2 401.4,267.9 402.6,269.2 404.1,269.9 405.4,270.9 407.2,270.7 406.9,273.1 407.4,275.4 407.9,277.7 409.9,279.2 411.1,281.6 412.2,282.0 413.5,283.6 414.1,285.6 415.4,286.4 415.3,288.8 415.1,290.6 416.3,292.5 417.4,294.6 419.6,296.3 419.1,298.1 419.7,299.6 421.4,300.0 422.5,301.3 423.5,303.1 423.5,305.5 422.5,307.0 422.6,309.5 420.9,311.1 420.5,313.5 419.4,315.1 418.1,315.8 415.4,315.6 413.7,316.2 412.3,317.3 410.9,317.6 410.3,319.1 410.3,321.0 408.3,322.9 407.1,325.0 408.3,327.1 408.1,328.5 408.1,330.9 409.2,331.9 408.4,333.0 406.7,333.8 405.4,333.4 403.8,333.7 401.9,333.9 400.7,335.1 398.8,334.2 396.6,334.5 394.7,335.6 393.4,337.0 393.1,339.0 391.7,337.5 389.4,336.5 387.5,336.3 385.9,336.9 384.1,337.4 382.7,336.8 380.1,337.0 378.8,338.1 377.6,338.3 375.4,337.9 373.3,336.2 372.5,337.5 371.1,338.1 368.9,338.1 367.5,336.8 365.7,336.4 365.6,334.7 363.6,332.8 361.8,332.6 360.3,331.2 359.1,331.0 357.6,330.2 356.2,329.9 354.8,328.6 354.6,327.4 355.6,325.3 355.9,323.7 355.5,321.1 354.8,319.8 353.3,318.9 352.8,316.7 350.4,316.5 348.4,317.5 347.5,318.5 345.3,317.1 343.9,314.9 344.2,312.4 343.0,310.4 344.3,308.1 344.7,306.2Z" fill="#730000"/>
<path class="d" d="M363.6,332.8 365.6,334.7 365.7,336.4 367.5,336.8 368.9,338.1 371.1,338.1 372.5,337.5 373.3,336.2 375.4,337.9 377.6,338.3 378.8,338.1 380.1,337.0 382.7,336.8 384.1,337.4 385.9,336.9 387.5,336.3 389.4,336.5 391.7,337.5 393.1,339.0 394.6,339.6 396.2,339.3 398.4,340.8 398.5,342.4 398.0,344.4 398.2,345.7 399.3,347.1 398.9,349.2 398.9,350.7 397.6,351.9 395.7,352.3 394.8,353.3 394.1,354.9 394.5,356.0 394.4,357.7 393.1,359.1 393.1,360.5 394.3,362.8 396.0,364.1 397.5,364.1 399.3,365.9 397.6,367.8 395.8,368.9 394.3,370.1 393.2,371.4 392.7,372.7 393.0,374.6 391.9,376.2 390.2,377.7 388.5,379.5 389.2,380.9 388.3,383.4 387.3,384.7 387.0,387.2 386.2,388.7 384.4,389.7 382.0,390.3 381.8,392.0 380.1,394.1 379.6,396.6 378.9,397.9 377.3,398.5 375.3,399.1 373.8,398.9 372.2,397.8 369.8,397.1 368.0,397.1 366.7,397.8 364.5,397.1 362.4,396.9 361.0,397.3 358.9,398.6 358.4,400.6 357.3,401.6 356.1,400.1 353.7,398.9 351.5,397.9 350.2,396.2 350.2,394.5 350.6,393.1 350.0,391.1 350.5,388.9 351.9,387.3 352.1,385.5 353.4,384.2 355.2,384.1 357.3,382.8 356.0,380.9 355.9,379.5 355.0,378.1 352.8,377.5 352.2,375.2 350.3,374.6 349.3,373.0 349.6,371.5 349.0,369.8 350.3,367.9 350.2,365.8 350.4,364.2 349.7,363.0 348.1,362.3 346.6,360.5 346.9,358.7 345.8,356.8 343.8,356.2 342.8,355.4 341.7,353.9 341.9,352.0 343.7,350.3 345.4,349.1 346.6,348.9 348.4,348.4 349.6,349.1 351.1,348.5 351.9,347.1 353.1,346.0 353.7,344.6 355.6,342.7 358.2,342.6 357.6,341.4 357.9,339.5 359.1,337.2 359.4,335.7 361.1,334.6 362.2,333.1Z" fill="#730000"/>
<path class="d" d="M423.5,303.1 426.2,303.1 427.5,304.4 428.7,303.3 431.1,302.9 432.8,302.9 434.1,303.4 435.2,302.5 437.4,301.8 438.8,302.0 440.0,303.0 441.3,304.9 441.9,307.2 444.2,307.5 445.6,308.7 446.7,308.6 448.4,309.5 450.8,308.9 452.6,307.7 452.1,309.8 452.9,310.9 452.7,312.9 451.3,314.0 450.8,315.8 451.6,316.8 453.2,317.7 454.3,319.4 454.4,321.1 454.0,323.0 455.0,325.2 454.6,327.8 453.5,330.1 455.1,331.8 456.7,333.0 458.9,333.7 457.8,335.8 456.2,337.2 453.9,338.6 453.3,340.1 452.1,341.2 449.4,340.9 447.2,341.7 447.1,343.5 445.8,345.5 446.3,348.0 447.7,349.1 449.1,351.2 450.0,353.4 449.9,355.1 450.5,357.0 451.7,357.6 452.1,359.0 451.6,360.5 451.2,361.8 451.5,363.9 450.1,363.7 448.5,364.0 447.6,365.1 445.6,366.4 443.8,366.0 442.8,364.8 440.5,365.1 439.1,364.7 437.6,362.7 436.1,363.2 434.7,363.0 433.0,362.6 432.6,360.8 431.8,359.7 430.6,358.9 429.8,357.5 427.9,356.9 425.4,357.2 423.3,358.4 421.7,358.4 420.4,357.6 417.8,357.0 416.6,355.4 414.1,355.0 412.9,356.3 411.5,356.7 410.3,357.6 409.1,358.7 408.4,361.2 408.9,363.7 408.5,365.9 408.5,364.4 407.7,363.2 405.6,362.4 404.6,361.3 402.8,362.8 402.6,364.3 401.1,365.8 399.3,365.9 397.5,364.1 396.0,364.1 394.3,362.8 393.1,360.5 393.1,359.1 394.4,357.7 394.5,356.0 394.1,354.9 394.8,353.3 395.7,352.3 397.6,351.9 398.9,350.7 398.9,349.2 399.3,347.1 398.2,345.7 398.0,344.4 398.5,342.4 398.4,340.8 396.2,339.3 394.6,339.6 393.1,339.0 393.4,337.0 394.7,335.6 396.6,334.5 398.8,334.2 400.7,335.1 401.9,333.9 403.8,333.7 405.4,333.4 406.7,333.8 408.4,333.0 409.2,331.9 408.1,330.9 408.1,328.5 408.3,327.1 407.1,325.0 408.3,322.9 410.3,321.0 410.3,319.1 410.9,317.6 412.3,317.3 413.7,316.2 415.4,315.6 418.1,315.8 419.4,315.1 420.5,313.5 420.9,311.1 422.6,309.5 422.5,307.0 423.5,305.5Z" fill="#730000"/>
<path class="d" d="M452.6,307.7 452.5,305.9 453.6,304.1 454.9,303.8 456.4,302.3 457.1,299.7 458.7,298.3 460.6,297.6 463.3,297.0 464.0,295.4 464.7,294.6 466.0,293.4 468.2,292.8 470.6,293.3 473.2,294.3 474.7,292.8 475.2,291.5 475.8,288.9 477.6,287.8 479.3,288.2 480.3,286.5 482.0,285.9 483.0,284.5 484.2,282.5 484.4,280.5 483.8,279.2 484.9,281.0 487.1,281.9 489.7,281.4 491.7,282.7 493.4,282.4 495.1,282.7 496.9,282.2 498.4,282.8 499.5,283.9 500.4,285.5 502.0,286.7 503.6,286.9 504.8,287.8 506.1,289.3 507.4,289.9 509.0,292.0 509.8,293.5 509.8,295.2 511.5,297.0 512.0,298.7 511.5,300.8 512.7,302.9 514.3,305.0 513.0,306.9 512.4,309.1 513.4,310.8 513.4,312.2 515.2,314.1 515.9,315.8 515.4,317.2 516.1,319.3 514.8,321.0 514.0,323.1 513.9,325.1 513.4,326.5 512.1,328.8 512.0,330.7 511.6,331.9 511.3,333.9 512.5,336.3 511.3,336.8 509.3,336.2 506.7,336.7 506.1,337.7 504.5,339.0 503.7,341.1 501.7,342.1 500.9,344.4 499.3,346.6 498.0,347.8 495.5,348.9 495.2,350.9 494.0,351.9 492.9,353.5 491.9,354.2 491.0,355.7 489.2,356.4 487.3,356.1 484.8,356.9 483.0,356.1 480.8,356.4 479.3,354.5 477.6,354.2 475.4,354.0 474.4,355.3 473.2,355.8 470.5,355.1 469.4,356.1 467.1,356.7 466.6,358.0 465.1,358.7 464.4,361.1 463.4,362.3 463.2,364.1 462.6,365.2 463.4,367.3 461.4,368.1 458.9,367.4 457.5,368.1 456.9,369.5 455.0,368.0 454.2,365.7 452.3,364.8 451.5,363.9 451.2,361.8 451.6,360.5 452.1,359.0 451.7,357.6 450.5,357.0 449.9,355.1 450.0,353.4 449.1,351.2 447.7,349.1 446.3,348.0 445.8,345.5 447.1,343.5 447.2,341.7 449.4,340.9 452.1,341.2 453.3,340.1 453.9,338.6 456.2,337.2 457.8,335.8 458.9,333.7 456.7,333.0 455.1,331.8 453.5,330.1 454.6,327.8 455.0,325.2 454.0,323.0 454.4,321.1 454.3,319.4 453.2,317.7 451.6,316.8 450.8,315.8 451.3,314.0 452.7,312.9 452.9,310.9 452.1,309.8Z" fill="#730000"/>
<path class="d" d="M393.9,385.9 394.8,383.9 396.6,382.5 398.4,381.7 399.6,382.1 401.5,384.0 404.0,384.5 405.0,383.6 407.2,383.4 407.3,381.1 407.8,379.6 409.8,378.2 411.3,377.8 413.5,378.3 415.9,378.7 417.9,377.9 418.6,376.7 420.4,375.2 421.9,374.1 422.4,372.9 424.2,372.7 426.2,371.5 428.2,371.7 430.5,372.0 431.2,373.6 433.0,375.2 435.3,376.5 438.0,377.1 438.6,379.1 439.8,380.1 440.5,381.5 442.1,382.0 443.6,381.4 445.1,383.0 446.9,382.8 448.1,383.4 448.9,384.5 450.9,385.3 451.9,387.8 453.0,389.9 454.4,390.3 453.6,392.3 453.8,394.1 452.0,395.4 450.8,396.2 448.7,396.0 448.1,397.5 446.2,398.5 448.0,399.4 449.3,401.6 448.4,403.9 448.7,406.7 446.4,407.2 445.1,408.1 444.3,409.2 442.6,409.0 440.5,407.9 438.2,407.7 436.1,408.6 434.5,407.6 433.2,407.5 430.5,407.3 428.4,408.4 427.3,410.5 424.7,410.8 424.3,412.0 422.9,413.0 421.2,413.2 419.9,414.4 418.5,416.1 416.6,416.5 415.6,415.7 413.5,415.5 413.5,417.4 412.8,418.6 410.3,418.5 409.3,418.7 407.8,419.9 406.2,418.8 405.0,419.2 403.4,418.6 404.6,416.3 404.0,414.2 402.6,413.1 402.0,411.5 400.2,410.5 399.4,408.3 399.2,406.6 399.6,405.4 399.2,404.4 397.7,403.3 397.2,402.2 397.1,400.4 395.7,398.0 393.9,397.2 394.8,395.8 395.8,394.9 395.8,392.8 395.2,391.5 395.6,389.5 394.6,388.2Z" fill="#730000"/>
<path class="d" d="M408.5,365.9 408.9,363.7 408.4,361.2 409.1,358.7 410.3,357.6 411.5,356.7 412.9,356.3 414.1,355.0 416.6,355.4 417.8,357.0 420.4,357.6 421.7,358.4 423.3,358.4 425.4,357.2 427.9,356.9 429.8,357.5 430.6,358.9 431.8,359.7 432.6,360.8 433.0,362.6 434.7,363.0 436.1,363.2 437.6,362.7 439.1,364.7 440.5,365.1 442.8,364.8 443.8,366.0 445.6,366.4 447.6,365.1 448.5,364.0 450.1,363.7 451.5,363.9 452.3,364.8 454.2,365.7 455.0,368.0 456.9,369.5 457.5,368.1 458.9,367.4 461.4,368.1 463.4,367.3 463.0,368.6 463.7,370.9 465.7,372.7 466.5,373.6 466.7,375.4 468.2,377.1 469.7,377.9 470.8,380.2 469.3,381.2 467.9,381.1 467.0,382.7 466.2,384.6 466.2,386.5 464.8,387.1 462.5,387.2 461.3,387.8 460.1,389.7 459.2,390.9 458.6,392.4 458.8,394.1 458.8,396.6 459.6,398.2 460.6,399.1 459.4,401.3 459.2,402.5 460.1,404.2 460.8,406.2 460.4,407.7 461.9,409.2 461.3,410.5 461.8,412.4 462.9,413.9 463.1,415.5 463.6,416.8 465.3,418.3 465.1,420.5 465.2,423.2 466.5,423.8 467.6,425.6 467.9,427.5 468.9,428.5 468.3,430.7 465.9,431.3 464.5,433.1 462.9,434.2 461.9,435.6 459.6,435.5 457.9,434.6 456.9,434.4 456.0,432.1 454.2,431.6 453.1,430.6 451.4,429.0 450.0,428.7 448.6,430.2 447.8,431.5 448.1,433.1 447.6,435.5 445.9,436.8 445.6,438.1 443.8,437.6 442.7,438.2 440.5,439.4 438.6,438.2 438.0,436.9 436.4,436.0 434.9,435.9 433.5,435.3 432.9,433.8 431.5,432.0 431.1,430.6 431.3,428.7 433.0,426.8 432.5,424.4 431.1,423.0 432.9,421.2 432.8,419.5 433.6,418.0 433.9,416.3 435.2,415.1 435.5,413.0 436.6,410.4 436.1,408.6 438.2,407.7 440.5,407.9 442.6,409.0 444.3,409.2 445.1,408.1 446.4,407.2 448.7,406.7 448.4,403.9 449.3,401.6 448.0,399.4 446.2,398.5 448.1,397.5 448.7,396.0 450.8,396.2 452.0,395.4 453.8,394.1 453.6,392.3 454.4,390.3 453.0,389.9 451.9,387.8 450.9,385.3 448.9,384.5 448.1,383.4 446.9,382.8 445.1,383.0 443.6,381.4 442.1,382.0 440.5,381.5 439.8,380.1 438.6,379.1 438.0,377.1 435.3,376.5 433.0,375.2 431.2,373.6 430.5,372.0 428.2,371.7 426.2,371.5 424.2,372.7 422.4,372.9 421.9,374.1 420.4,375.2 418.6,376.7 417.9,377.9 415.9,378.7 413.5,378.3 413.6,376.0 414.1,374.6 412.4,374.3 410.9,373.6 410.3,372.3 409.0,371.8 407.2,372.0 408.3,371.4 409.4,370.2 410.3,368.9 410.0,367.1Z" fill="#730000"/>
<path class="d" d="M357.3,401.6 358.4,400.6 358.9,398.6 361.0,397.3 362.4,396.9 364.5,397.1 366.7,397.8 368.0,397.1 369.8,397.1 372.2,397.8 373.8,398.9 375.3,399.1 377.3,398.5 377.8,401.2 379.4,402.9 380.5,403.7 381.0,405.5 382.3,406.7 383.4,407.3 385.1,407.3 387.3,408.7 388.9,410.5 389.1,413.0 390.5,414.4 390.8,415.5 390.2,417.3 390.6,418.5 392.5,420.2 392.7,422.2 391.1,423.0 390.3,423.9 389.3,425.9 388.4,427.2 388.2,429.3 388.3,430.7 387.5,432.4 387.7,434.7 385.8,434.8 384.3,435.3 382.8,437.4 381.4,438.6 380.9,439.5 380.3,441.2 379.2,441.8 377.5,441.9 375.8,442.5 374.3,444.9 373.0,447.2 370.8,448.1 369.8,449.4 369.4,451.7 368.5,453.6 366.6,454.3 365.8,455.3 363.9,454.4 362.3,452.6 361.1,451.0 359.5,450.8 358.7,449.0 357.4,447.2 355.1,446.3 353.7,447.8 352.4,448.9 350.6,449.0 348.7,449.4 347.7,448.8 346.7,450.7 344.4,451.7 343.4,452.9 343.4,454.6 342.3,455.9 340.8,456.2 338.3,456.8 337.8,458.6 336.4,459.8 334.3,459.6 332.6,460.3 332.0,458.9 331.9,457.6 330.1,456.2 331.3,454.9 331.5,453.6 331.9,451.3 331.0,449.0 332.8,448.0 333.2,446.8 333.0,444.4 333.7,441.9 333.9,440.2 333.3,438.2 333.5,436.8 334.5,434.7 333.4,432.8 332.9,430.5 333.5,429.1 333.7,427.6 334.1,425.9 333.6,423.8 331.9,422.2 330.8,420.2 331.0,418.6 332.3,418.0 333.9,418.1 335.6,417.8 337.2,415.9 339.7,415.2 341.2,415.7 343.5,416.8 343.8,415.4 344.9,413.3 346.3,412.8 347.1,411.5 348.8,411.1 350.3,409.2 351.5,407.0 351.7,405.5 353.1,403.7 355.4,403.4Z" fill="#730000"/>
<path class="d" d="M545.2,403.1 546.4,404.5 548.0,405.2 550.6,404.9 552.0,407.0 553.3,408.0 555.9,408.5 557.8,409.9 559.5,409.9 560.9,411.1 561.3,412.9 562.2,413.8 562.6,415.7 563.9,417.0 565.8,417.4 566.4,419.5 567.9,420.8 566.5,422.9 566.6,425.5 565.4,425.9 564.1,426.9 563.1,429.0 563.8,430.5 563.1,432.6 562.2,434.0 562.7,436.7 564.0,438.9 562.5,439.1 560.9,440.1 559.5,441.6 558.0,443.4 556.8,444.0 555.1,444.3 554.2,445.1 552.2,446.7 551.5,448.7 552.9,449.6 554.2,451.4 552.2,453.0 550.2,453.6 548.8,453.2 547.2,453.4 545.5,454.2 543.4,455.9 541.6,456.4 540.4,457.8 538.7,457.6 536.3,458.6 534.5,459.6 533.9,460.9 532.3,460.8 530.9,461.2 529.6,462.1 528.4,464.3 526.9,464.0 525.6,464.8 525.0,467.5 523.7,468.3 522.5,469.9 521.1,470.2 519.5,472.2 519.3,473.7 517.6,473.2 516.7,471.8 514.8,471.1 513.0,471.0 511.0,469.4 509.3,469.4 507.6,467.5 505.1,466.8 503.2,464.8 501.2,463.7 499.9,462.0 498.9,460.5 498.7,459.4 498.0,457.4 496.9,456.5 495.1,455.8 494.4,454.3 494.1,452.7 492.8,452.2 491.5,450.5 490.4,448.4 489.2,447.6 487.1,446.9 486.4,445.1 485.6,443.0 486.2,441.5 485.2,439.8 483.8,439.3 483.5,437.1 482.6,434.8 483.5,432.6 485.2,431.7 486.2,429.9 487.8,430.4 489.4,429.7 491.5,430.8 493.0,431.0 494.8,431.8 496.9,431.7 496.4,430.2 497.2,428.2 498.7,426.3 501.0,426.5 502.3,427.2 503.5,426.6 504.4,424.6 506.0,424.7 507.6,423.7 508.8,422.7 510.9,422.7 511.2,421.0 513.0,419.2 514.3,419.0 516.1,419.7 517.8,418.7 520.2,419.2 522.0,418.7 522.8,417.9 524.1,416.2 525.4,416.6 527.3,415.6 528.7,414.3 530.4,414.6 531.5,414.2 533.6,412.9 534.5,411.1 535.2,409.0 536.1,407.9 537.9,407.5 539.8,405.8 540.8,405.0 541.6,403.6 542.9,402.8Z" fill="#730000"/>
<path class="d" d="M930.6,452.1 930.0,450.5 929.1,449.0 927.7,448.7 927.0,447.3 926.8,444.7 927.2,442.7 926.4,440.2 925.3,438.1 925.5,436.7 924.9,434.9 924.0,434.0 923.7,432.2 924.1,430.0 926.2,429.1 928.6,429.5 930.1,429.1 932.2,430.0 934.0,429.1 935.8,429.1 937.3,427.9 938.5,427.7 940.0,427.6 942.0,426.4 943.5,426.4 944.7,425.5 945.6,424.6 947.6,423.7 949.0,422.6 949.6,420.8 950.4,419.4 949.6,417.0 950.4,419.4 949.6,420.8 949.0,422.6 947.6,423.7 948.3,425.0 950.1,426.4 951.9,424.6 953.7,425.9 954.3,428.1 954.1,429.5 955.2,430.8 955.4,432.2 955.4,434.0 956.3,435.8 957.0,437.9 957.0,440.0 956.3,441.6 956.3,442.9 956.2,445.0 955.4,446.1 953.1,445.8 951.9,446.5 950.1,446.1 948.3,446.9 949.7,448.7 949.6,450.1 948.8,451.1 947.4,451.9 945.7,452.4 944.7,453.7 943.9,455.2 942.0,455.9 940.6,455.9 938.5,455.0 936.4,455.0 934.0,454.1 932.5,452.7Z" fill="#730000"/>
<path class="d" d="M271.4,448.3 273.4,449.4 275.9,449.2 276.8,451.7 278.6,453.7 280.4,454.9 283.1,455.4 284.3,457.7 283.6,460.2 284.5,461.7 283.3,463.0 282.2,463.4 281.3,465.3 279.4,466.4 278.6,468.9 278.3,470.9 278.8,473.1 279.5,474.2 278.2,474.9 276.5,474.7 275.3,474.3 274.1,473.3 271.7,473.6 269.7,475.1 267.2,474.9 265.2,473.3 263.9,471.1 264.3,468.9 262.5,469.7 261.6,470.6 262.9,468.3 262.1,467.2 262.5,465.3 262.3,462.9 261.6,460.9 259.8,459.9 260.1,457.8 261.9,456.2 264.3,455.4 266.0,453.9 267.7,453.3 268.8,453.7 268.5,452.2 269.5,449.9Z" fill="#730000"/>
<path class="d" d="M276.8,390.0 278.2,389.4 279.5,387.3 281.4,386.9 282.4,386.2 283.6,384.9 284.1,384.0 285.8,382.8 285.9,381.4 286.8,380.2 288.5,379.2 288.5,376.6 289.4,375.5 289.4,373.2 290.7,371.4 292.0,371.2 294.6,370.4 296.3,368.5 298.3,367.6 300.1,367.4 300.9,366.2 303.7,365.8 305.3,364.9 306.9,364.9 308.0,365.8 309.9,364.1 311.4,362.7 314.0,362.2 314.4,360.3 315.3,359.6 318.1,359.3 319.9,360.6 321.5,360.5 322.6,360.0 324.6,360.2 327.1,359.3 328.7,357.8 331.1,356.5 331.9,354.9 333.2,354.2 334.4,355.0 336.3,354.9 337.6,356.9 339.0,356.0 340.3,355.9 341.7,353.9 342.8,355.4 343.8,356.2 345.8,356.8 346.9,358.7 346.6,360.5 348.1,362.3 349.7,363.0 350.4,364.2 350.2,365.8 350.3,367.9 349.0,369.8 349.6,371.5 349.3,373.0 350.3,374.6 352.2,375.2 352.8,377.5 355.0,378.1 355.9,379.5 356.0,380.9 357.3,382.8 355.2,384.1 353.4,384.2 352.1,385.5 351.9,387.3 350.5,388.9 350.0,391.1 350.6,393.1 350.2,394.5 350.2,396.2 351.5,397.9 353.7,398.9 356.1,400.1 357.3,401.6 355.4,403.4 353.1,403.7 351.7,405.5 351.5,407.0 350.3,409.2 348.8,411.1 347.1,411.5 346.3,412.8 344.9,413.3 343.8,415.4 343.5,416.8 341.2,415.7 339.7,415.2 337.2,415.9 335.6,417.8 333.9,418.1 332.3,418.0 331.0,418.6 329.3,417.9 326.9,419.0 325.3,417.3 322.9,416.8 321.4,418.4 319.4,418.6 318.5,419.5 317.4,418.7 315.5,418.3 314.1,419.0 312.2,418.6 313.5,416.5 314.6,415.5 314.4,413.2 314.3,411.2 313.1,409.3 311.6,408.7 310.9,407.4 309.0,407.0 306.6,405.9 305.1,406.1 303.1,405.6 301.0,407.2 299.2,407.0 298.1,406.2 296.5,406.1 294.7,404.3 294.1,403.0 293.8,400.7 292.4,400.0 291.1,399.9 289.5,400.2 287.0,400.4 285.8,401.6 284.1,402.6 282.1,402.3 279.7,400.9 278.2,399.5 276.8,398.9 277.5,396.8 278.3,395.5 280.4,394.5 279.3,392.3 278.6,391.2Z" fill="#730000"/>
<path class="d" d="M966.3,160.7 968.6,159.5 969.5,158.1 972.2,157.8 973.2,156.2 973.2,155.1 973.1,152.9 970.8,152.2 970.3,150.2 969.2,148.9 967.7,147.6 966.7,146.8 966.3,145.0 965.9,143.3 966.3,141.1 968.4,142.3 970.1,141.5 972.2,142.1 973.2,142.9 974.8,143.5 976.2,144.2 977.8,144.4 980.0,144.0 980.7,145.8 982.5,147.1 984.7,147.2 985.9,148.0 987.0,150.3 988.6,150.5 990.8,151.9 992.3,154.2 994.8,154.8 995.7,155.8 997.7,156.8 995.5,157.5 994.6,158.6 992.8,160.7 992.5,162.0 991.0,163.0 989.3,163.3 987.9,165.6 986.9,167.4 986.0,168.1 985.2,169.9 985.9,172.5 986.8,174.6 986.5,176.7 986.2,178.0 985.5,179.5 984.0,180.4 982.9,181.6 982.8,183.0 982.7,184.6 982.1,185.7 983.0,187.3 984.5,187.6 986.2,189.7 986.9,192.2 988.1,192.2 989.7,193.3 990.6,194.8 992.8,196.1 994.7,195.8 996.5,197.1 997.7,199.0 999.9,198.4 1002.2,198.7 1003.6,200.0 1004.9,200.4 1006.5,201.6 1007.6,200.8 1009.5,201.0 1010.9,202.6 1012.1,203.8 1013.4,204.0 1015.5,204.4 1016.6,205.9 1017.4,207.9 1019.9,208.6 1020.7,209.6 1022.3,210.8 1023.5,212.3 1025.2,213.0 1026.1,213.9 1026.2,215.7 1026.4,217.0 1025.2,218.7 1023.4,219.1 1021.3,220.7 1019.5,222.4 1018.0,223.0 1017.4,225.6 1015.6,226.1 1014.5,227.8 1012.8,228.2 1011.5,227.5 1009.3,227.8 1008.2,228.6 1006.5,230.5 1004.6,231.1 1003.1,230.4 1001.7,231.7 999.7,232.5 998.0,233.9 996.3,233.9 994.8,234.4 993.7,235.4 993.3,237.4 993.8,239.3 992.6,240.3 991.2,240.9 988.5,241.4 986.6,240.3 985.7,239.3 984.9,237.4 982.8,236.8 982.0,235.7 980.0,235.4 978.8,234.2 978.4,232.2 977.2,231.7 976.1,230.5 974.9,229.7 972.8,229.3 971.2,227.5 970.9,226.1 969.8,224.7 968.2,223.6 967.8,225.8 968.4,227.0 967.4,228.3 967.3,230.5 966.1,231.5 964.3,231.5 963.3,229.4 963.8,228.0 963.3,225.6 963.3,224.2 961.6,222.6 961.6,220.6 962.3,219.7 961.6,218.7 961.7,216.9 961.8,214.8 962.3,213.8 963.1,212.4 963.3,209.8 964.4,207.2 964.0,205.1 964.3,203.0 963.6,201.5 962.6,200.8 962.2,198.5 961.4,197.1 961.3,194.7 961.9,193.0 961.7,191.5 960.4,190.2 959.3,187.8 959.9,185.2 959.4,183.3 958.8,181.3 959.2,179.5 959.7,177.8 961.4,176.4 962.2,174.3 962.2,172.4 962.2,170.7 962.6,169.5 964.3,168.6 965.9,167.5 966.5,166.1 966.4,164.2 967.4,163.0Z" fill="#FFDDD0"/>
<path class="d" d="M701.8,149.7 703.1,150.8 704.4,151.0 706.7,150.7 708.4,151.5 709.5,153.9 709.6,156.6 711.9,156.8 713.0,157.2 714.6,158.6 716.2,156.5 717.2,154.7 717.5,152.7 718.3,150.9 718.6,148.5 720.5,147.7 721.4,146.8 722.9,146.2 723.7,145.1 725.9,143.9 727.3,143.9 728.5,143.4 730.5,144.3 732.2,143.7 734.2,143.0 735.2,141.9 737.1,141.5 738.6,139.6 740.3,139.0 742.1,138.9 743.4,139.6 745.0,139.9 747.0,141.9 749.5,142.3 750.9,143.9 752.2,144.1 753.6,145.2 755.0,145.7 756.0,146.7 756.8,148.8 758.5,148.5 759.6,149.2 761.7,150.7 763.6,152.2 764.0,153.9 763.4,156.2 763.7,157.6 764.8,159.9 764.2,161.6 764.4,163.5 765.6,164.5 765.0,165.8 765.4,167.7 764.7,169.4 766.8,170.3 767.6,171.4 766.6,173.0 764.2,173.6 763.7,176.3 761.3,175.8 759.9,176.7 758.3,177.8 756.8,178.2 755.8,179.4 753.5,179.8 752.1,181.6 750.9,182.2 748.8,181.5 747.4,181.5 746.4,182.5 745.0,183.1 742.6,181.7 741.0,182.5 739.1,182.2 738.1,182.8 736.7,184.4 734.6,185.1 733.2,186.1 730.8,187.0 728.7,187.6 727.3,187.1 724.9,186.7 724.0,185.7 722.4,184.1 722.6,182.8 721.8,181.2 721.4,180.0 719.5,179.2 717.9,177.7 717.7,176.1 716.5,174.3 715.3,172.7 714.3,171.6 712.6,171.4 710.3,170.5 708.3,170.6 706.7,168.4 705.8,166.9 705.7,165.6 705.7,163.5 704.3,161.4 701.8,160.6 702.9,159.9 703.6,158.3 703.8,155.6 702.8,154.4 700.8,153.7 701.9,152.5Z" fill="#FF9F90"/>
<path class="d" d="M776.8,268.6 777.9,267.0 777.8,265.0 779.1,264.1 780.4,262.3 780.3,260.8 781.0,259.1 781.9,257.9 782.3,256.4 782.8,254.3 784.1,253.2 784.3,250.6 786.0,250.0 787.0,248.0 788.1,246.3 788.2,244.7 789.4,244.0 790.4,242.5 790.4,240.2 791.2,238.8 791.4,236.3 792.8,234.9 793.1,232.9 792.8,231.1 792.1,230.0 792.5,228.2 792.2,227.0 793.6,224.7 793.3,222.9 793.1,220.5 795.1,221.8 796.3,222.1 798.1,221.5 799.9,221.9 801.2,221.1 802.6,220.7 804.0,219.5 805.9,218.3 807.4,218.5 809.8,217.5 811.4,217.6 812.6,218.3 814.4,217.7 815.3,219.1 817.7,220.5 819.0,220.3 821.0,221.2 822.8,219.6 824.0,219.4 825.6,218.5 827.4,218.4 829.6,219.1 831.5,220.5 833.0,221.1 834.6,221.1 835.9,222.3 837.8,222.3 839.3,221.5 840.1,219.8 841.3,219.1 843.2,218.5 845.1,217.5 845.8,215.9 847.2,214.6 849.7,215.7 851.0,216.0 853.1,215.6 854.4,216.0 855.9,215.9 858.0,217.5 859.1,219.5 858.6,221.2 858.4,222.4 857.0,224.0 857.8,225.2 858.0,226.7 857.3,228.0 858.0,229.9 858.1,231.5 857.8,233.1 856.6,233.8 856.0,235.8 856.7,237.5 856.8,238.9 857.3,240.1 859.0,240.7 860.7,242.0 861.2,243.3 863.1,242.9 864.9,243.7 866.2,244.7 867.9,244.9 869.2,246.6 870.8,247.6 871.9,248.4 874.1,248.6 876.7,248.6 878.2,250.3 879.8,250.6 881.6,252.5 883.5,254.1 884.1,255.6 886.5,256.4 889.2,255.6 890.4,254.5 891.7,255.2 892.4,256.6 893.6,256.6 895.3,257.4 894.4,258.3 894.1,260.2 894.7,261.9 894.3,263.3 893.8,265.9 892.2,267.6 890.4,268.2 890.6,270.0 891.4,271.2 892.8,272.2 891.1,271.8 889.8,270.5 887.9,270.7 886.5,270.2 885.1,269.6 883.7,268.1 881.8,267.6 880.6,268.2 877.9,268.1 877.1,269.8 874.7,271.2 873.0,269.4 870.9,269.4 868.8,268.2 867.3,266.8 865.4,266.3 862.9,266.3 862.1,267.8 861.0,268.4 860.5,270.5 860.9,272.2 861.6,273.4 861.4,275.7 860.9,278.4 859.9,280.0 860.5,281.5 860.5,284.0 860.2,285.9 859.0,287.9 857.3,286.1 855.5,286.0 853.1,285.9 852.1,287.4 850.0,288.0 850.1,290.2 849.1,291.8 847.9,294.1 845.9,294.9 845.0,295.9 845.2,297.7 844.1,300.0 844.2,302.6 842.7,301.9 841.7,300.9 839.9,300.1 837.4,300.7 835.1,301.3 833.5,301.1 831.5,302.6 829.8,303.3 828.3,303.4 827.3,304.6 825.6,305.6 823.0,305.5 822.2,304.5 820.7,303.6 819.2,302.8 818.7,301.7 817.0,300.8 815.7,300.7 814.5,300.0 812.4,299.7 810.4,300.7 808.9,300.7 807.6,298.6 807.4,297.3 805.9,295.7 805.5,293.9 804.8,292.3 804.0,291.5 802.0,289.8 800.7,288.6 798.6,288.2 798.2,287.2 797.1,285.9 795.9,284.1 794.8,283.2 793.3,282.8 792.4,281.5 792.2,280.0 791.2,278.4 790.0,277.5 788.5,277.3 787.3,276.1 786.4,275.4 785.9,273.5 784.9,272.0 783.3,271.2 781.0,271.5 779.8,271.1 778.2,269.4Z" fill="#FF9F90"/>
<path class="d" d="M892.4,115.4 893.4,116.8 895.7,117.3 897.0,116.3 899.5,116.5 901.4,116.0 903.0,115.0 905.1,115.0 906.3,114.6 906.3,115.8 907.1,117.6 908.6,119.1 911.0,119.7 912.2,120.5 914.8,120.4 916.0,122.0 917.2,122.4 916.7,125.0 918.1,127.3 920.5,126.4 922.0,124.8 922.1,123.4 923.7,123.5 925.5,123.0 927.1,122.7 928.9,121.4 930.7,121.6 931.5,122.6 932.9,123.1 934.8,122.4 936.1,123.2 937.6,123.2 938.0,124.7 939.7,126.3 939.7,128.2 940.7,130.3 939.8,131.6 939.8,133.2 938.9,133.8 937.8,135.2 935.5,135.3 934.3,136.6 934.1,138.1 932.9,139.1 930.9,140.2 929.9,141.4 929.9,143.0 931.7,143.1 933.4,144.5 933.7,145.6 934.8,147.0 936.3,147.2 937.5,148.5 938.2,149.6 939.7,150.9 940.7,151.9 942.9,152.7 943.7,154.8 945.3,156.4 945.5,157.9 946.6,159.7 948.6,161.5 949.7,163.2 949.6,164.7 948.5,165.4 946.6,165.6 944.5,165.4 943.1,166.2 940.7,167.6 940.0,168.6 938.0,169.3 936.8,171.5 935.3,172.6 935.6,174.3 934.8,175.5 933.3,174.9 931.4,175.1 930.6,176.1 928.9,176.4 926.7,175.7 924.7,174.0 924.0,172.5 922.0,171.8 921.1,170.3 919.1,169.6 918.3,168.0 917.2,167.1 915.2,166.6 913.6,166.4 912.4,166.7 910.3,166.6 909.3,165.6 908.1,166.7 906.3,167.2 904.4,167.6 902.7,168.6 900.7,168.1 899.5,168.6 897.4,169.4 895.6,170.1 893.6,169.6 892.6,170.6 890.6,170.9 888.7,170.6 887.2,172.4 885.5,173.3 885.2,170.6 884.0,169.3 882.6,168.4 883.8,166.9 884.2,165.0 883.5,162.5 882.7,161.2 883.0,159.0 882.3,158.3 881.6,156.6 880.6,155.1 878.9,154.5 877.3,154.9 875.7,154.6 875.6,152.1 874.0,150.4 871.8,148.8 870.9,147.4 869.6,146.6 868.7,145.2 868.8,142.9 868.8,140.8 869.9,139.5 869.8,137.0 871.4,136.8 872.7,136.0 874.4,135.5 876.0,134.4 878.6,135.0 880.0,136.3 882.1,136.2 883.5,137.9 885.2,137.4 886.5,135.0 888.5,133.9 890.8,134.5 892.4,134.0 894.0,132.0 893.8,130.6 894.3,129.1 893.8,127.4 892.7,126.2 893.5,124.6 893.4,123.2 892.8,121.4 893.2,120.4 893.8,118.2 893.4,116.7Z" fill="#FF9F90"/>
<path class="d" d="M949.6,164.7 950.8,167.1 952.8,168.0 954.5,169.6 956.2,169.7 957.4,170.6 958.2,169.6 958.0,167.4 959.7,166.7 960.4,165.6 961.4,163.5 963.3,162.7 964.3,161.5 966.3,160.7 967.4,163.0 966.4,164.2 966.5,166.1 965.9,167.5 964.3,168.6 962.6,169.5 962.2,170.7 962.2,172.4 962.2,174.3 961.4,176.4 959.7,177.8 959.2,179.5 958.8,181.3 959.4,183.3 959.9,185.2 959.3,187.8 960.4,190.2 961.7,191.5 961.9,193.0 961.3,194.7 961.4,197.1 962.2,198.5 962.6,200.8 963.6,201.5 964.3,203.0 964.0,205.1 964.4,207.2 963.3,209.8 963.1,212.4 962.3,213.8 960.2,212.8 958.7,213.2 956.4,213.0 954.5,211.6 952.6,211.1 950.2,212.0 948.6,212.0 947.6,213.8 945.6,214.5 942.8,214.4 940.7,216.0 938.0,215.3 936.5,214.6 935.9,212.9 934.8,212.0 934.2,210.2 933.0,209.1 931.6,209.0 928.9,209.1 927.3,208.5 925.7,208.4 923.9,207.2 923.0,206.1 920.3,205.5 919.0,204.1 917.2,203.7 914.6,204.8 912.5,204.5 911.3,205.2 909.7,203.0 907.3,202.2 905.7,201.3 905.1,200.3 903.2,200.5 901.4,199.3 900.0,198.4 897.4,198.5 896.6,197.0 895.5,196.3 894.1,195.2 892.5,194.8 892.4,192.9 892.0,191.8 890.4,190.8 889.4,188.6 888.0,187.4 887.6,185.7 888.5,184.1 887.9,182.3 888.0,181.2 885.5,180.1 884.5,178.2 884.1,175.7 885.5,173.3 887.2,172.4 888.7,170.6 890.6,170.9 892.6,170.6 893.6,169.6 895.6,170.1 897.4,169.4 899.5,168.6 900.7,168.1 902.7,168.6 904.4,167.6 906.3,167.2 908.1,166.7 909.3,165.6 910.3,166.6 912.4,166.7 913.6,166.4 915.2,166.6 917.2,167.1 918.3,168.0 919.1,169.6 921.1,170.3 922.0,171.8 924.0,172.5 924.7,174.0 926.7,175.7 928.9,176.4 930.6,176.1 931.4,175.1 933.3,174.9 934.8,175.5 935.6,174.3 935.3,172.6 936.8,171.5 938.0,169.3 940.0,168.6 940.7,167.6 943.1,166.2 944.5,165.4 946.6,165.6 948.5,165.4Z" fill="#FF9F90"/>
<path class="d" d="M890.4,190.8 892.0,191.8 892.4,192.9 892.5,194.8 894.1,195.2 895.5,196.3 896.6,197.0 897.4,198.5 900.0,198.4 901.4,199.3 903.2,200.5 905.1,200.3 905.7,201.3 907.3,202.2 909.7,203.0 911.3,205.2 912.5,204.5 914.6,204.8 917.2,203.7 919.0,204.1 920.3,205.5 923.0,206.1 923.9,207.2 925.7,208.4 927.3,208.5 928.9,209.1 931.6,209.0 933.0,209.1 934.2,210.2 934.8,212.0 935.9,212.9 936.5,214.6 938.0,215.3 940.7,216.0 941.4,217.9 940.8,219.7 940.9,221.3 939.7,223.0 940.0,224.4 939.9,225.9 939.1,227.2 938.8,228.9 937.1,231.0 936.8,232.6 936.2,234.3 936.8,235.8 935.8,237.5 934.5,238.1 933.6,239.3 933.4,240.7 933.9,242.7 933.9,244.3 934.3,245.7 933.8,247.5 932.9,248.6 933.2,250.8 933.7,252.7 934.8,253.5 934.5,254.6 933.3,256.1 932.0,256.6 931.1,258.0 928.9,258.4 926.2,259.2 923.8,260.4 923.0,262.3 921.8,261.0 920.0,260.7 918.5,261.6 917.2,261.4 914.8,261.6 913.1,262.2 911.3,264.3 909.9,265.4 907.3,265.7 905.4,267.3 903.6,267.1 902.1,268.0 900.2,269.1 899.5,270.2 898.2,271.5 896.6,272.0 894.7,272.5 892.8,272.2 891.4,271.2 890.6,270.0 890.4,268.2 892.2,267.6 893.8,265.9 894.3,263.3 894.7,261.9 894.1,260.2 894.4,258.3 895.3,257.4 893.6,256.6 892.4,256.6 891.7,255.2 890.4,254.5 889.2,255.6 886.5,256.4 884.1,255.6 883.5,254.1 881.6,252.5 879.8,250.6 878.2,250.3 876.7,248.6 874.1,248.6 871.9,248.4 870.8,247.6 869.2,246.6 867.9,244.9 866.2,244.7 864.9,243.7 863.1,242.9 861.2,243.3 860.7,242.0 859.0,240.7 857.3,240.1 856.8,238.9 856.7,237.5 856.0,235.8 856.6,233.8 857.8,233.1 858.1,231.5 858.0,229.9 857.3,228.0 858.0,226.7 857.8,225.2 857.0,224.0 858.4,222.4 858.6,221.2 859.1,219.5 858.0,217.5 860.4,216.2 862.9,216.6 863.9,215.8 864.9,214.5 866.3,213.4 868.8,213.6 871.3,214.0 872.9,213.4 874.7,211.6 874.6,209.8 873.7,207.7 874.3,206.1 873.7,204.2 874.7,201.8 875.6,200.1 875.4,198.4 876.9,196.5 878.6,195.9 880.2,195.0 882.8,195.7 884.2,195.4 886.5,194.0 887.7,191.7 888.7,190.8Z" fill="#FF9F90"/>
<path class="d" d="M940.7,216.0 942.8,214.4 945.6,214.5 947.6,213.8 948.6,212.0 950.2,212.0 952.6,211.1 954.5,211.6 956.4,213.0 958.7,213.2 960.2,212.8 962.3,213.8 961.8,214.8 961.7,216.9 961.6,218.7 962.3,219.7 961.6,220.6 961.6,222.6 963.3,224.2 963.3,225.6 963.8,228.0 963.3,229.4 964.3,231.5 966.1,231.5 967.3,230.5 967.4,228.3 968.4,227.0 967.8,225.8 968.2,223.6 969.8,224.7 970.9,226.1 971.2,227.5 972.8,229.3 974.9,229.7 976.1,230.5 977.2,231.7 978.4,232.2 978.8,234.2 980.0,235.4 982.0,235.7 982.8,236.8 984.9,237.4 985.7,239.3 986.6,240.3 987.0,242.2 986.2,243.7 985.5,244.9 984.0,245.6 985.7,247.4 986.0,249.5 986.9,250.6 985.8,252.7 986.1,254.8 984.0,256.4 986.2,257.1 987.6,258.9 987.9,260.4 989.7,261.4 990.6,262.9 992.4,264.0 993.8,264.3 995.1,265.1 997.4,264.7 998.1,266.4 999.7,267.3 1002.0,268.1 1003.6,267.4 1005.6,269.2 1007.0,271.2 1008.8,272.0 1009.5,273.1 1010.4,275.4 1012.4,277.1 1010.7,277.9 1008.8,278.4 1007.5,278.1 1005.6,277.6 1004.3,277.9 1003.3,278.6 1001.6,279.0 999.3,278.8 997.3,278.8 995.7,280.0 994.3,279.4 992.8,278.0 991.5,278.0 989.8,277.1 988.3,278.5 986.8,279.6 984.9,280.0 984.2,281.3 982.5,282.4 982.3,284.2 981.0,285.9 980.9,287.6 980.1,289.1 978.8,289.8 977.1,291.8 977.1,294.2 975.5,296.1 973.9,296.7 973.1,298.2 972.0,296.6 971.9,294.8 971.4,293.2 972.2,290.8 970.8,290.4 969.5,289.2 967.5,289.4 966.3,288.9 964.7,289.1 963.4,288.4 961.6,287.4 960.4,285.9 958.4,285.4 957.2,285.9 956.5,284.8 954.5,284.0 952.5,282.8 951.0,282.5 949.6,283.0 947.0,283.8 945.3,284.7 944.7,285.9 943.3,288.0 941.3,289.5 939.7,289.8 938.0,287.8 935.7,286.6 933.9,286.9 932.8,286.6 931.4,285.4 928.8,285.3 927.0,285.9 925.2,285.6 924.0,284.7 922.3,284.4 921.1,284.9 919.4,283.6 917.4,283.0 916.2,283.0 914.5,280.9 912.2,280.3 911.3,279.0 909.7,278.5 908.5,278.8 906.6,278.2 905.4,277.1 904.0,276.6 901.5,276.6 899.5,275.1 898.4,273.5 896.5,272.3 895.1,271.9 892.8,272.2 894.7,272.5 896.6,272.0 898.2,271.5 899.5,270.2 900.2,269.1 902.1,268.0 903.6,267.1 905.4,267.3 907.3,265.7 909.9,265.4 911.3,264.3 913.1,262.2 914.8,261.6 917.2,261.4 918.5,261.6 920.0,260.7 921.8,261.0 923.0,262.3 923.8,260.4 926.2,259.2 928.9,258.4 931.1,258.0 932.0,256.6 933.3,256.1 934.5,254.6 934.8,253.5 933.7,252.7 933.2,250.8 932.9,248.6 933.8,247.5 934.3,245.7 933.9,244.3 933.9,242.7 933.4,240.7 933.6,239.3 934.5,238.1 935.8,237.5 936.8,235.8 936.2,234.3 936.8,232.6 937.1,231.0 938.8,228.9 939.1,227.2 939.9,225.9 940.0,224.4 939.7,223.0 940.9,221.3 940.8,219.7 941.4,217.9Z" fill="#FF9F90"/>
<path class="d" d="M986.6,240.3 988.5,241.4 991.2,240.9 992.6,240.3 993.8,239.3 993.3,237.4 993.7,235.4 994.8,234.4 996.3,233.9 998.0,233.9 999.7,232.5 1001.7,231.7 1003.1,230.4 1004.6,231.1 1006.5,230.5 1008.2,228.6 1009.3,227.8 1011.5,227.5 1012.8,228.2 1014.5,227.8 1015.6,226.1 1017.4,225.6 1018.0,223.0 1019.5,222.4 1021.3,220.7 1023.4,219.1 1025.2,218.7 1027.0,219.1 1028.8,218.7 1031.1,219.7 1033.8,219.8 1035.2,220.0 1037.0,218.7 1038.8,217.9 1040.8,218.2 1042.9,219.7 1044.3,220.3 1046.8,219.8 1048.8,221.7 1051.2,221.8 1051.9,223.4 1053.7,224.6 1054.9,226.4 1056.6,227.5 1055.2,229.1 1055.0,230.7 1054.7,232.9 1052.4,233.6 1050.9,233.4 1049.7,234.3 1048.8,235.8 1047.5,235.7 1046.0,236.4 1043.9,237.8 1043.3,239.3 1042.1,240.4 1042.5,242.1 1041.9,243.7 1040.7,245.3 1040.3,246.9 1039.7,248.7 1039.9,250.6 1039.5,252.6 1040.0,255.0 1039.0,257.4 1037.4,259.1 1035.8,259.3 1034.1,261.4 1033.2,262.9 1031.6,263.5 1029.1,264.3 1028.7,266.6 1027.5,268.1 1027.2,269.2 1025.3,269.5 1023.9,269.1 1022.3,270.2 1021.5,271.4 1019.6,272.4 1019.2,274.0 1017.4,276.1 1015.3,277.1 1013.6,277.4 1012.4,277.1 1010.4,275.4 1009.5,273.1 1008.8,272.0 1007.0,271.2 1005.6,269.2 1003.6,267.4 1002.0,268.1 999.7,267.3 998.1,266.4 997.4,264.7 995.1,265.1 993.8,264.3 992.4,264.0 990.6,262.9 989.7,261.4 987.9,260.4 987.6,258.9 986.2,257.1 984.0,256.4 986.1,254.8 985.8,252.7 986.9,250.6 986.0,249.5 985.7,247.4 984.0,245.6 985.5,244.9 986.2,243.7 987.0,242.2Z" fill="#FF9F90"/>
<path class="d" d="M839.3,106.5 840.6,107.7 842.8,108.0 845.2,107.5 846.5,107.0 847.8,105.3 849.6,106.0 851.1,105.5 853.4,104.5 855.1,104.0 857.0,104.6 859.3,104.7 860.7,103.5 861.9,101.6 861.1,99.9 861.6,98.0 862.9,95.7 861.9,94.1 861.9,92.8 864.0,94.2 865.3,94.3 866.8,93.8 868.4,93.5 869.8,92.3 871.4,93.1 872.7,92.8 873.7,93.5 874.4,95.2 876.6,96.7 875.9,97.7 876.3,99.7 876.4,101.4 877.6,102.6 877.9,104.3 878.5,105.5 879.9,106.8 881.6,107.5 882.0,109.4 883.9,110.3 884.5,111.4 886.6,112.4 887.9,112.8 890.4,112.4 891.9,113.6 892.4,115.4 893.4,116.7 893.8,118.2 893.2,120.4 892.8,121.4 893.4,123.2 893.5,124.6 892.7,126.2 893.8,127.4 894.3,129.1 893.8,130.6 894.0,132.0 892.4,134.0 890.8,134.5 888.5,133.9 886.5,135.0 885.2,137.4 883.5,137.9 882.1,136.2 880.0,136.3 878.6,135.0 876.0,134.4 874.4,135.5 872.7,136.0 871.4,136.8 869.8,137.0 869.3,135.0 868.2,134.4 866.8,133.0 864.9,131.5 862.3,131.2 860.9,130.1 858.3,130.3 857.0,129.1 855.1,131.0 853.1,132.1 851.6,132.0 849.8,132.5 848.8,134.4 847.2,135.0 845.7,135.4 844.5,137.1 842.5,138.0 841.3,138.0 839.5,137.4 838.3,138.2 836.4,138.0 835.0,137.5 833.4,136.0 832.5,133.9 831.5,133.0 830.3,131.9 829.7,130.0 828.3,129.5 827.5,128.1 826.2,126.2 826.7,124.2 826.5,122.2 827.6,120.9 827.7,119.2 829.5,118.3 830.7,116.9 831.3,115.3 830.9,113.6 831.5,112.4 833.1,110.2 835.4,109.5 836.0,108.4 837.5,107.3Z" fill="#FF0000"/>
<path class="d" d="M750.9,143.9 752.4,143.4 753.4,141.9 754.5,139.7 754.8,138.0 755.6,136.6 757.1,135.4 758.6,133.7 759.8,133.3 761.5,132.6 762.7,133.0 765.0,132.4 766.2,131.2 767.3,130.7 768.3,129.2 767.9,127.7 768.6,126.2 771.1,125.2 773.0,125.5 774.5,125.2 775.4,124.2 777.3,123.8 778.2,121.7 780.4,120.3 782.1,119.7 783.8,119.6 785.6,118.5 786.3,117.3 788.6,116.1 790.1,115.8 792.2,116.3 794.3,115.2 795.6,116.0 797.4,115.5 798.1,114.4 800.0,113.4 802.2,113.4 804.2,111.6 805.9,109.5 807.8,108.0 809.1,107.7 810.2,108.5 812.0,108.4 813.8,107.5 815.6,105.9 817.9,105.3 819.7,105.5 822.0,105.5 823.8,103.9 825.6,103.6 826.9,101.2 828.6,100.8 829.5,99.6 827.4,98.5 826.5,96.7 824.5,95.1 822.6,94.7 823.8,92.2 823.6,89.8 826.1,89.9 827.5,88.8 829.1,89.8 830.7,90.3 832.4,91.8 834.4,93.1 836.3,93.3 837.4,92.8 838.6,93.1 840.1,94.8 840.0,96.8 841.3,98.7 841.4,100.7 842.3,102.6 841.6,105.0 839.3,106.5 837.5,107.3 836.0,108.4 835.4,109.5 833.1,110.2 831.5,112.4 830.9,113.6 831.3,115.3 830.7,116.9 829.5,118.3 827.7,119.2 827.6,120.9 826.5,122.2 826.7,124.2 826.2,126.2 827.5,128.1 828.3,129.5 829.7,130.0 830.3,131.9 831.5,133.0 832.5,133.9 833.4,136.0 831.9,137.2 831.5,139.9 830.2,140.6 829.0,142.6 826.5,142.9 825.3,145.2 825.6,147.8 824.2,147.2 822.6,147.7 821.5,147.6 819.7,148.2 817.7,149.7 815.4,150.7 813.1,150.9 811.8,150.2 809.8,150.7 807.9,150.7 805.9,151.8 805.3,153.7 804.0,154.7 802.5,156.2 800.7,156.5 799.0,158.6 797.4,160.2 795.1,160.8 793.5,160.5 792.2,160.6 789.7,160.3 788.0,162.1 786.3,162.5 785.0,162.3 783.5,163.4 782.5,164.8 780.4,166.4 779.0,167.7 778.0,168.9 777.5,170.4 775.5,170.6 774.5,171.4 772.6,172.4 770.3,172.4 768.5,172.3 767.6,171.4 766.8,170.3 764.7,169.4 765.4,167.7 765.0,165.8 765.6,164.5 764.4,163.5 764.2,161.6 764.8,159.9 763.7,157.6 763.4,156.2 764.0,153.9 763.6,152.2 761.7,150.7 759.6,149.2 758.5,148.5 756.8,148.8 756.0,146.7 755.0,145.7 753.6,145.2 752.2,144.1Z" fill="#A80000"/>
<path class="d" d="M722.4,184.1 724.0,185.7 724.9,186.7 727.3,187.1 728.7,187.6 730.8,187.0 733.2,186.1 734.6,185.1 736.7,184.4 738.1,182.8 739.1,182.2 741.0,182.5 742.6,181.7 745.0,183.1 746.4,182.5 747.4,181.5 748.8,181.5 750.9,182.2 752.1,181.6 753.5,179.8 755.8,179.4 756.8,178.2 758.3,177.8 759.9,176.7 761.3,175.8 763.7,176.3 764.2,173.6 766.6,173.0 767.6,171.4 768.5,172.3 770.3,172.4 772.6,172.4 774.5,171.4 773.2,172.2 772.5,174.3 774.8,174.5 776.7,175.6 777.4,177.3 779.1,178.0 780.5,178.3 782.3,178.2 783.5,178.8 785.3,178.5 786.7,180.4 788.2,181.2 790.5,181.6 792.2,182.7 793.1,184.1 794.8,186.3 795.6,188.5 795.1,190.0 796.5,192.4 796.6,194.1 795.9,195.1 796.1,196.9 793.8,198.6 793.4,200.3 793.1,202.8 791.5,204.8 790.2,205.7 789.2,207.7 789.4,210.5 790.9,211.9 791.2,213.6 791.8,216.1 790.9,217.8 792.1,218.4 793.1,220.5 793.3,222.9 793.6,224.7 792.2,227.0 792.5,228.2 792.1,230.0 792.8,231.1 793.1,232.9 792.8,234.9 791.4,236.3 791.2,238.8 790.4,240.2 790.4,242.5 789.4,244.0 788.2,244.7 788.1,246.3 787.0,248.0 786.0,250.0 784.3,250.6 784.1,253.2 782.8,254.3 782.3,256.4 781.9,257.9 781.0,259.1 780.3,260.8 780.4,262.3 779.1,264.1 777.8,265.0 777.9,267.0 776.8,268.6 776.0,267.8 774.2,267.0 771.5,266.3 770.0,265.8 768.8,263.6 768.4,261.4 767.6,260.4 766.3,258.3 764.9,257.6 762.7,256.4 762.1,254.1 760.9,253.0 759.2,252.4 757.8,251.5 756.7,249.6 756.5,247.9 754.4,247.4 752.9,245.6 752.2,243.1 750.8,242.2 748.9,241.7 748.0,240.7 746.5,239.4 745.4,239.4 745.1,237.7 744.2,236.2 743.0,235.8 740.6,235.7 738.7,235.1 737.2,233.9 735.9,233.8 734.6,232.8 733.2,231.2 732.2,228.9 730.5,227.6 729.0,225.5 728.4,224.0 728.3,222.1 728.0,220.8 726.6,219.7 726.1,217.4 726.3,215.2 726.2,213.5 725.1,211.3 724.1,209.8 722.4,209.3 721.3,207.9 721.4,206.2 721.4,204.4 720.1,203.4 719.1,200.9 717.6,200.6 716.5,199.5 717.2,197.9 718.2,197.0 718.5,194.6 719.0,191.9 720.5,189.6 722.0,187.5 722.6,185.9Z" fill="#A80000"/>
<path class="d" d="M997.7,156.8 999.9,155.4 1001.9,154.4 1003.6,154.8 1005.5,155.3 1006.8,154.8 1008.6,154.5 1009.5,153.9 1009.7,151.5 1011.5,149.9 1013.4,150.8 1014.4,151.9 1015.4,154.4 1015.0,156.5 1015.4,157.8 1013.6,158.6 1012.4,160.7 1010.1,161.8 1008.5,163.7 1009.8,164.6 1010.5,166.6 1012.6,166.4 1014.4,167.1 1015.4,168.6 1015.8,170.9 1017.0,172.3 1018.6,173.5 1019.3,174.5 1020.9,176.0 1022.8,176.8 1025.2,177.4 1027.5,177.6 1028.4,176.8 1030.1,176.4 1031.5,174.7 1032.1,172.5 1032.6,173.7 1034.1,174.5 1034.1,176.4 1036.2,176.1 1037.9,176.2 1039.0,177.4 1040.5,178.3 1040.9,179.5 1042.9,180.4 1044.7,180.9 1045.4,182.1 1047.5,181.7 1048.8,182.3 1050.6,182.9 1052.5,182.3 1053.5,183.7 1054.7,184.3 1056.4,183.8 1057.6,183.9 1058.8,182.6 1060.3,183.4 1061.6,183.3 1062.5,185.6 1064.0,186.8 1064.5,188.2 1063.9,190.0 1063.0,191.1 1063.7,192.5 1063.5,194.1 1063.5,196.0 1064.4,197.4 1065.7,198.2 1066.5,200.0 1068.1,200.5 1069.7,202.3 1071.4,202.5 1072.4,203.0 1073.7,203.4 1074.8,205.0 1076.2,206.6 1076.3,207.9 1076.9,209.8 1076.9,212.2 1077.9,213.4 1078.3,214.8 1077.3,216.7 1075.7,217.6 1074.3,217.7 1072.2,216.8 1070.5,217.2 1068.4,217.7 1067.1,218.2 1065.6,219.8 1064.5,221.6 1063.0,222.1 1061.8,224.6 1059.6,225.6 1057.5,226.6 1056.6,227.5 1054.9,226.4 1053.7,224.6 1051.9,223.4 1051.2,221.8 1048.8,221.7 1046.8,219.8 1044.3,220.3 1042.9,219.7 1040.8,218.2 1038.8,217.9 1037.0,218.7 1035.2,220.0 1033.8,219.8 1031.1,219.7 1028.8,218.7 1027.0,219.1 1025.2,218.7 1026.4,217.0 1026.2,215.7 1026.1,213.9 1025.2,213.0 1023.5,212.3 1022.3,210.8 1020.7,209.6 1019.9,208.6 1017.4,207.9 1016.6,205.9 1015.5,204.4 1013.4,204.0 1012.1,203.8 1010.9,202.6 1009.5,201.0 1007.6,200.8 1006.5,201.6 1004.9,200.4 1003.6,200.0 1002.2,198.7 999.9,198.4 997.7,199.0 996.5,197.1 994.7,195.8 992.8,196.1 990.6,194.8 989.7,193.3 988.1,192.2 986.9,192.2 986.2,189.7 984.5,187.6 983.0,187.3 982.1,185.7 982.7,184.6 982.8,183.0 982.9,181.6 984.0,180.4 985.5,179.5 986.2,178.0 986.5,176.7 986.8,174.6 985.9,172.5 985.2,169.9 986.0,168.1 986.9,167.4 987.9,165.6 989.3,163.3 991.0,163.0 992.5,162.0 992.8,160.7 994.6,158.6 995.5,157.5Z" fill="#A80000"/>
<path class="d" d="M774.5,171.4 775.5,170.6 777.5,170.4 778.0,168.9 779.0,167.7 780.4,166.4 782.5,164.8 783.5,163.4 785.0,162.3 786.3,162.5 788.0,162.1 789.7,160.3 792.2,160.6 793.5,160.5 795.1,160.8 797.4,160.2 799.0,158.6 800.7,156.5 802.5,156.2 804.0,154.7 805.3,153.7 805.9,151.8 807.9,150.7 809.8,150.7 811.8,150.2 813.1,150.9 815.4,150.7 817.7,149.7 819.7,148.2 821.5,147.6 822.6,147.7 824.2,147.2 825.6,147.8 825.3,145.2 826.5,142.9 829.0,142.6 830.2,140.6 831.5,139.9 831.9,137.2 833.4,136.0 835.0,137.5 836.4,138.0 838.3,138.2 839.5,137.4 841.3,138.0 842.5,138.0 844.5,137.1 845.7,135.4 847.2,135.0 848.8,134.4 849.8,132.5 851.6,132.0 853.1,132.1 855.1,131.0 857.0,129.1 858.3,130.3 860.9,130.1 862.3,131.2 864.9,131.5 866.8,133.0 868.2,134.4 869.3,135.0 869.8,137.0 869.9,139.5 868.8,140.8 868.8,142.9 868.7,145.2 869.6,146.6 870.9,147.4 871.8,148.8 874.0,150.4 875.6,152.1 875.7,154.6 877.3,154.9 878.9,154.5 880.6,155.1 881.6,156.6 882.3,158.3 883.0,159.0 882.7,161.2 883.5,162.5 884.2,165.0 883.8,166.9 882.6,168.4 884.0,169.3 885.2,170.6 885.5,173.3 884.1,175.7 884.5,178.2 885.5,180.1 888.0,181.2 887.9,182.3 888.5,184.1 887.6,185.7 888.0,187.4 889.4,188.6 890.4,190.8 888.7,190.8 887.7,191.7 886.5,194.0 884.2,195.4 882.8,195.7 880.2,195.0 878.6,195.9 876.9,196.5 875.4,198.4 875.6,200.1 874.7,201.8 873.7,204.2 874.3,206.1 873.7,207.7 874.6,209.8 874.7,211.6 872.9,213.4 871.3,214.0 868.8,213.6 866.3,213.4 864.9,214.5 863.9,215.8 862.9,216.6 860.4,216.2 858.0,217.5 855.9,215.9 854.4,216.0 853.1,215.6 851.0,216.0 849.7,215.7 847.2,214.6 845.8,215.9 845.1,217.5 843.2,218.5 841.3,219.1 840.1,219.8 839.3,221.5 837.8,222.3 835.9,222.3 834.6,221.1 833.0,221.1 831.5,220.5 829.6,219.1 827.4,218.4 825.6,218.5 824.0,219.4 822.8,219.6 821.0,221.2 819.0,220.3 817.7,220.5 815.3,219.1 814.4,217.7 812.6,218.3 811.4,217.6 809.8,217.5 807.4,218.5 805.9,218.3 804.0,219.5 802.6,220.7 801.2,221.1 799.9,221.9 798.1,221.5 796.3,222.1 795.1,221.8 793.1,220.5 792.1,218.4 790.9,217.8 791.8,216.1 791.2,213.6 790.9,211.9 789.4,210.5 789.2,207.7 790.2,205.7 791.5,204.8 793.1,202.8 793.4,200.3 793.8,198.6 796.1,196.9 795.9,195.1 796.6,194.1 796.5,192.4 795.1,190.0 795.6,188.5 794.8,186.3 793.1,184.1 792.2,182.7 790.5,181.6 788.2,181.2 786.7,180.4 785.3,178.5 783.5,178.8 782.3,178.2 780.5,178.3 779.1,178.0 777.4,177.3 776.7,175.6 774.8,174.5 772.5,174.3 773.2,172.2Z" fill="#730000"/>
<path class="d" d="M818.6,171.3 820.3,169.3 822.2,168.6 823.9,167.7 825.8,167.3 827.9,166.8 829.3,165.9 831.2,164.7 832.9,164.6 834.6,164.4 836.5,165.0 838.2,165.4 839.2,166.8 841.7,167.9 842.8,169.5 843.5,170.9 845.4,172.2 845.9,174.4 845.2,176.0 843.7,176.7 842.8,179.3 841.9,181.6 840.5,180.7 838.7,180.7 837.2,180.9 835.6,180.2 834.5,181.5 832.9,182.0 831.2,183.7 829.3,183.8 828.1,184.9 825.8,185.6 824.4,183.8 824.1,181.3 823.1,180.2 822.9,179.1 821.7,177.6 820.9,176.5 820.4,174.9 819.9,172.9Z" fill="#730000"/>
<text class="l" x="410.5" y="232">DC</text>
<text class="l" x="363.5" y="264">UL</text>
<text class="l" x="330.5" y="282">TP</text>
<text class="l w" x="304.5" y="293">MO</text>
<text class="l" x="261.5" y="318">CV</text>
<text class="l" x="444.5" y="271">CL</text>
<text class="l" x="500.5" y="244">LI</text>
<text class="l" x="525.5" y="257">JN</text>
<text class="l" x="550.5" y="281">SM</text>
<text class="l" x="603.5" y="293">TU</text>
<text class="l" x="641.8" y="319.7">NA</text>
<text class="l w" x="382.5" y="309">LT</text>
<text class="l w" x="424.5" y="339">ME</text>
<text class="l w" x="479.5" y="323">MB</text>
<text class="l" x="552.5" y="326">JC</text>
<text class="l" x="306.5" y="344">LN</text>
<text class="l" x="224.5" y="366">KV</text>
<text class="l" x="172.5" y="361">SO</text>
<text class="l" x="137.5" y="387">CH</text>
<text class="l w" x="370.5" y="370">KD</text>
<text class="l w" x="320.5" y="391">RA</text>
<text class="l" x="506.5" y="366">NB</text>
<text class="l" x="589.5" y="363">HK</text>
<text class="l" x="665.5" y="369">RK</text>
<text class="l" x="786.5" y="353">JE</text>
<text class="l w" x="421.5" y="398">PH</text>
<text class="l w" x="454.5" y="416">PY</text>
<text class="l" x="499.5" y="407">KO</text>
<text class="l" x="597.5" y="399">PU</text>
<text class="l" x="696.5" y="408">UO</text>
<text class="l" x="762.5" y="412">SU</text>
<text class="l" x="826.5" y="401">BR</text>
<text class="l" x="894.5" y="428">OP</text>
<text class="l w" x="941.0" y="442">OV</text>
<text class="l" x="971.5" y="438">KI</text>
<text class="l w" x="358.5" y="430">BE</text>
<text class="l" x="402.5" y="431">PZ</text>
<text class="l w" x="526.5" y="440">KH</text>
<text class="l" x="611.5" y="440">CR</text>
<text class="l" x="694.5" y="469">SY</text>
<text class="l" x="801.5" y="477">OC</text>
<text class="l" x="907.5" y="477">NJ</text>
<text class="l" x="978.5" y="485">FM</text>
<text class="l" x="258.5" y="432">PS</text>
<text class="l" x="309.5" y="453">RO</text>
<text class="l" x="187.5" y="456">TC</text>
<text class="l w" x="271.5" y="465">PM</text>
<text class="l" x="462.5" y="466">BN</text>
<text class="l" x="281.5" y="494">PJ</text>
<text class="l" x="370.5" y="482">PB</text>
<text class="l" x="567.5" y="482">HB</text>
<text class="l" x="204.5" y="516">DO</text>
<text class="l" x="512.5" y="532">PE</text>
<text class="l" x="644.5" y="518">ZR</text>
<text class="l" x="717.5" y="521">BK</text>
<text class="l" x="783.5" y="518">PV</text>
<text class="l" x="851.5" y="512">PR</text>
<text class="l" x="832.5" y="557">KM</text>
<text class="l" x="927.5" y="537">VS</text>
<text class="l" x="881.5" y="571" text-decoration="underline">ZL</text>
<text class="l" x="448.5" y="544">TA</text>
<text class="l" x="387.5" y="542">PI</text>
<text class="l" x="267.5" y="564">KT</text>
<text class="l" x="336.5" y="565">ST</text>
<text class="l" x="571.5" y="555">JI</text>
<text class="l" x="617.5" y="585">TR</text>
<text class="l" x="713.5" y="578">BM</text>
<text class="l" x="708.5" y="603">BI</text>
<text class="l" x="770.5" y="570">VY</text>
<text class="l" x="850.5" y="611">UH</text>
<text class="l" x="806.5" y="633">HO</text>
<text class="l" x="739.5" y="647">BV</text>
<text class="l" x="650.5" y="646">ZN</text>
<text class="l" x="504.5" y="595">JH</text>
<text class="l" x="418.5" y="625">CB</text>
<text class="l" x="336.5" y="625">PT</text>
<text class="l" x="393.5" y="678">CK</text>
<text class="lb" x="797" y="141">ULK</text>
<text class="lb" x="859" y="122">LBK</text>
<text class="lb" x="735" y="166">KVK</text>
<text class="lb" x="908" y="147">HKK</text>
<text class="lb w" x="831" y="177">PHA</text>
<text class="lb w" x="835" y="203">STC</text>
<text class="lb" x="924" y="191">PAK</text>
<text class="lb" x="756" y="217">PLK</text>
<text class="lb" x="988" y="218">OLK</text>
<text class="lb" x="1035" y="198">MSK</text>
<text class="lb" x="897" y="234">VYS</text>
<text class="lb" x="827" y="264">JHC</text>
<text class="lb" x="960" y="262">JHM</text>
<text class="lb" x="1018" y="253">ZLK</text>
<text class="lg" x="104" y="580.5">Kč</text>
<text class="lg" x="104" y="603" font-style="italic">CZK</text>
<rect x="103.3" y="612.3" width="37.4" height="18.6" fill="#FFDDD0" stroke="#6E6E6E" stroke-width="0.9"/>
<text class="lg" x="147.5" y="625.6" textLength="57" lengthAdjust="spacing">&lt;= 14 500</text>
<rect x="103.3" y="637.6" width="37.4" height="18.6" fill="#FF9F90" stroke="#6E6E6E" stroke-width="0.9"/>
<text class="lg" x="147.5" y="650.9" textLength="90.6" lengthAdjust="spacing">14 501 - 15 500</text>
<rect x="103.3" y="662.9" width="37.4" height="18.6" fill="#FF0000" stroke="#6E6E6E" stroke-width="0.9"/>
<text class="lg" x="147.5" y="676.2" textLength="90.6" lengthAdjust="spacing">15 501 - 16 500</text>
<rect x="103.3" y="688.2" width="37.4" height="18.6" fill="#A80000" stroke="#6E6E6E" stroke-width="0.9"/>
<text class="lg" x="147.5" y="701.5" textLength="90.6" lengthAdjust="spacing">16 501 - 17 500</text>
<rect x="103.3" y="713.5" width="37.4" height="18.6" fill="#730000" stroke="#6E6E6E" stroke-width="0.9"/>
<text class="lg" x="147.5" y="726.8" textLength="49" lengthAdjust="spacing">&gt; 17 500</text>
<text class="lg" x="527.5" y="698.5" xml:space="preserve" textLength="152.2" lengthAdjust="spacing">Česká republika =  16 308</text>
<text class="lg" x="527.5" y="714" xml:space="preserve" textLength="212.6" lengthAdjust="spacing">Maximum: Mladá Boleslav =  20 724</text>
<text class="lg" x="527.5" y="730" xml:space="preserve" textLength="174.7" lengthAdjust="spacing">Minimum: Prostějov  = 12 349</text>
</svg></body></html>
